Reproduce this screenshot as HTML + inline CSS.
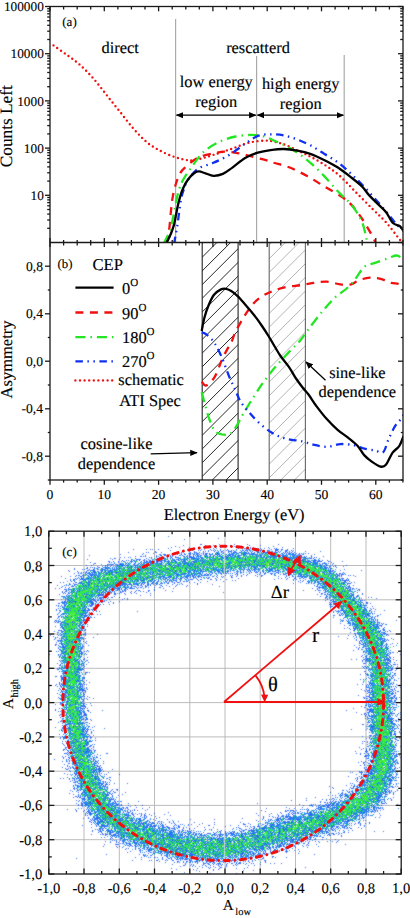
<!DOCTYPE html><html><head><meta charset="utf-8"><style>html,body{margin:0;padding:0;background:#fff;}svg{display:block;}text{font-family:"Liberation Serif",serif;fill:#000;stroke:#000;stroke-width:0.15px;text-rendering:geometricPrecision;}</style></head><body>
<svg width="410" height="918" viewBox="0 0 410 918">
<rect width="410" height="918" fill="#fff"/>
<defs><clipPath id="ca"><rect x="50" y="6.5" width="353" height="236"/></clipPath><clipPath id="cb"><rect x="50" y="242.5" width="353" height="237.5"/></clipPath><clipPath id="hb1"><rect x="202.2" y="242.5" width="35.9" height="237.5"/></clipPath><clipPath id="hb2"><rect x="269.2" y="242.5" width="36.2" height="237.5"/></clipPath><marker id="ah" viewBox="0 0 10 10" refX="9" refY="5" markerWidth="7.5" markerHeight="7.5" orient="auto-start-reverse" markerUnits="userSpaceOnUse"><path d="M0 0.8L10 5L0 9.2z" fill="#000"/></marker><marker id="ahr" viewBox="0 0 10 10" refX="9" refY="5" markerWidth="8" markerHeight="8" orient="auto-start-reverse" markerUnits="userSpaceOnUse"><path d="M0 1.5L10 5L0 8.5z" fill="#f00"/></marker></defs>
<g stroke="#aaa" stroke-width="1.2"><line x1="175.6" y1="19" x2="175.6" y2="242.5"/><line x1="256.6" y1="56" x2="256.6" y2="242.5"/><line x1="344.2" y1="55" x2="344.2" y2="242.5"/></g>
<g stroke="#000" stroke-width="1.3" fill="none"><line x1="176.5" y1="115.2" x2="255.8" y2="115.2" marker-start="url(#ah)" marker-end="url(#ah)"/><line x1="257.4" y1="115.2" x2="343.4" y2="115.2" marker-start="url(#ah)" marker-end="url(#ah)"/></g>
<text x="120.1" y="52.5" font-size="16.4" text-anchor="middle">direct</text>
<text x="258" y="52.5" font-size="16.4" text-anchor="middle">rescatterd</text>
<text x="216.3" y="87" font-size="16.4" text-anchor="middle">low energy</text>
<text x="216.3" y="106.5" font-size="16.4" text-anchor="middle">region</text>
<text x="300.7" y="88.5" font-size="16.4" text-anchor="middle">high energy</text>
<text x="300.7" y="109" font-size="16.4" text-anchor="middle">region</text>
<text x="69.5" y="26" font-size="13" text-anchor="middle" style="stroke-width:0.12px">(a)</text>
<g clip-path="url(#ca)">
<path d="M53.5 45.4C55.5 46.8 61.2 50.8 65.5 53.9C69.8 57 74.5 60.1 79.1 64.1C83.6 68.1 88.2 72.7 92.8 77.8C97.4 82.9 102 89.2 106.5 94.9C111 100.6 115.5 106.2 120.1 111.9C124.6 117.6 129.2 123.9 133.8 129C138.4 134.1 142.9 139 147.4 142.7C151.9 146.4 156.6 148.8 161.1 151.2C165.6 153.6 170.7 155.6 174.7 157C178.7 158.4 182.1 159.1 185 159.7C187.9 160.3 189.4 160.6 192 160.4C194.6 160.2 197.1 159.6 200.7 158.7C204.3 157.8 208.1 156.6 213.4 154.9C218.7 153.2 226.6 150.5 232.4 148.5C238.2 146.5 243 144.1 248.3 142.8C253.6 141.5 259.7 140.8 264.1 140.6C268.6 140.4 271.2 141 275 141.8C278.8 142.6 282.1 143.7 287 145.6C291.9 147.5 298.4 150.7 304.1 153.5C309.8 156.3 315.5 159.2 321.2 162.7C326.9 166.2 332.6 169.8 338.3 174.6C344 179.4 349.7 186 355.4 191.7C361.1 197.4 367.3 203.7 372.4 208.8C377.5 213.9 381.6 217.3 386.1 222.4C390.7 227.5 396.9 236.1 399.7 239.5C402.5 242.9 402.4 242.4 403 243" stroke="#f01010" stroke-width="2.4" stroke-dasharray="0 4.6" stroke-linecap="round" fill="none"/>
<path d="M166.5 244C166.9 241.9 168.3 236.6 169 231.2C169.7 225.8 170.3 217.4 170.9 211.7C171.5 206 171.8 201.8 172.7 197.1C173.5 192.4 174.8 187.4 176 183.5C177.2 179.6 178.5 176.2 180 173.5C181.5 170.8 182 170.2 184.9 167.6C187.8 165 192.8 160.4 197.6 158C202.3 155.6 208.7 154.4 213.4 153.3C218.1 152.2 221.8 151.7 226 151.7C230.2 151.7 234.6 152.5 238.8 153.3C243.1 154.1 247.3 155.4 251.5 156.5C255.7 157.6 260.5 158.6 264.1 159.6C267.8 160.6 269 161.3 273.4 162.7C277.8 164.1 284.8 165.5 290.5 167.8C296.2 170.1 301.9 173.2 307.6 176.3C313.3 179.4 318.9 183.2 324.6 186.6C330.3 190 337.1 193.7 341.7 196.8C346.2 199.9 348.5 201.7 351.9 205.4C355.3 209.1 358.8 213.9 362.2 219C365.6 224.1 370.1 231.9 372.4 236.1C374.7 240.3 375.4 242.7 376 244" stroke="#f01010" stroke-width="2.3" stroke-dasharray="8 6.5" fill="none"/>
<path d="M163.5 244C164.5 241.9 168 235.8 169.6 231.2C171.2 226.6 172.2 221.7 173.3 216.6C174.4 211.5 175.3 205.4 176.3 200.7C177.3 196 178.3 191.9 179.4 188.5C180.5 185.1 181 183.5 183 180C185 176.5 187.7 172.3 191.2 167.6C194.7 162.9 199.1 156 203.9 151.7C208.7 147.4 214.5 144.1 219.8 141.6C225.1 139.1 230.3 137.6 235.6 136.5C240.9 135.4 246.8 134.9 251.5 134.9C256.2 134.9 260.2 135.5 264.1 136.5C268 137.5 271.2 139.3 275 141C278.8 142.7 282.1 143.8 287 146.6C291.9 149.4 298.4 153.2 304.1 157.6C309.8 162 315.5 167.2 321.2 172.9C326.9 178.6 333.2 186.3 338.3 191.7C343.4 197.1 347.9 200.3 351.9 205.4C355.9 210.5 359.6 216 362.2 222.4C364.8 228.8 366.6 240.4 367.5 244" stroke="#22e622" stroke-width="2.3" stroke-dasharray="10 5 1.5 5" fill="none"/>
<path d="M174 244C174.2 242.7 174.9 239.3 175.5 236C176.1 232.7 176.9 228.2 177.6 223.9C178.2 219.7 178.8 214.8 179.4 210.5C180 206.2 180.5 201.8 181.2 198.3C181.9 194.9 182.7 192.7 183.7 189.8C184.7 187 185 184.7 187.3 181.2C189.6 177.7 193.2 172.1 197.6 169C201.9 165.9 208.1 165.2 213.4 162.8C218.7 160.5 224 158.1 229.3 154.9C234.6 151.7 240.3 147 245.1 143.8C249.8 140.6 253.6 137.5 257.8 135.9C262 134.3 266.2 134.4 270.5 134.3C274.8 134.2 279.2 134.5 283.7 135.4C288.2 136.3 292.8 137.8 297.3 139.5C301.9 141.2 306.4 143.2 311 145.6C315.6 148 320.1 151.2 324.6 154.1C329.2 156.9 333.8 159.3 338.3 162.7C342.9 166.1 347.3 170.3 351.9 174.6C356.4 178.9 361 183.5 365.6 188.3C370.2 193.1 375.3 199.1 379.3 203.6C383.3 208.1 386.7 212.2 389.5 215.6C392.3 219 393.9 221.5 396.3 224.1C398.7 226.7 402.7 229.8 404 231" stroke="#1030f0" stroke-width="2.3" stroke-dasharray="7.5 4.5 1.5 4.5 1.5 4.5" fill="none"/>
<path d="M166 244C166.8 242.3 169.6 236.8 170.9 233.7C172.2 230.5 173.1 227.9 173.9 225.1C174.7 222.2 175.1 219.6 175.7 216.6C176.3 213.6 176.9 210.1 177.6 206.8C178.3 203.6 179.1 200.2 180 197.1C180.9 194 181.7 191.4 183 188.5C184.3 185.6 186.1 182.1 188 179.5C189.9 176.9 192.6 174.3 194.4 173C196.2 171.7 197.2 171.3 199.1 171.4C200.9 171.5 203.1 172.6 205.5 173.3C207.9 174 210.5 175.7 213.4 175.8C216.3 175.9 219.7 175.3 222.9 173.9C226.1 172.5 228.7 170.2 232.4 167.6C236.1 164.9 240.9 160.5 245.1 158C249.3 155.5 253.6 154 257.8 152.7C262 151.4 266.2 150.7 270.5 150.1C274.8 149.5 279.2 148.9 283.7 149C288.2 149.1 292.8 149.8 297.3 150.7C301.9 151.5 306.4 152.5 311 154.1C315.6 155.7 320.1 158 324.6 160.3C329.2 162.6 333.8 164.9 338.3 167.8C342.9 170.8 347.9 174.9 351.9 178C355.9 181.1 359.3 183.8 362.2 186.6C365.1 189.4 366.1 192 369 195.1C371.9 198.2 376.4 202.6 379.3 205.4C382.2 208.2 383.8 209.3 386.1 212.2C388.4 215.1 390.6 220.7 392.9 223C395.2 225.3 397.9 224.7 399.7 226C401.5 227.3 402.9 230.2 403.5 231" stroke="#000" stroke-width="2.3" fill="none"/>
</g>
<g clip-path="url(#hb1)" stroke="#111" stroke-width="0.9"><line x1="-34.3" y1="480" x2="203.2" y2="242.5"/><line x1="-20.6" y1="480" x2="216.9" y2="242.5"/><line x1="-6.9" y1="480" x2="230.6" y2="242.5"/><line x1="6.8" y1="480" x2="244.3" y2="242.5"/><line x1="20.5" y1="480" x2="258" y2="242.5"/><line x1="34.2" y1="480" x2="271.7" y2="242.5"/><line x1="47.9" y1="480" x2="285.4" y2="242.5"/><line x1="61.6" y1="480" x2="299.1" y2="242.5"/><line x1="75.3" y1="480" x2="312.8" y2="242.5"/><line x1="89" y1="480" x2="326.5" y2="242.5"/><line x1="102.7" y1="480" x2="340.2" y2="242.5"/><line x1="116.4" y1="480" x2="353.9" y2="242.5"/><line x1="130.1" y1="480" x2="367.6" y2="242.5"/><line x1="143.8" y1="480" x2="381.3" y2="242.5"/><line x1="157.5" y1="480" x2="395" y2="242.5"/><line x1="171.2" y1="480" x2="408.7" y2="242.5"/><line x1="184.9" y1="480" x2="422.4" y2="242.5"/><line x1="198.6" y1="480" x2="436.1" y2="242.5"/><line x1="212.3" y1="480" x2="449.8" y2="242.5"/><line x1="226" y1="480" x2="463.5" y2="242.5"/><line x1="239.7" y1="480" x2="477.2" y2="242.5"/></g>
<g stroke="#222" stroke-width="1.1"><line x1="202.2" y1="242.5" x2="202.2" y2="480"/><line x1="238.1" y1="242.5" x2="238.1" y2="480"/></g>
<g clip-path="url(#hb2)" stroke="#aaa" stroke-width="0.9"><line x1="34.2" y1="480" x2="271.7" y2="242.5"/><line x1="47.9" y1="480" x2="285.4" y2="242.5"/><line x1="61.6" y1="480" x2="299.1" y2="242.5"/><line x1="75.3" y1="480" x2="312.8" y2="242.5"/><line x1="89" y1="480" x2="326.5" y2="242.5"/><line x1="102.7" y1="480" x2="340.2" y2="242.5"/><line x1="116.4" y1="480" x2="353.9" y2="242.5"/><line x1="130.1" y1="480" x2="367.6" y2="242.5"/><line x1="143.8" y1="480" x2="381.3" y2="242.5"/><line x1="157.5" y1="480" x2="395" y2="242.5"/><line x1="171.2" y1="480" x2="408.7" y2="242.5"/><line x1="184.9" y1="480" x2="422.4" y2="242.5"/><line x1="198.6" y1="480" x2="436.1" y2="242.5"/><line x1="212.3" y1="480" x2="449.8" y2="242.5"/><line x1="226" y1="480" x2="463.5" y2="242.5"/><line x1="239.7" y1="480" x2="477.2" y2="242.5"/><line x1="253.4" y1="480" x2="490.9" y2="242.5"/><line x1="267.1" y1="480" x2="504.6" y2="242.5"/><line x1="280.8" y1="480" x2="518.3" y2="242.5"/><line x1="294.5" y1="480" x2="532" y2="242.5"/></g>
<g stroke="#666" stroke-width="1.1"><line x1="269.2" y1="242.5" x2="269.2" y2="480"/><line x1="305.4" y1="242.5" x2="305.4" y2="480"/></g>
<g clip-path="url(#cb)">
<path d="M201.7 381.6C202.4 382.3 203.9 385.8 205.7 385.6C207.5 385.4 210.6 382.2 212.4 380.2C214.2 378.2 214.9 376.9 216.5 373.5C218.1 370.1 220 364.1 221.8 360.1C223.6 356.1 225.6 352.3 227.2 349.4C228.8 346.5 229.9 345.5 231.2 342.7C232.5 339.9 233.2 336.8 235.2 332.6C237.2 328.5 240.4 322.5 243.3 317.8C246.2 313.1 249.6 308 252.7 304.4C255.8 300.8 258.8 298.5 262.1 296.3C265.5 294.1 268.8 292.6 272.8 291C276.8 289.4 281.5 288 286.2 287C290.9 286 296.5 285.8 301 285.1C305.5 284.4 309.1 283.5 313.4 282.9C317.7 282.3 322.3 281.4 326.8 281.6C331.3 281.8 336.2 283.9 340.2 284.3C344.2 284.8 347.9 285 351 284.3C354.1 283.6 355.9 281.3 359 280.2C362.1 279.1 366.2 277.8 369.8 277.6C373.4 277.4 376.9 278 380.5 278.9C384.1 279.8 388.1 282 391.2 282.9C394.3 283.8 397.2 283.1 399.3 284.3C401.4 285.5 402.8 289.1 403.5 290" stroke="#f01010" stroke-width="2.3" stroke-dasharray="8 6.5" fill="none"/>
<path d="M201.7 392.3C202.4 394.8 204.3 402.3 205.7 407C207 411.7 208.2 416.5 209.8 420.5C211.4 424.5 213.1 428.9 215.1 431.2C217.1 433.5 219.3 433.9 221.8 434.4C224.3 434.8 227.4 435.3 229.9 433.9C232.4 432.5 234.4 429.2 236.6 425.8C238.8 422.4 240.4 418.6 243.3 413.7C246.2 408.8 250.4 401.9 254 396.3C257.6 390.7 261.2 385.1 264.8 380.2C268.4 375.3 271.5 371.5 275.5 366.8C279.5 362.1 284.9 356.4 288.9 352.1C292.9 347.9 296.4 345 299.6 341.3C302.8 337.6 304.4 334.7 308 329.9C311.6 325.1 317 317.8 321.5 312.4C326 307 330.4 301.9 334.9 297.7C339.4 293.5 344.7 290.4 348.3 287C351.9 283.6 353.6 281 356.3 277.6C359 274.2 361.3 269.3 364.4 266.8C367.5 264.3 371.1 264.2 375.1 262.8C379.1 261.4 384.9 259.4 388.5 258.2C392.1 257 394.2 255.4 396.6 255.5C399 255.6 401.9 258.4 403 259" stroke="#22e622" stroke-width="2.3" stroke-dasharray="10 5 1.5 5" fill="none"/>
<path d="M201.7 332.6C202.4 332.8 204.1 332.9 205.7 333.9C207.3 334.9 209.5 337 211.1 338.7C212.7 340.4 213.3 340.9 215.1 344C216.9 347.1 219.6 352.2 221.8 357.4C224 362.5 226.3 369.5 228.5 374.9C230.7 380.3 233.2 385.1 235.2 389.6C237.2 394.1 238.3 398 240.6 401.7C242.8 405.4 245.6 408.3 248.7 411.9C251.8 415.5 255.4 419.6 259.4 423.2C263.4 426.8 268.3 430.7 272.8 433.3C277.3 435.9 281.3 437.4 286.2 438.7C291.1 440 297.8 440.4 302.3 441.4C306.8 442.4 309.3 443.7 313.4 444.6C317.5 445.5 322.3 446.9 326.8 446.8C331.3 446.7 335.7 444.4 340.2 444.1C344.7 443.8 349.7 444.4 353.7 445.2C357.7 446 360.8 447.8 364.4 448.7C368 449.6 372 449.9 375.1 450.5C378.2 451.1 381 454.1 383.2 452.2C385.4 450.3 386.5 443.7 388.5 439.3C390.5 434.9 392.9 429.5 395.2 425.9C397.4 422.3 400.4 420.3 402 417.8C403.6 415.3 404.2 412.2 404.6 411.1" stroke="#1030f0" stroke-width="2.3" stroke-dasharray="7.5 4.5 1.5 4.5 1.5 4.5" fill="none"/>
<path d="M201.7 331C202.1 328.8 203.3 322 204.4 317.8C205.5 313.6 206.8 309.5 208.4 305.7C210 301.9 211.8 297.7 213.8 295C215.8 292.3 218.5 290.6 220.5 289.6C222.5 288.6 224.1 288.6 225.9 288.8C227.7 289 229.2 289.8 231.2 291C233.2 292.2 235.4 293.9 237.9 296.3C240.4 298.7 243.3 302.4 246 305.5C248.7 308.6 251.3 311.6 254 315C256.7 318.4 259.6 322.5 262 326C264.4 329.5 266.3 332.5 268.5 336C270.7 339.5 273 343.7 275 347C277 350.3 278.2 352.7 280.5 356C282.8 359.3 286.3 363.1 288.9 366.8C291.5 370.6 293.6 375 296 378.5C298.4 382 300.9 385.3 303 388C305.1 390.7 306.3 391.6 308.5 394.5C310.7 397.4 313.1 401.6 316.1 405.7C319.2 409.8 323.2 415.1 326.8 419.1C330.4 423.1 334 426.8 337.6 429.9C341.2 433 345 435.2 348.3 437.9C351.6 440.6 355 443.1 357.7 446C360.4 448.9 361.9 452.7 364.4 455.4C366.8 458.1 369.7 460.2 372.4 462.1C375.1 464 378.2 466.2 380.5 466.6C382.8 467.1 383.9 467.1 385.9 464.8C387.9 462.5 390.4 455.8 392.6 452.7C394.8 449.6 397.5 448.8 399.3 446C401.1 443.2 402.8 437.7 403.5 436" stroke="#000" stroke-width="2.3" fill="none"/>
</g>
<text x="57.5" y="268" font-size="12.8" text-anchor="start" style="stroke-width:0.12px">(b)</text>
<text x="92.5" y="269.5" font-size="16.6" text-anchor="start">CEP</text>
<line x1="75.4" y1="287.7" x2="113.6" y2="287.7" stroke="#000" stroke-width="2.3" fill="none"/>
<text x="122" y="293.7" font-size="16.4">0<tspan font-size="11" dy="-8">O</tspan></text>
<line x1="75.4" y1="312.5" x2="113.6" y2="312.5" stroke="#f01010" stroke-width="2.3" stroke-dasharray="8 6.5" fill="none"/>
<text x="122" y="318.5" font-size="16.4">90<tspan font-size="11" dy="-8">O</tspan></text>
<line x1="75.4" y1="337.1" x2="113.6" y2="337.1" stroke="#22e622" stroke-width="2.3" stroke-dasharray="10 5 1.5 5" fill="none"/>
<text x="122" y="343.1" font-size="16.4">180<tspan font-size="11" dy="-8">O</tspan></text>
<line x1="75.4" y1="361.3" x2="113.6" y2="361.3" stroke="#1030f0" stroke-width="2.3" stroke-dasharray="7.5 4.5 1.5 4.5 1.5 4.5" fill="none"/>
<text x="122" y="367.3" font-size="16.4">270<tspan font-size="11" dy="-8">O</tspan></text>
<line x1="75.4" y1="380.4" x2="113.6" y2="380.4" stroke="#f01010" stroke-width="2.4" stroke-dasharray="0 4.6" stroke-linecap="round" fill="none"/>
<text x="118.3" y="385" font-size="16.4" text-anchor="start">schematic</text>
<text x="119.3" y="406" font-size="16.4" text-anchor="start">ATI Spec</text>
<text x="116.5" y="449" font-size="16.4" text-anchor="middle">cosine-like</text>
<text x="116.5" y="469" font-size="16.4" text-anchor="middle">dependence</text>
<line x1="150.7" y1="453.9" x2="197" y2="452.7" stroke="#000" stroke-width="1.3" marker-end="url(#ah)"/>
<text x="357.4" y="377.5" font-size="16.4" text-anchor="middle">sine-like</text>
<text x="357.3" y="397" font-size="16.4" text-anchor="middle">dependence</text>
<line x1="325.5" y1="380.2" x2="306" y2="362" stroke="#000" stroke-width="1.3" marker-end="url(#ah)"/>
<g stroke="#1a1a1a" stroke-width="1.3" fill="none"><rect x="50" y="6.5" width="353" height="473.5"/><line x1="50" y1="242.5" x2="403" y2="242.5"/><line x1="50" y1="6.5" x2="50" y2="11.3"/><line x1="50" y1="238" x2="50" y2="247"/><line x1="50" y1="480" x2="50" y2="484.8"/><line x1="63.6" y1="6.5" x2="63.6" y2="9.5"/><line x1="63.6" y1="240" x2="63.6" y2="245.5"/><line x1="63.6" y1="480" x2="63.6" y2="482.6"/><line x1="77.2" y1="6.5" x2="77.2" y2="9.5"/><line x1="77.2" y1="240" x2="77.2" y2="245.5"/><line x1="77.2" y1="480" x2="77.2" y2="482.6"/><line x1="90.7" y1="6.5" x2="90.7" y2="9.5"/><line x1="90.7" y1="240" x2="90.7" y2="245.5"/><line x1="90.7" y1="480" x2="90.7" y2="482.6"/><line x1="104.3" y1="6.5" x2="104.3" y2="11.3"/><line x1="104.3" y1="238" x2="104.3" y2="247"/><line x1="104.3" y1="480" x2="104.3" y2="484.8"/><line x1="117.9" y1="6.5" x2="117.9" y2="9.5"/><line x1="117.9" y1="240" x2="117.9" y2="245.5"/><line x1="117.9" y1="480" x2="117.9" y2="482.6"/><line x1="131.4" y1="6.5" x2="131.4" y2="9.5"/><line x1="131.4" y1="240" x2="131.4" y2="245.5"/><line x1="131.4" y1="480" x2="131.4" y2="482.6"/><line x1="145" y1="6.5" x2="145" y2="9.5"/><line x1="145" y1="240" x2="145" y2="245.5"/><line x1="145" y1="480" x2="145" y2="482.6"/><line x1="158.6" y1="6.5" x2="158.6" y2="11.3"/><line x1="158.6" y1="238" x2="158.6" y2="247"/><line x1="158.6" y1="480" x2="158.6" y2="484.8"/><line x1="172.2" y1="6.5" x2="172.2" y2="9.5"/><line x1="172.2" y1="240" x2="172.2" y2="245.5"/><line x1="172.2" y1="480" x2="172.2" y2="482.6"/><line x1="185.8" y1="6.5" x2="185.8" y2="9.5"/><line x1="185.8" y1="240" x2="185.8" y2="245.5"/><line x1="185.8" y1="480" x2="185.8" y2="482.6"/><line x1="199.3" y1="6.5" x2="199.3" y2="9.5"/><line x1="199.3" y1="240" x2="199.3" y2="245.5"/><line x1="199.3" y1="480" x2="199.3" y2="482.6"/><line x1="212.9" y1="6.5" x2="212.9" y2="11.3"/><line x1="212.9" y1="238" x2="212.9" y2="247"/><line x1="212.9" y1="480" x2="212.9" y2="484.8"/><line x1="226.5" y1="6.5" x2="226.5" y2="9.5"/><line x1="226.5" y1="240" x2="226.5" y2="245.5"/><line x1="226.5" y1="480" x2="226.5" y2="482.6"/><line x1="240" y1="6.5" x2="240" y2="9.5"/><line x1="240" y1="240" x2="240" y2="245.5"/><line x1="240" y1="480" x2="240" y2="482.6"/><line x1="253.6" y1="6.5" x2="253.6" y2="9.5"/><line x1="253.6" y1="240" x2="253.6" y2="245.5"/><line x1="253.6" y1="480" x2="253.6" y2="482.6"/><line x1="267.2" y1="6.5" x2="267.2" y2="11.3"/><line x1="267.2" y1="238" x2="267.2" y2="247"/><line x1="267.2" y1="480" x2="267.2" y2="484.8"/><line x1="280.8" y1="6.5" x2="280.8" y2="9.5"/><line x1="280.8" y1="240" x2="280.8" y2="245.5"/><line x1="280.8" y1="480" x2="280.8" y2="482.6"/><line x1="294.4" y1="6.5" x2="294.4" y2="9.5"/><line x1="294.4" y1="240" x2="294.4" y2="245.5"/><line x1="294.4" y1="480" x2="294.4" y2="482.6"/><line x1="307.9" y1="6.5" x2="307.9" y2="9.5"/><line x1="307.9" y1="240" x2="307.9" y2="245.5"/><line x1="307.9" y1="480" x2="307.9" y2="482.6"/><line x1="321.5" y1="6.5" x2="321.5" y2="11.3"/><line x1="321.5" y1="238" x2="321.5" y2="247"/><line x1="321.5" y1="480" x2="321.5" y2="484.8"/><line x1="335.1" y1="6.5" x2="335.1" y2="9.5"/><line x1="335.1" y1="240" x2="335.1" y2="245.5"/><line x1="335.1" y1="480" x2="335.1" y2="482.6"/><line x1="348.6" y1="6.5" x2="348.6" y2="9.5"/><line x1="348.6" y1="240" x2="348.6" y2="245.5"/><line x1="348.6" y1="480" x2="348.6" y2="482.6"/><line x1="362.2" y1="6.5" x2="362.2" y2="9.5"/><line x1="362.2" y1="240" x2="362.2" y2="245.5"/><line x1="362.2" y1="480" x2="362.2" y2="482.6"/><line x1="375.8" y1="6.5" x2="375.8" y2="11.3"/><line x1="375.8" y1="238" x2="375.8" y2="247"/><line x1="375.8" y1="480" x2="375.8" y2="484.8"/><line x1="389.4" y1="6.5" x2="389.4" y2="9.5"/><line x1="389.4" y1="240" x2="389.4" y2="245.5"/><line x1="389.4" y1="480" x2="389.4" y2="482.6"/><line x1="402.9" y1="6.5" x2="402.9" y2="9.5"/><line x1="402.9" y1="240" x2="402.9" y2="245.5"/><line x1="402.9" y1="480" x2="402.9" y2="482.6"/><line x1="398" y1="242.5" x2="403" y2="242.5"/><line x1="47.2" y1="228.3" x2="50" y2="228.3"/><line x1="400.2" y1="228.3" x2="403" y2="228.3"/><line x1="47.2" y1="220" x2="50" y2="220"/><line x1="400.2" y1="220" x2="403" y2="220"/><line x1="47.2" y1="214.1" x2="50" y2="214.1"/><line x1="400.2" y1="214.1" x2="403" y2="214.1"/><line x1="47.2" y1="209.5" x2="50" y2="209.5"/><line x1="400.2" y1="209.5" x2="403" y2="209.5"/><line x1="47.2" y1="205.8" x2="50" y2="205.8"/><line x1="400.2" y1="205.8" x2="403" y2="205.8"/><line x1="47.2" y1="202.6" x2="50" y2="202.6"/><line x1="400.2" y1="202.6" x2="403" y2="202.6"/><line x1="47.2" y1="199.9" x2="50" y2="199.9"/><line x1="400.2" y1="199.9" x2="403" y2="199.9"/><line x1="47.2" y1="197.5" x2="50" y2="197.5"/><line x1="400.2" y1="197.5" x2="403" y2="197.5"/><line x1="45" y1="195.3" x2="50" y2="195.3"/><line x1="398" y1="195.3" x2="403" y2="195.3"/><line x1="47.2" y1="181.1" x2="50" y2="181.1"/><line x1="400.2" y1="181.1" x2="403" y2="181.1"/><line x1="47.2" y1="172.8" x2="50" y2="172.8"/><line x1="400.2" y1="172.8" x2="403" y2="172.8"/><line x1="47.2" y1="166.9" x2="50" y2="166.9"/><line x1="400.2" y1="166.9" x2="403" y2="166.9"/><line x1="47.2" y1="162.3" x2="50" y2="162.3"/><line x1="400.2" y1="162.3" x2="403" y2="162.3"/><line x1="47.2" y1="158.6" x2="50" y2="158.6"/><line x1="400.2" y1="158.6" x2="403" y2="158.6"/><line x1="47.2" y1="155.4" x2="50" y2="155.4"/><line x1="400.2" y1="155.4" x2="403" y2="155.4"/><line x1="47.2" y1="152.7" x2="50" y2="152.7"/><line x1="400.2" y1="152.7" x2="403" y2="152.7"/><line x1="47.2" y1="150.3" x2="50" y2="150.3"/><line x1="400.2" y1="150.3" x2="403" y2="150.3"/><line x1="45" y1="148.1" x2="50" y2="148.1"/><line x1="398" y1="148.1" x2="403" y2="148.1"/><line x1="47.2" y1="133.9" x2="50" y2="133.9"/><line x1="400.2" y1="133.9" x2="403" y2="133.9"/><line x1="47.2" y1="125.6" x2="50" y2="125.6"/><line x1="400.2" y1="125.6" x2="403" y2="125.6"/><line x1="47.2" y1="119.7" x2="50" y2="119.7"/><line x1="400.2" y1="119.7" x2="403" y2="119.7"/><line x1="47.2" y1="115.1" x2="50" y2="115.1"/><line x1="400.2" y1="115.1" x2="403" y2="115.1"/><line x1="47.2" y1="111.4" x2="50" y2="111.4"/><line x1="400.2" y1="111.4" x2="403" y2="111.4"/><line x1="47.2" y1="108.2" x2="50" y2="108.2"/><line x1="400.2" y1="108.2" x2="403" y2="108.2"/><line x1="47.2" y1="105.5" x2="50" y2="105.5"/><line x1="400.2" y1="105.5" x2="403" y2="105.5"/><line x1="47.2" y1="103.1" x2="50" y2="103.1"/><line x1="400.2" y1="103.1" x2="403" y2="103.1"/><line x1="45" y1="100.9" x2="50" y2="100.9"/><line x1="398" y1="100.9" x2="403" y2="100.9"/><line x1="47.2" y1="86.7" x2="50" y2="86.7"/><line x1="400.2" y1="86.7" x2="403" y2="86.7"/><line x1="47.2" y1="78.4" x2="50" y2="78.4"/><line x1="400.2" y1="78.4" x2="403" y2="78.4"/><line x1="47.2" y1="72.5" x2="50" y2="72.5"/><line x1="400.2" y1="72.5" x2="403" y2="72.5"/><line x1="47.2" y1="67.9" x2="50" y2="67.9"/><line x1="400.2" y1="67.9" x2="403" y2="67.9"/><line x1="47.2" y1="64.2" x2="50" y2="64.2"/><line x1="400.2" y1="64.2" x2="403" y2="64.2"/><line x1="47.2" y1="61" x2="50" y2="61"/><line x1="400.2" y1="61" x2="403" y2="61"/><line x1="47.2" y1="58.3" x2="50" y2="58.3"/><line x1="400.2" y1="58.3" x2="403" y2="58.3"/><line x1="47.2" y1="55.9" x2="50" y2="55.9"/><line x1="400.2" y1="55.9" x2="403" y2="55.9"/><line x1="45" y1="53.7" x2="50" y2="53.7"/><line x1="398" y1="53.7" x2="403" y2="53.7"/><line x1="47.2" y1="39.5" x2="50" y2="39.5"/><line x1="400.2" y1="39.5" x2="403" y2="39.5"/><line x1="47.2" y1="31.2" x2="50" y2="31.2"/><line x1="400.2" y1="31.2" x2="403" y2="31.2"/><line x1="47.2" y1="25.3" x2="50" y2="25.3"/><line x1="400.2" y1="25.3" x2="403" y2="25.3"/><line x1="47.2" y1="20.7" x2="50" y2="20.7"/><line x1="400.2" y1="20.7" x2="403" y2="20.7"/><line x1="47.2" y1="17" x2="50" y2="17"/><line x1="400.2" y1="17" x2="403" y2="17"/><line x1="47.2" y1="13.8" x2="50" y2="13.8"/><line x1="400.2" y1="13.8" x2="403" y2="13.8"/><line x1="47.2" y1="11.1" x2="50" y2="11.1"/><line x1="400.2" y1="11.1" x2="403" y2="11.1"/><line x1="47.2" y1="8.7" x2="50" y2="8.7"/><line x1="400.2" y1="8.7" x2="403" y2="8.7"/><line x1="45" y1="6.5" x2="50" y2="6.5"/><line x1="398" y1="6.5" x2="403" y2="6.5"/><line x1="47.8" y1="480" x2="50" y2="480"/><line x1="400.8" y1="480" x2="403" y2="480"/><line x1="45" y1="456.2" x2="50" y2="456.2"/><line x1="398" y1="456.2" x2="403" y2="456.2"/><line x1="47.8" y1="432.5" x2="50" y2="432.5"/><line x1="400.8" y1="432.5" x2="403" y2="432.5"/><line x1="45" y1="408.8" x2="50" y2="408.8"/><line x1="398" y1="408.8" x2="403" y2="408.8"/><line x1="47.8" y1="385" x2="50" y2="385"/><line x1="400.8" y1="385" x2="403" y2="385"/><line x1="45" y1="361.2" x2="50" y2="361.2"/><line x1="398" y1="361.2" x2="403" y2="361.2"/><line x1="47.8" y1="337.5" x2="50" y2="337.5"/><line x1="400.8" y1="337.5" x2="403" y2="337.5"/><line x1="45" y1="313.8" x2="50" y2="313.8"/><line x1="398" y1="313.8" x2="403" y2="313.8"/><line x1="47.8" y1="290" x2="50" y2="290"/><line x1="400.8" y1="290" x2="403" y2="290"/><line x1="45" y1="266.2" x2="50" y2="266.2"/><line x1="398" y1="266.2" x2="403" y2="266.2"/><line x1="400.8" y1="242.5" x2="403" y2="242.5"/></g>
<text x="43.8" y="11.1" font-size="13.3" text-anchor="end" style="stroke-width:0.12px">100000</text>
<text x="43.8" y="58.3" font-size="13.3" text-anchor="end" style="stroke-width:0.12px">10000</text>
<text x="43.8" y="105.5" font-size="13.3" text-anchor="end" style="stroke-width:0.12px">1000</text>
<text x="43.8" y="152.7" font-size="13.3" text-anchor="end" style="stroke-width:0.12px">100</text>
<text x="43.8" y="199.9" font-size="13.3" text-anchor="end" style="stroke-width:0.12px">10</text>
<text x="43" y="270.9" font-size="13.6" text-anchor="end" style="stroke-width:0.12px">0,8</text>
<text x="43" y="318.4" font-size="13.6" text-anchor="end" style="stroke-width:0.12px">0,4</text>
<text x="43" y="365.9" font-size="13.6" text-anchor="end" style="stroke-width:0.12px">0,0</text>
<text x="43" y="413.4" font-size="13.6" text-anchor="end" style="stroke-width:0.12px">-0,4</text>
<text x="43" y="460.9" font-size="13.6" text-anchor="end" style="stroke-width:0.12px">-0,8</text>
<text x="50" y="498.5" font-size="13.6" text-anchor="middle" style="stroke-width:0.12px">0</text>
<text x="104.3" y="498.5" font-size="13.6" text-anchor="middle" style="stroke-width:0.12px">10</text>
<text x="158.6" y="498.5" font-size="13.6" text-anchor="middle" style="stroke-width:0.12px">20</text>
<text x="212.9" y="498.5" font-size="13.6" text-anchor="middle" style="stroke-width:0.12px">30</text>
<text x="267.2" y="498.5" font-size="13.6" text-anchor="middle" style="stroke-width:0.12px">40</text>
<text x="321.5" y="498.5" font-size="13.6" text-anchor="middle" style="stroke-width:0.12px">50</text>
<text x="375.8" y="498.5" font-size="13.6" text-anchor="middle" style="stroke-width:0.12px">60</text>
<text x="234.2" y="520" font-size="16.4" text-anchor="middle">Electron Energy (eV)</text>
<text transform="translate(12.3 126.2) rotate(-90)" font-size="17.3" text-anchor="middle">Counts Left</text>
<text transform="translate(12.2 359.5) rotate(-90)" font-size="16.5" text-anchor="middle">Asymmetry</text>
<g stroke="#b4b4b4" stroke-width="0.9"><line x1="84" y1="531.2" x2="84" y2="874"/><line x1="48.8" y1="839.7" x2="401.2" y2="839.7"/><line x1="119.3" y1="531.2" x2="119.3" y2="874"/><line x1="48.8" y1="805.4" x2="401.2" y2="805.4"/><line x1="154.5" y1="531.2" x2="154.5" y2="874"/><line x1="48.8" y1="771.2" x2="401.2" y2="771.2"/><line x1="189.8" y1="531.2" x2="189.8" y2="874"/><line x1="48.8" y1="736.9" x2="401.2" y2="736.9"/><line x1="225" y1="531.2" x2="225" y2="874"/><line x1="48.8" y1="702.6" x2="401.2" y2="702.6"/><line x1="260.2" y1="531.2" x2="260.2" y2="874"/><line x1="48.8" y1="668.3" x2="401.2" y2="668.3"/><line x1="295.5" y1="531.2" x2="295.5" y2="874"/><line x1="48.8" y1="634" x2="401.2" y2="634"/><line x1="330.7" y1="531.2" x2="330.7" y2="874"/><line x1="48.8" y1="599.8" x2="401.2" y2="599.8"/><line x1="366" y1="531.2" x2="366" y2="874"/><line x1="48.8" y1="565.5" x2="401.2" y2="565.5"/></g>
<filter id="sb" x="-0.02" y="-0.02" width="1.04" height="1.04" color-interpolation-filters="sRGB"><feConvolveMatrix order="3" kernelMatrix="1 2 1 2 12 2 1 2 1" preserveAlpha="false"/></filter><g stroke-width="1" fill="none" filter="url(#sb)"><path stroke="#2a66f4" d="M0 .5m168 536h1m49 2h1m-35 1h1m15 5h2m17 0h1m14 0h1m12 0h1m30 0h1m-96 1h1m21 0h1m7 0h1m16 0h1m18 0h1m10 0h1m-86 1h1m29 0h2m3 0h1m14 0h1m8 0h1m2 0h1m35 0h1m-103 1h1m7 0h1m9 0h1m20 0h1m9 0h1m21 0h2m6 0h1m2 0h1m14 0h1m13 0h1m-115 1h1m25 0h1m18 0h1m2 0h1m21 0h1m5 0h2m4 0h1m5 0h1m1 0h1m1 0h1m3 0h1m9 0h1m1 0h1m16 0h1m-161 1h1m12 0h1m3 0h1m1 0h1m5 0h1m42 0h1m2 0h1m5 0h1m9 0h1m6 0h1m8 0h1m9 0h1m1 0h2m3 0h1m2 0h2m3 0h1m9 0h1m3 0h4m2 0h2m4 0h1m-118 1h1m21 0h1m5 0h1m1 0h1m7 0h1m2 0h1m1 0h1m1 0h1m4 0h1m2 0h1m2 0h1m1 0h1m2 0h1m1 0h1m8 0h2m1 0h3m1 0h1m4 0h2m4 0h2m5 0h3m5 0h3m7 0h3m3 0h1m-137 1h1m33 0h1m4 0h1m8 0h1m1 0h1m2 0h1m5 0h1m3 0h1m2 0h2m5 0h4m2 0h1m6 0h1m2 0h1m7 0h1m3 0h1m1 0h1m1 0h1m3 0h1m2 0h1m3 0h2m2 0h1m2 0h1m1 0h1m4 0h2m2 0h1m2 0h1m12 0h1m14 0h1m-193 1h1m17 0h1m1 0h1m6 0h2m4 0h1m19 0h1m8 0h1m3 0h1m1 0h1m2 0h1m3 0h1m12 0h2m3 0h1m1 0h1m4 0h1m4 0h4m2 0h2m4 0h2m1 0h1m2 0h1m2 0h1m2 0h2m2 0h1m2 0h7m3 0h4m5 0h1m1 0h1m1 0h1m3 0h1m2 0h1m-152 1h1m9 0h1m22 0h1m2 0h1m1 0h1m2 0h1m4 0h2m1 0h1m1 0h1m2 0h2m2 0h1m1 0h1m1 0h3m1 0h1m2 0h1m2 0h1m1 0h1m1 0h1m13 0h1m3 0h2m2 0h1m1 0h4m1 0h1m3 0h3m7 0h1m2 0h1m2 0h3m3 0h1m7 0h1m1 0h1m1 0h1m1 0h3m1 0h2m2 0h1m2 0h1m3 0h1m1 0h1m2 0h1m-189 1h1m21 0h1m17 0h1m2 0h3m3 0h1m7 0h1m3 0h1m2 0h2m3 0h2m2 0h1m2 0h2m1 0h1m3 0h1m1 0h2m2 0h2m4 0h4m2 0h1m4 0h1m2 0h2m1 0h1m10 0h3m4 0h3m2 0h1m1 0h1m2 0h1m1 0h1m1 0h1m2 0h1m4 0h3m2 0h2m1 0h1m1 0h1m3 0h1m5 0h1m2 0h1m2 0h2m14 0h1m-226 1h1m55 0h1m10 0h1m3 0h2m2 0h2m4 0h1m1 0h1m6 0h2m1 0h1m6 0h1m5 0h1m1 0h2m1 0h2m4 0h1m3 0h1m2 0h2m2 0h1m1 0h1m7 0h1m1 0h2m1 0h2m1 0h1m2 0h3m2 0h1m12 0h1m4 0h1m9 0h1m1 0h1m1 0h1m7 0h1m1 0h1m1 0h1m4 0h1m1 0h1m1 0h1m3 0h2m9 0h1m-177 1h1m4 0h2m1 0h1m1 0h1m10 0h1m1 0h1m2 0h1m5 0h1m2 0h1m1 0h1m2 0h1m7 0h2m1 0h2m1 0h2m2 0h1m4 0h1m1 0h1m4 0h1m1 0h1m1 0h2m2 0h1m5 0h1m1 0h1m3 0h2m1 0h1m1 0h1m3 0h2m2 0h1m11 0h1m3 0h1m1 0h1m1 0h1m1 0h1m3 0h1m4 0h1m2 0h5m5 0h2m1 0h2m3 0h1m3 0h1m1 0h2m3 0h1m2 0h1m1 0h1m4 0h1m11 0h1m-204 1h1m3 0h1m3 0h1m1 0h1m18 0h1m1 0h1m4 0h1m2 0h1m7 0h1m3 0h1m3 0h4m8 0h1m1 0h6m1 0h1m4 0h2m4 0h1m9 0h1m4 0h1m3 0h2m12 0h1m4 0h1m1 0h1m9 0h1m3 0h1m1 0h1m2 0h1m3 0h1m3 0h1m4 0h1m3 0h2m2 0h4m2 0h1m1 0h1m2 0h1m2 0h1m1 0h3m5 0h1m2 0h1m1 0h1m-207 1h1m3 0h2m19 0h1m10 0h1m4 0h1m5 0h1m4 0h2m1 0h1m4 0h1m1 0h1m6 0h1m4 0h1m2 0h1m3 0h1m1 0h2m2 0h1m1 0h1m1 0h2m10 0h1m9 0h1m2 0h2m9 0h1m1 0h1m2 0h1m2 0h1m10 0h1m8 0h2m3 0h1m3 0h1m3 0h1m8 0h1m1 0h1m2 0h1m1 0h1m1 0h2m1 0h2m4 0h3m2 0h2m1 0h1m5 0h1m-233 1h1m24 0h1m6 0h1m11 0h1m4 0h2m1 0h2m3 0h1m3 0h1m6 0h5m1 0h1m5 0h1m4 0h1m3 0h3m1 0h2m4 0h1m4 0h1m1 0h1m3 0h2m10 0h1m1 0h1m3 0h1m2 0h2m1 0h1m23 0h1m35 0h1m8 0h2m8 0h1m1 0h4m8 0h1m-193 1h1m3 0h1m1 0h1m2 0h1m1 0h2m1 0h1m2 0h1m3 0h2m1 0h1m2 0h2m5 0h2m1 0h4m1 0h1m3 0h1m2 0h1m1 0h2m3 0h2m3 0h2m2 0h1m8 0h1m3 0h1m1 0h1m3 0h1m6 0h2m22 0h1m15 0h3m2 0h1m13 0h1m1 0h1m3 0h1m1 0h1m1 0h1m3 0h1m1 0h1m2 0h1m2 0h3m2 0h1m1 0h3m9 0h4m1 0h2m2 0h1m4 0h1m-220 1h2m3 0h1m4 0h1m2 0h1m1 0h2m5 0h2m3 0h1m5 0h1m2 0h1m1 0h2m1 0h3m1 0h2m1 0h3m1 0h2m3 0h1m1 0h3m1 0h1m3 0h1m6 0h1m1 0h1m7 0h3m1 0h1m6 0h1m4 0h1m7 0h1m25 0h1m11 0h1m9 0h1m2 0h1m5 0h1m22 0h1m1 0h2m3 0h1m1 0h2m1 0h3m2 0h2m2 0h5m6 0h2m12 0h1m-253 1h1m18 0h1m1 0h1m6 0h1m6 0h1m5 0h1m3 0h1m4 0h1m3 0h3m1 0h3m1 0h1m3 0h2m3 0h1m6 0h1m4 0h1m2 0h1m5 0h1m2 0h2m4 0h1m1 0h2m7 0h1m4 0h1m4 0h1m27 0h1m1 0h1m2 0h1m1 0h1m1 0h1m4 0h1m3 0h1m3 0h1m14 0h1m12 0h1m3 0h1m1 0h1m10 0h1m2 0h2m3 0h1m1 0h1m6 0h1m6 0h1m-238 1h2m18 0h1m5 0h1m5 0h1m1 0h1m5 0h1m4 0h1m1 0h1m6 0h1m1 0h3m6 0h3m5 0h1m1 0h1m10 0h1m3 0h2m1 0h2m3 0h1m6 0h1m2 0h1m6 0h1m2 0h1m4 0h1m2 0h2m3 0h2m1 0h2m11 0h1m8 0h1m10 0h1m10 0h2m7 0h1m6 0h1m12 0h1m5 0h1m1 0h1m4 0h2m1 0h1m1 0h1m2 0h1m1 0h2m2 0h1m4 0h1m-241 1h1m7 0h1m5 0h1m1 0h2m1 0h2m1 0h1m1 0h1m1 0h2m1 0h2m1 0h1m7 0h2m5 0h1m2 0h2m1 0h2m1 0h2m9 0h2m4 0h1m1 0h2m7 0h2m5 0h1m3 0h1m4 0h1m1 0h1m11 0h1m14 0h1m4 0h1m5 0h1m12 0h1m1 0h2m8 0h1m6 0h1m3 0h1m2 0h1m5 0h1m2 0h1m2 0h1m3 0h1m20 0h2m1 0h2m3 0h1m2 0h1m1 0h1m3 0h1m5 0h1m-247 1h1m4 0h1m13 0h1m1 0h1m3 0h1m5 0h2m2 0h3m2 0h3m6 0h3m7 0h3m1 0h1m8 0h1m6 0h1m4 0h1m4 0h2m1 0h1m4 0h1m4 0h2m2 0h1m19 0h1m16 0h1m8 0h3m3 0h2m1 0h1m9 0h1m1 0h2m1 0h3m11 0h1m8 0h2m2 0h1m16 0h1m13 0h2m4 0h2m7 0h1m10 0h1m-250 1h1m4 0h1m2 0h1m1 0h1m2 0h1m4 0h2m2 0h1m11 0h1m3 0h1m3 0h2m1 0h2m1 0h2m18 0h1m5 0h2m4 0h2m10 0h1m4 0h2m1 0h1m2 0h1m2 0h2m17 0h1m2 0h1m4 0h1m2 0h2m5 0h1m1 0h1m8 0h4m1 0h1m6 0h2m6 0h1m9 0h2m9 0h1m1 0h1m7 0h2m3 0h1m8 0h2m3 0h1m2 0h2m4 0h1m2 0h1m1 0h1m7 0h1m-257 1h1m2 0h1m1 0h1m1 0h1m3 0h2m5 0h1m2 0h1m3 0h1m3 0h1m6 0h1m3 0h1m1 0h3m3 0h1m1 0h1m2 0h1m1 0h1m2 0h1m4 0h1m8 0h1m1 0h1m11 0h3m6 0h1m8 0h1m6 0h1m5 0h1m1 0h1m6 0h1m2 0h2m8 0h1m1 0h1m2 0h1m3 0h1m3 0h1m3 0h1m4 0h1m5 0h2m6 0h1m6 0h1m7 0h1m6 0h1m14 0h1m3 0h1m10 0h2m4 0h1m3 0h1m1 0h2m1 0h1m6 0h1m-263 1h1m11 0h2m6 0h1m2 0h1m3 0h2m2 0h3m4 0h1m1 0h1m1 0h1m2 0h1m1 0h1m2 0h1m3 0h1m2 0h1m5 0h1m5 0h2m1 0h2m3 0h1m11 0h1m3 0h2m16 0h2m3 0h1m4 0h1m4 0h1m10 0h1m9 0h3m1 0h1m1 0h2m2 0h1m12 0h1m3 0h1m5 0h2m2 0h1m7 0h1m1 0h2m3 0h3m9 0h1m3 0h1m8 0h2m15 0h1m4 0h1m4 0h2m3 0h2m-258 1h1m7 0h1m1 0h1m4 0h1m3 0h1m3 0h2m3 0h3m2 0h1m5 0h2m1 0h1m2 0h1m3 0h1m10 0h1m5 0h1m4 0h1m4 0h1m1 0h1m5 0h1m7 0h1m1 0h1m2 0h1m1 0h1m6 0h1m5 0h1m5 0h1m2 0h1m4 0h1m1 0h1m4 0h1m5 0h1m2 0h1m5 0h1m2 0h1m13 0h1m2 0h1m1 0h1m1 0h1m1 0h2m1 0h1m1 0h2m3 0h2m3 0h1m3 0h1m1 0h4m4 0h1m2 0h1m4 0h1m1 0h1m5 0h1m8 0h1m5 0h2m13 0h1m4 0h1m1 0h1m13 0h1m-277 1h1m18 0h2m1 0h5m5 0h1m1 0h1m1 0h1m5 0h3m1 0h1m10 0h1m5 0h2m1 0h1m2 0h1m2 0h1m18 0h2m8 0h2m4 0h2m3 0h1m13 0h1m5 0h2m3 0h1m2 0h1m3 0h1m4 0h1m3 0h2m4 0h2m4 0h1m6 0h1m2 0h1m3 0h1m1 0h1m2 0h1m1 0h1m7 0h1m2 0h1m1 0h1m1 0h1m1 0h1m3 0h1m1 0h3m6 0h1m1 0h1m6 0h2m5 0h1m22 0h1m4 0h1m1 0h2m6 0h1m20 0h1m-293 1h1m7 0h1m8 0h1m6 0h3m1 0h1m3 0h2m2 0h1m2 0h1m1 0h1m17 0h1m1 0h1m11 0h1m4 0h1m11 0h1m2 0h2m8 0h1m2 0h1m1 0h1m1 0h1m1 0h1m6 0h2m4 0h1m1 0h1m3 0h5m1 0h1m2 0h2m4 0h1m1 0h3m2 0h1m2 0h1m1 0h2m1 0h1m5 0h2m2 0h1m7 0h1m1 0h1m3 0h1m1 0h1m1 0h1m4 0h1m4 0h2m2 0h1m1 0h2m2 0h1m3 0h1m11 0h2m7 0h1m6 0h1m2 0h2m11 0h1m2 0h4m-255 1h1m2 0h1m1 0h1m1 0h2m2 0h1m1 0h2m1 0h2m2 0h1m2 0h1m2 0h1m4 0h1m1 0h2m1 0h5m1 0h1m4 0h1m9 0h2m12 0h1m3 0h1m8 0h1m5 0h1m5 0h1m1 0h1m17 0h1m16 0h1m2 0h1m3 0h1m1 0h1m2 0h1m1 0h1m1 0h1m6 0h1m5 0h2m1 0h1m7 0h1m3 0h3m2 0h1m2 0h1m3 0h1m8 0h3m8 0h1m1 0h1m2 0h2m1 0h1m13 0h1m9 0h1m2 0h2m5 0h1m3 0h1m9 0h1m-270 1h1m3 0h1m2 0h1m5 0h2m3 0h1m1 0h1m3 0h1m4 0h1m2 0h2m1 0h1m2 0h1m3 0h1m5 0h1m4 0h1m3 0h1m1 0h1m7 0h1m4 0h1m3 0h1m6 0h1m11 0h1m5 0h1m8 0h3m1 0h1m2 0h1m1 0h1m3 0h4m1 0h1m3 0h1m2 0h1m2 0h1m2 0h1m4 0h2m1 0h1m1 0h2m1 0h1m1 0h1m1 0h1m3 0h2m11 0h1m10 0h1m3 0h2m4 0h3m5 0h1m4 0h1m1 0h3m2 0h1m8 0h2m23 0h1m1 0h1m3 0h2m1 0h1m2 0h1m2 0h2m1 0h1m1 0h1m-262 1h1m2 0h1m2 0h4m1 0h1m1 0h1m9 0h1m2 0h1m1 0h1m8 0h1m8 0h1m8 0h2m6 0h1m3 0h3m5 0h3m15 0h2m3 0h3m7 0h2m1 0h2m5 0h1m2 0h2m1 0h2m1 0h1m5 0h1m4 0h1m13 0h1m1 0h1m5 0h1m3 0h1m9 0h1m1 0h1m4 0h1m6 0h1m2 0h1m5 0h1m2 0h2m4 0h2m3 0h1m4 0h1m1 0h1m1 0h1m1 0h1m18 0h1m11 0h2m1 0h1m1 0h3m1 0h1m-270 1h1m1 0h2m2 0h2m1 0h1m1 0h1m2 0h3m1 0h1m7 0h1m18 0h1m9 0h2m1 0h1m20 0h2m10 0h1m1 0h1m7 0h2m8 0h1m1 0h2m1 0h1m1 0h1m6 0h2m1 0h1m1 0h3m1 0h1m6 0h1m7 0h1m4 0h1m1 0h1m4 0h1m3 0h1m4 0h1m8 0h1m5 0h2m12 0h1m10 0h1m1 0h1m9 0h1m1 0h2m4 0h2m27 0h1m1 0h3m1 0h1m6 0h1m1 0h1m2 0h1m-293 1h1m8 0h1m4 0h1m4 0h2m1 0h1m4 0h1m2 0h1m3 0h1m1 0h2m2 0h1m13 0h1m3 0h1m1 0h1m1 0h1m13 0h1m2 0h1m9 0h1m1 0h2m5 0h1m1 0h3m5 0h3m4 0h1m4 0h1m3 0h2m1 0h1m3 0h2m1 0h1m1 0h4m11 0h2m2 0h1m4 0h1m1 0h1m7 0h1m4 0h1m4 0h1m15 0h1m3 0h1m16 0h1m7 0h1m5 0h2m3 0h4m1 0h2m1 0h1m1 0h1m1 0h1m2 0h1m15 0h1m7 0h2m1 0h1m1 0h1m13 0h1m-275 1h1m13 0h1m11 0h1m8 0h1m15 0h1m2 0h1m4 0h1m1 0h1m2 0h1m2 0h1m1 0h1m4 0h1m4 0h1m2 0h2m3 0h1m1 0h1m5 0h1m3 0h1m1 0h1m3 0h2m2 0h1m2 0h1m1 0h1m2 0h1m2 0h1m1 0h1m2 0h1m2 0h1m7 0h1m4 0h1m8 0h2m52 0h1m3 0h1m5 0h1m5 0h2m1 0h1m1 0h1m3 0h2m2 0h1m5 0h1m1 0h1m9 0h1m-268 1h1m9 0h1m1 0h1m1 0h1m1 0h1m1 0h1m2 0h1m1 0h1m1 0h1m16 0h1m22 0h1m13 0h1m1 0h2m4 0h2m6 0h1m1 0h1m2 0h2m6 0h1m1 0h2m1 0h1m1 0h2m2 0h1m2 0h1m8 0h1m7 0h1m2 0h2m6 0h1m22 0h1m39 0h1m2 0h1m5 0h1m6 0h2m3 0h1m3 0h1m5 0h3m21 0h1m2 0h1m2 0h1m1 0h3m3 0h1m-278 1h1m2 0h2m1 0h1m3 0h3m3 0h1m5 0h1m4 0h3m2 0h1m1 0h1m2 0h2m14 0h2m11 0h2m2 0h1m2 0h1m8 0h1m5 0h1m4 0h2m2 0h1m2 0h1m1 0h2m5 0h1m5 0h1m2 0h1m1 0h3m4 0h1m2 0h2m8 0h2m4 0h1m3 0h1m5 0h1m47 0h1m11 0h1m6 0h1m2 0h1m8 0h1m9 0h1m1 0h2m4 0h1m8 0h1m6 0h2m1 0h1m3 0h1m1 0h1m-279 1h1m12 0h1m1 0h1m4 0h1m7 0h1m14 0h1m1 0h1m5 0h2m1 0h2m6 0h1m4 0h1m2 0h3m1 0h1m3 0h1m1 0h1m1 0h1m1 0h1m3 0h1m8 0h1m1 0h1m1 0h1m1 0h4m3 0h1m7 0h1m9 0h1m17 0h1m15 0h1m2 0h1m57 0h1m6 0h1m2 0h1m7 0h1m1 0h1m2 0h1m4 0h1m13 0h1m4 0h1m1 0h7m-278 1h1m2 0h1m13 0h1m10 0h1m2 0h1m2 0h1m13 0h1m1 0h1m6 0h1m3 0h1m1 0h1m2 0h2m8 0h1m3 0h1m1 0h1m4 0h1m6 0h2m2 0h1m1 0h1m4 0h1m3 0h1m2 0h2m1 0h2m19 0h1m15 0h1m74 0h1m3 0h1m4 0h1m1 0h1m1 0h1m2 0h2m1 0h2m1 0h2m22 0h2m3 0h1m-290 1h1m2 0h1m11 0h2m2 0h3m4 0h3m1 0h1m22 0h1m1 0h1m1 0h1m1 0h1m2 0h2m5 0h1m6 0h1m6 0h2m2 0h1m4 0h2m2 0h2m3 0h1m4 0h1m1 0h1m3 0h1m1 0h1m2 0h2m10 0h1m4 0h1m5 0h1m99 0h1m7 0h2m1 0h1m3 0h1m1 0h1m4 0h2m7 0h2m8 0h1m1 0h1m2 0h1m4 0h1m2 0h1m-286 1h1m3 0h1m4 0h1m2 0h1m1 0h1m7 0h1m2 0h1m10 0h1m1 0h1m1 0h1m8 0h3m1 0h4m4 0h1m5 0h1m2 0h1m1 0h2m1 0h1m3 0h1m2 0h2m2 0h1m1 0h1m2 0h3m1 0h1m2 0h2m5 0h1m6 0h1m15 0h1m95 0h1m12 0h1m1 0h1m2 0h1m6 0h2m1 0h1m1 0h2m10 0h1m1 0h1m1 0h1m3 0h2m2 0h4m-282 1h2m3 0h3m5 0h1m5 0h2m17 0h1m1 0h1m7 0h2m3 0h2m2 0h1m1 0h4m1 0h2m1 0h2m3 0h1m1 0h1m4 0h1m1 0h1m2 0h1m2 0h1m2 0h1m12 0h1m4 0h1m4 0h1m14 0h1m14 0h1m105 0h1m4 0h2m1 0h1m5 0h1m2 0h1m7 0h1m3 0h1m-291 1h1m6 0h1m1 0h1m1 0h1m5 0h1m8 0h1m1 0h1m2 0h1m8 0h1m6 0h2m5 0h1m3 0h1m2 0h5m1 0h1m2 0h1m3 0h1m5 0h2m1 0h2m3 0h1m1 0h2m1 0h1m4 0h1m5 0h1m4 0h1m9 0h1m10 0h1m126 0h1m9 0h1m8 0h1m12 0h1m2 0h1m3 0h1m-292 1h1m8 0h3m5 0h1m4 0h1m1 0h1m9 0h1m1 0h1m8 0h1m5 0h2m1 0h1m6 0h1m7 0h1m2 0h2m6 0h1m2 0h2m15 0h1m6 0h1m5 0h1m10 0h1m32 0h1m96 0h2m4 0h2m1 0h1m6 0h1m4 0h1m4 0h1m5 0h2m-289 1h1m3 0h1m3 0h1m21 0h1m15 0h2m1 0h1m1 0h1m2 0h1m1 0h2m1 0h1m3 0h2m1 0h2m1 0h2m4 0h1m1 0h1m1 0h2m3 0h1m2 0h1m5 0h1m4 0h2m157 0h6m5 0h1m1 0h1m11 0h1m2 0h1m1 0h1m1 0h1m-296 1h1m3 0h1m8 0h1m5 0h1m6 0h1m4 0h1m11 0h1m2 0h1m4 0h1m2 0h1m4 0h1m1 0h2m1 0h1m1 0h1m3 0h1m4 0h3m1 0h1m2 0h1m5 0h1m19 0h1m9 0h1m138 0h1m4 0h1m1 0h1m7 0h1m2 0h1m2 0h2m10 0h1m1 0h2m1 0h1m1 0h2m2 0h1m-293 1h3m2 0h3m1 0h1m5 0h1m4 0h1m8 0h1m10 0h1m6 0h1m6 0h2m1 0h1m2 0h2m1 0h1m26 0h1m162 0h1m7 0h2m22 0h2m1 0h1m5 0h2m-294 1h1m1 0h1m4 0h1m4 0h1m18 0h1m1 0h1m1 0h1m3 0h2m2 0h1m2 0h1m3 0h2m1 0h1m2 0h1m1 0h2m10 0h1m1 0h2m8 0h2m4 0h1m10 0h1m122 0h1m14 0h1m11 0h1m2 0h2m3 0h1m1 0h1m1 0h2m9 0h1m9 0h3m6 0h1m1 0h1m-298 1h1m2 0h2m4 0h1m4 0h1m2 0h1m16 0h2m5 0h1m2 0h1m1 0h3m1 0h1m1 0h1m5 0h1m1 0h2m1 0h1m5 0h1m3 0h1m4 0h1m2 0h1m4 0h1m23 0h1m152 0h1m16 0h1m1 0h2m5 0h1m-290 1h1m1 0h1m3 0h1m1 0h1m2 0h1m18 0h1m5 0h1m2 0h2m2 0h1m1 0h1m2 0h2m2 0h1m5 0h2m8 0h1m3 0h1m11 0h1m76 0h1m95 0h1m4 0h2m4 0h1m1 0h1m3 0h1m4 0h1m6 0h1m8 0h1m-295 1h1m1 0h1m2 0h2m2 0h1m3 0h1m22 0h1m1 0h1m1 0h1m1 0h1m1 0h3m4 0h2m3 0h1m4 0h1m6 0h1m4 0h1m13 0h1m170 0h2m4 0h1m6 0h1m4 0h3m8 0h2m10 0h1m-304 1h1m24 0h1m1 0h2m6 0h1m3 0h6m1 0h1m3 0h1m4 0h2m9 0h1m191 0h1m3 0h1m2 0h2m1 0h1m1 0h1m5 0h1m2 0h1m2 0h1m1 0h1m5 0h1m2 0h2m8 0h1m-297 1h1m1 0h1m4 0h1m15 0h1m1 0h1m4 0h1m1 0h3m1 0h2m2 0h1m33 0h1m9 0h1m175 0h1m3 0h1m2 0h1m1 0h1m10 0h1m3 0h2m1 0h1m3 0h2m-298 1h1m2 0h1m2 0h1m1 0h1m5 0h1m9 0h2m11 0h1m4 0h1m3 0h1m6 0h1m205 0h1m5 0h2m3 0h1m2 0h1m1 0h1m1 0h1m4 0h1m1 0h1m1 0h1m3 0h1m1 0h1m2 0h2m-293 1h1m2 0h1m1 0h2m13 0h1m11 0h1m3 0h3m4 0h1m2 0h2m6 0h1m206 0h1m2 0h1m3 0h1m1 0h1m2 0h2m10 0h1m2 0h1m2 0h1m2 0h1m8 0h1m2 0h1m-306 1h1m4 0h1m3 0h1m11 0h1m2 0h1m2 0h1m5 0h2m2 0h1m3 0h1m16 0h1m2 0h1m197 0h1m1 0h1m1 0h1m16 0h1m3 0h1m3 0h2m3 0h1m1 0h1m14 0h1m-310 1h2m3 0h1m7 0h1m10 0h4m5 0h1m1 0h1m6 0h1m12 0h1m4 0h1m199 0h1m4 0h1m4 0h1m1 0h1m10 0h1m1 0h2m-289 1h1m2 0h1m18 0h1m2 0h2m1 0h3m1 0h2m3 0h1m1 0h1m1 0h1m218 0h1m4 0h2m1 0h1m6 0h1m2 0h1m8 0h3m5 0h3m1 0h1m-303 1h1m1 0h2m1 0h1m2 0h1m2 0h3m8 0h1m3 0h5m2 0h1m4 0h1m2 0h2m5 0h1m8 0h1m213 0h4m3 0h1m16 0h1m2 0h1m-300 1h1m1 0h4m2 0h1m2 0h1m2 0h1m6 0h1m3 0h3m2 0h2m3 0h1m2 0h1m2 0h1m5 0h1m4 0h1m215 0h1m1 0h1m6 0h1m9 0h1m1 0h1m4 0h1m3 0h1m1 0h2m3 0h2m-310 1h2m2 0h1m1 0h1m1 0h1m17 0h1m6 0h3m1 0h1m2 0h1m14 0h1m216 0h1m2 0h1m2 0h3m3 0h2m5 0h1m6 0h1m3 0h1m5 0h2m2 0h1m-307 1h1m16 0h1m9 0h3m1 0h1m1 0h1m2 0h1m2 0h1m5 0h1m219 0h3m1 0h5m1 0h1m5 0h1m14 0h1m-305 1h1m1 0h1m2 0h1m2 0h2m2 0h1m9 0h1m2 0h1m2 0h1m4 0h2m1 0h1m2 0h1m3 0h1m238 0h1m2 0h2m15 0h1m1 0h1m3 0h3m-309 1h1m3 0h1m1 0h1m2 0h1m3 0h1m2 0h1m9 0h1m1 0h1m3 0h2m3 0h1m234 0h1m1 0h1m1 0h1m2 0h1m2 0h1m2 0h3m11 0h1m1 0h2m11 0h1m-311 1h1m16 0h1m3 0h1m2 0h1m6 0h1m3 0h1m232 0h1m2 0h1m4 0h1m18 0h1m3 0h1m2 0h1m2 0h1m-310 1h1m1 0h1m4 0h2m1 0h1m11 0h1m1 0h1m2 0h1m2 0h1m4 0h2m246 0h2m7 0h1m13 0h2m4 0h1m2 0h1m-318 1h1m9 0h2m16 0h1m3 0h2m1 0h1m2 0h1m246 0h1m8 0h1m9 0h1m4 0h1m5 0h1m3 0h1m-320 1h1m2 0h1m8 0h1m1 0h1m7 0h1m2 0h9m2 0h1m3 0h1m234 0h1m3 0h1m2 0h1m1 0h4m2 0h1m7 0h1m1 0h1m2 0h1m3 0h2m1 0h1m2 0h1m14 0h1m-325 1h1m17 0h1m4 0h1m3 0h1m5 0h1m2 0h1m2 0h1m37 0h1m195 0h1m2 0h2m5 0h1m1 0h1m6 0h3m7 0h1m6 0h1m1 0h1m2 0h1m-316 1h1m27 0h1m1 0h1m243 0h1m6 0h1m3 0h2m2 0h1m1 0h1m12 0h2m6 0h1m-309 1h2m11 0h1m3 0h1m2 0h1m1 0h2m2 0h1m247 0h1m4 0h1m1 0h1m8 0h1m9 0h1m2 0h5m1 0h1m1 0h1m-318 1h1m3 0h1m1 0h1m18 0h1m2 0h1m3 0h1m2 0h2m3 0h1m2 0h1m238 0h1m1 0h1m1 0h1m1 0h1m5 0h1m7 0h2m1 0h1m2 0h1m1 0h1m12 0h1m-321 1h1m20 0h1m2 0h4m1 0h1m243 0h2m4 0h2m4 0h3m2 0h1m1 0h1m2 0h2m5 0h1m2 0h1m1 0h3m7 0h1m-320 1h2m5 0h2m4 0h1m8 0h1m3 0h3m1 0h1m263 0h1m11 0h1m1 0h1m3 0h1m1 0h1m2 0h1m1 0h1m-320 1h1m2 0h1m5 0h1m9 0h2m4 0h2m2 0h2m1 0h2m2 0h1m238 0h1m10 0h1m10 0h1m8 0h1m1 0h1m4 0h2m1 0h1m-295 1h1m2 0h1m3 0h3m253 0h1m3 0h1m1 0h1m1 0h1m2 0h1m1 0h1m12 0h1m4 0h1m-316 1h1m8 0h1m9 0h1m2 0h1m2 0h1m255 0h1m7 0h1m3 0h1m18 0h2m2 0h1m1 0h1m-323 1h2m7 0h1m12 0h1m1 0h1m3 0h2m3 0h2m251 0h1m1 0h1m2 0h1m3 0h2m1 0h1m3 0h1m2 0h2m6 0h1m4 0h1m3 0h1m18 0h1m-343 1h1m1 0h1m1 0h1m1 0h1m11 0h1m10 0h1m2 0h2m252 0h1m1 0h1m4 0h1m6 0h3m1 0h1m1 0h2m1 0h1m2 0h1m1 0h1m1 0h1m3 0h1m-320 1h1m1 0h2m2 0h3m8 0h1m1 0h1m5 0h3m265 0h1m3 0h1m6 0h1m6 0h1m4 0h1m3 0h1m1 0h1m1 0h1m-320 1h2m3 0h1m15 0h1m258 0h1m7 0h3m2 0h2m6 0h1m2 0h1m1 0h2m2 0h2m1 0h1m7 0h1m1 0h1m-324 1h1m6 0h2m3 0h1m3 0h1m2 0h2m1 0h2m1 0h1m1 0h1m264 0h2m1 0h3m13 0h1m3 0h3m4 0h1m3 0h1m-327 1h1m3 0h2m12 0h1m3 0h1m261 0h1m4 0h2m6 0h1m11 0h1m2 0h2m3 0h1m1 0h3m-327 1h1m5 0h2m15 0h2m1 0h4m2 0h1m268 0h1m4 0h1m1 0h1m6 0h2m1 0h1m1 0h1m1 0h2m2 0h1m-322 1h1m2 0h1m2 0h1m286 0h1m1 0h2m1 0h1m3 0h1m4 0h1m2 0h1m5 0h1m1 0h1m5 0h1m-323 1h2m7 0h1m8 0h2m2 0h1m259 0h1m4 0h1m3 0h3m1 0h1m3 0h1m13 0h1m1 0h1m1 0h1m3 0h1m-321 1h2m4 0h1m2 0h1m1 0h1m7 0h1m2 0h1m264 0h1m3 0h2m1 0h1m1 0h1m1 0h1m8 0h1m2 0h1m2 0h1m6 0h1m-326 1h2m1 0h1m2 0h2m15 0h2m1 0h2m267 0h2m12 0h1m3 0h1m3 0h1m4 0h1m2 0h2m4 0h1m-336 1h1m7 0h2m12 0h1m2 0h2m286 0h1m10 0h3m4 0h1m1 0h1m2 0h1m-334 1h2m21 0h1m4 0h1m264 0h1m6 0h1m1 0h1m3 0h1m11 0h1m3 0h1m1 0h1m2 0h1m-322 1h1m1 0h1m5 0h1m6 0h1m6 0h1m268 0h2m1 0h2m4 0h1m7 0h1m11 0h3m-329 1h1m21 0h3m1 0h3m11 0h1m257 0h1m3 0h1m3 0h2m1 0h1m6 0h1m3 0h1m3 0h2m1 0h1m1 0h2m-338 1h1m7 0h1m1 0h2m19 0h1m3 0h1m262 0h1m6 0h1m9 0h1m10 0h1m5 0h1m3 0h1m1 0h1m-336 1h1m8 0h3m1 0h1m12 0h1m258 0h1m14 0h1m9 0h1m12 0h1m6 0h1m-329 1h1m1 0h1m3 0h1m18 0h3m10 0h1m262 0h1m4 0h1m1 0h1m1 0h1m12 0h1m-324 1h1m3 0h1m1 0h1m17 0h1m2 0h2m1 0h1m261 0h1m12 0h1m1 0h1m1 0h1m1 0h1m2 0h1m7 0h1m2 0h1m1 0h1m1 0h1m6 0h1m-338 1h1m6 0h1m2 0h1m1 0h2m11 0h1m3 0h1m272 0h1m6 0h1m9 0h1m5 0h2m3 0h1m2 0h1m5 0h1m-337 1h2m1 0h2m3 0h1m3 0h1m9 0h2m275 0h1m3 0h1m3 0h1m4 0h1m8 0h1m1 0h1m2 0h2m1 0h1m1 0h1m-331 1h1m1 0h1m8 0h1m1 0h2m6 0h2m2 0h1m2 0h1m272 0h1m1 0h1m7 0h1m7 0h1m3 0h2m1 0h2m-330 1h1m4 0h1m4 0h1m6 0h1m11 0h1m273 0h1m2 0h1m2 0h1m6 0h1m8 0h1m1 0h1m-325 1h1m1 0h1m6 0h1m9 0h1m1 0h1m5 0h1m272 0h2m2 0h1m1 0h1m1 0h2m6 0h1m2 0h1m2 0h2m3 0h1m5 0h1m4 0h1m-343 1h2m4 0h2m1 0h1m17 0h1m278 0h3m1 0h1m16 0h1m3 0h1m3 0h1m-336 1h1m2 0h1m8 0h1m2 0h1m4 0h1m4 0h1m7 0h1m265 0h1m4 0h1m7 0h2m8 0h1m2 0h2m2 0h1m1 0h1m-328 1h2m1 0h2m14 0h2m2 0h2m281 0h2m9 0h1m2 0h1m1 0h1m1 0h1m2 0h1m1 0h1m4 0h1m-332 1h3m7 0h1m1 0h1m3 0h1m3 0h1m273 0h1m2 0h1m2 0h2m5 0h1m5 0h2m4 0h1m3 0h1m-328 1h1m5 0h1m1 0h1m1 0h1m9 0h1m2 0h2m275 0h1m7 0h2m1 0h1m2 0h1m8 0h1m5 0h2m-330 1h2m2 0h2m7 0h1m7 0h1m277 0h1m2 0h2m3 0h1m11 0h1m1 0h1m2 0h1m3 0h1m-327 1h1m18 0h1m6 0h1m265 0h1m12 0h1m2 0h1m8 0h2m6 0h1m3 0h1m-335 1h1m1 0h1m2 0h2m2 0h2m8 0h1m3 0h3m2 0h1m1 0h1m1 0h1m274 0h2m5 0h2m14 0h1m-323 1h2m9 0h2m4 0h2m280 0h1m1 0h1m3 0h1m11 0h1m1 0h1m6 0h1m1 0h1m4 0h1m-337 1h1m1 0h1m3 0h2m8 0h1m1 0h4m285 0h1m1 0h2m8 0h1m7 0h1m1 0h1m-342 1h1m8 0h1m1 0h1m4 0h1m2 0h1m10 0h1m1 0h1m2 0h1m1 0h1m277 0h1m3 0h1m1 0h1m9 0h1m6 0h1m12 0h1m-343 1h1m1 0h1m1 0h1m1 0h1m11 0h1m2 0h1m282 0h1m23 0h3m-330 1h1m4 0h1m13 0h2m1 0h1m279 0h1m3 0h2m2 0h1m15 0h2m2 0h1m-331 1h1m1 0h1m1 0h1m1 0h1m1 0h1m12 0h1m6 0h1m275 0h1m2 0h1m6 0h1m3 0h1m2 0h1m1 0h2m5 0h2m2 0h1m-329 1h1m18 0h1m280 0h1m1 0h4m1 0h1m1 0h1m9 0h1m1 0h1m1 0h1m1 0h1m-317 1h1m2 0h1m5 0h2m266 0h1m4 0h1m6 0h2m1 0h2m7 0h1m9 0h5m3 0h1m-335 1h1m1 0h3m1 0h1m3 0h1m3 0h1m1 0h3m3 0h1m4 0h2m274 0h1m2 0h2m1 0h1m1 0h1m9 0h2m2 0h2m1 0h2m1 0h1m5 0h1m-337 1h1m5 0h1m8 0h1m2 0h1m3 0h1m279 0h1m2 0h1m1 0h1m1 0h2m1 0h2m15 0h2m-328 1h1m8 0h1m5 0h1m9 0h1m282 0h1m1 0h1m5 0h1m3 0h2m1 0h1m1 0h1m5 0h1m-338 1h1m4 0h1m16 0h1m2 0h2m279 0h3m3 0h1m3 0h1m12 0h1m1 0h2m-330 1h1m11 0h2m5 0h1m1 0h1m1 0h1m2 0h1m288 0h1m11 0h1m2 0h1m2 0h3m1 0h1m-339 1h2m1 0h1m1 0h1m2 0h1m15 0h1m285 0h1m1 0h1m4 0h1m7 0h3m1 0h1m2 0h1m-328 1h1m1 0h2m6 0h1m3 0h1m5 0h1m277 0h1m1 0h2m1 0h1m8 0h1m6 0h1m4 0h2m7 0h1m-339 1h1m2 0h1m7 0h1m6 0h1m2 0h1m2 0h1m279 0h1m2 0h1m1 0h1m3 0h1m2 0h3m7 0h3m2 0h1m-334 1h1m1 0h1m1 0h1m1 0h2m3 0h1m5 0h2m2 0h2m2 0h1m283 0h1m14 0h1m3 0h1m2 0h1m2 0h2m4 0h1m-341 1h2m18 0h7m284 0h2m1 0h2m2 0h1m1 0h1m13 0h2m3 0h1m-330 1h1m309 0h1m3 0h1m4 0h1m1 0h4m3 0h1m-337 1h1m4 0h1m9 0h1m1 0h1m1 0h1m285 0h2m20 0h1m1 0h1m-326 1h1m7 0h1m5 0h1m1 0h1m1 0h1m3 0h3m1 0h1m280 0h1m2 0h1m2 0h1m15 0h1m-331 1h3m10 0h1m3 0h1m5 0h1m279 0h1m6 0h1m2 0h1m1 0h1m8 0h1m7 0h2m-320 1h1m1 0h1m3 0h1m2 0h1m274 0h1m5 0h2m2 0h1m2 0h1m9 0h1m4 0h2m4 0h1m-334 1h1m2 0h1m10 0h2m2 0h2m286 0h2m2 0h1m2 0h1m17 0h1m2 0h1m-341 1h2m3 0h2m3 0h1m1 0h1m11 0h1m291 0h2m5 0h1m10 0h2m1 0h1m-332 1h3m4 0h2m9 0h1m2 0h2m284 0h1m2 0h1m5 0h1m5 0h1m1 0h1m5 0h1m1 0h1m-333 1h4m3 0h1m3 0h1m6 0h1m4 0h1m284 0h1m3 0h1m2 0h1m14 0h1m-331 1h2m1 0h1m17 0h1m277 0h1m2 0h1m8 0h1m14 0h1m1 0h1m4 0h1m-334 1h1m3 0h1m3 0h1m7 0h2m1 0h3m3 0h1m284 0h3m10 0h1m2 0h4m3 0h1m1 0h1m-329 1h1m7 0h1m1 0h2m3 0h1m279 0h1m4 0h1m18 0h1m1 0h1m-331 1h1m7 0h1m16 0h1m4 0h1m280 0h1m10 0h1m4 0h1m1 0h1m4 0h1m-335 1h1m1 0h1m2 0h2m4 0h1m8 0h1m3 0h1m285 0h3m14 0h1m3 0h1m2 0h1m-338 1h1m2 0h1m1 0h1m1 0h3m12 0h3m1 0h1m1 0h1m1 0h1m270 0h1m4 0h1m4 0h1m1 0h1m1 0h1m12 0h2m6 0h1m3 0h1m-342 1h1m4 0h1m1 0h3m2 0h1m1 0h1m10 0h1m1 0h1m283 0h1m1 0h1m1 0h1m1 0h1m5 0h1m1 0h1m5 0h1m1 0h1m8 0h1m-341 1h1m2 0h2m7 0h2m3 0h1m2 0h1m1 0h2m1 0h1m283 0h1m13 0h1m2 0h1m1 0h1m3 0h1m1 0h1m1 0h1m1 0h1m-335 1h1m5 0h1m5 0h1m2 0h2m2 0h1m1 0h1m3 0h1m279 0h2m3 0h1m17 0h1m6 0h1m3 0h1m-342 1h1m3 0h1m5 0h1m1 0h1m7 0h1m1 0h1m2 0h1m1 0h1m282 0h1m1 0h1m7 0h1m1 0h1m5 0h1m1 0h1m4 0h1m-335 1h1m4 0h1m10 0h1m2 0h5m3 0h1m273 0h1m4 0h1m2 0h1m2 0h1m18 0h2m1 0h1m-337 1h1m2 0h1m3 0h2m12 0h1m2 0h4m278 0h1m3 0h2m1 0h2m7 0h1m5 0h1m5 0h1m2 0h1m-335 1h2m1 0h1m1 0h1m10 0h2m3 0h1m2 0h1m279 0h1m1 0h1m4 0h1m15 0h1m1 0h2m1 0h1m3 0h2m-339 1h1m1 0h1m2 0h1m1 0h1m1 0h1m2 0h1m10 0h1m1 0h1m282 0h4m1 0h1m1 0h1m13 0h1m2 0h1m2 0h1m-339 1h1m5 0h2m13 0h1m1 0h1m2 0h1m283 0h1m7 0h1m1 0h1m7 0h1m1 0h1m3 0h3m1 0h1m-334 1h3m3 0h2m7 0h1m5 0h2m284 0h1m1 0h3m13 0h1m3 0h2m-331 1h1m3 0h1m1 0h1m5 0h1m283 0h1m10 0h1m2 0h2m8 0h1m6 0h2m3 0h2m-333 1h2m10 0h1m1 0h1m4 0h1m1 0h1m2 0h1m278 0h1m1 0h2m3 0h1m19 0h2m-337 1h1m5 0h2m13 0h2m8 0h1m273 0h2m4 0h5m14 0h1m1 0h3m1 0h1m1 0h1m2 0h1m-341 1h1m1 0h1m5 0h2m12 0h1m2 0h1m1 0h1m6 0h1m270 0h1m1 0h2m2 0h2m5 0h1m6 0h1m1 0h2m1 0h1m1 0h3m1 0h2m-335 1h1m1 0h1m17 0h2m3 0h1m281 0h1m2 0h1m2 0h1m1 0h1m4 0h1m8 0h1m4 0h1m-328 1h1m5 0h1m1 0h1m5 0h1m282 0h2m2 0h2m1 0h1m14 0h4m2 0h2m-332 1h1m1 0h3m2 0h1m10 0h2m285 0h1m2 0h2m14 0h1m2 0h1m-332 1h1m2 0h1m2 0h1m6 0h1m2 0h2m2 0h2m281 0h1m5 0h1m1 0h1m1 0h3m10 0h1m3 0h1m3 0h1m-335 1h3m12 0h1m5 0h1m1 0h2m5 0h1m275 0h1m1 0h1m2 0h1m19 0h1m-337 1h1m4 0h1m5 0h2m2 0h1m4 0h1m2 0h1m4 0h1m286 0h1m2 0h1m2 0h2m11 0h1m4 0h1m1 0h1m-334 1h1m1 0h2m2 0h1m11 0h1m2 0h1m6 0h1m273 0h2m1 0h1m1 0h1m12 0h1m1 0h1m3 0h1m6 0h1m-331 1h1m8 0h1m6 0h4m275 0h1m6 0h3m6 0h1m11 0h1m2 0h1m-328 1h1m1 0h1m8 0h1m2 0h2m4 0h1m278 0h1m4 0h1m17 0h3m1 0h1m1 0h2m-336 1h1m2 0h1m3 0h1m11 0h1m1 0h3m1 0h1m2 0h1m265 0h1m13 0h1m3 0h1m5 0h1m4 0h1m4 0h1m2 0h1m-336 1h1m10 0h1m6 0h1m8 0h1m284 0h4m1 0h2m4 0h1m10 0h1m2 0h1m-338 1h1m11 0h1m2 0h1m5 0h1m2 0h1m1 0h1m5 0h2m13 0h1m243 0h1m20 0h1m1 0h2m1 0h2m15 0h1m4 0h1m-337 1h1m1 0h1m1 0h1m1 0h1m14 0h1m2 0h1m5 0h1m280 0h2m1 0h1m11 0h3m5 0h1m-331 1h1m1 0h1m5 0h1m9 0h2m1 0h2m5 0h1m265 0h1m10 0h2m2 0h1m1 0h1m1 0h1m1 0h1m7 0h3m2 0h1m9 0h1m-334 1h1m5 0h1m3 0h1m3 0h1m2 0h2m278 0h2m7 0h1m10 0h1m1 0h1m2 0h6m3 0h1m-339 1h2m4 0h1m12 0h1m1 0h1m2 0h3m274 0h1m2 0h1m1 0h1m1 0h1m5 0h1m3 0h1m8 0h1m1 0h1m7 0h1m2 0h1m-342 1h1m2 0h1m6 0h1m13 0h4m278 0h1m2 0h2m5 0h2m11 0h2m2 0h1m2 0h1m-326 1h1m10 0h2m282 0h1m3 0h1m1 0h3m1 0h1m8 0h1m3 0h1m1 0h1m5 0h1m-337 1h1m4 0h1m2 0h1m6 0h1m9 0h2m280 0h1m6 0h1m9 0h1m2 0h2m11 0h1m-339 1h2m3 0h1m4 0h1m10 0h1m3 0h1m277 0h1m2 0h1m1 0h1m13 0h1m2 0h2m1 0h1m2 0h1m4 0h1m-322 1h1m1 0h1m1 0h3m1 0h3m2 0h1m276 0h1m3 0h1m1 0h1m8 0h2m6 0h3m5 0h1m-338 1h1m1 0h1m1 0h1m1 0h1m9 0h1m1 0h1m5 0h1m5 0h1m277 0h1m2 0h1m3 0h1m10 0h1m3 0h1m1 0h1m1 0h2m-337 1h1m2 0h3m3 0h2m297 0h1m7 0h1m2 0h1m6 0h1m2 0h4m3 0h1m1 0h1m-341 1h1m4 0h2m5 0h1m6 0h1m1 0h1m2 0h1m3 0h2m279 0h3m2 0h1m1 0h2m9 0h1m5 0h2m-331 1h1m5 0h2m2 0h1m4 0h2m1 0h3m1 0h1m4 0h1m283 0h1m3 0h1m10 0h1m2 0h1m1 0h2m-330 1h3m10 0h2m6 0h1m275 0h2m3 0h1m2 0h2m2 0h1m12 0h1m5 0h1m1 0h1m2 0h1m-337 1h1m1 0h3m302 0h1m3 0h1m1 0h1m1 0h2m4 0h1m3 0h1m6 0h1m1 0h1m2 0h1m-335 1h1m1 0h1m5 0h1m1 0h3m1 0h2m2 0h1m4 0h2m4 0h1m271 0h1m2 0h1m1 0h4m10 0h1m1 0h1m2 0h3m4 0h1m-343 1h1m6 0h1m1 0h1m4 0h1m3 0h1m11 0h1m6 0h1m277 0h4m18 0h2m-332 1h1m2 0h6m6 0h1m4 0h1m2 0h1m1 0h1m16 0h1m265 0h1m3 0h2m2 0h2m6 0h1m4 0h2m1 0h1m3 0h1m-338 1h1m2 0h1m7 0h1m3 0h1m1 0h1m3 0h3m2 0h2m1 0h1m260 0h1m14 0h1m2 0h2m1 0h2m4 0h1m8 0h2m1 0h1m1 0h1m1 0h1m5 0h1m-340 1h2m1 0h1m3 0h1m13 0h2m1 0h1m1 0h1m5 0h1m277 0h2m1 0h1m16 0h1m1 0h1m-329 1h2m3 0h1m11 0h2m2 0h2m3 0h1m279 0h1m19 0h1m2 0h2m3 0h1m-330 1h1m13 0h1m1 0h1m4 0h1m277 0h1m15 0h1m3 0h3m7 0h1m-336 1h2m3 0h1m2 0h2m7 0h1m3 0h2m4 0h1m280 0h1m17 0h2m2 0h2m4 0h1m-342 1h1m6 0h1m2 0h1m1 0h1m8 0h4m1 0h1m1 0h2m287 0h1m14 0h1m1 0h3m-331 1h1m23 0h1m3 0h1m275 0h3m2 0h2m2 0h1m12 0h1m3 0h1m-334 1h1m3 0h2m17 0h4m1 0h1m279 0h1m2 0h1m1 0h1m7 0h1m1 0h2m12 0h1m-340 1h1m2 0h3m1 0h1m15 0h2m5 0h2m277 0h1m8 0h1m8 0h1m5 0h1m2 0h1m-337 1h1m2 0h1m5 0h1m4 0h1m4 0h1m1 0h1m1 0h1m6 0h1m4 0h1m270 0h1m2 0h1m1 0h1m1 0h1m16 0h1m1 0h1m2 0h1m3 0h1m-327 1h1m1 0h1m7 0h1m2 0h1m284 0h1m5 0h1m12 0h1m5 0h1m-330 1h2m3 0h1m3 0h1m5 0h1m3 0h1m2 0h1m5 0h1m279 0h1m15 0h1m5 0h2m-337 1h1m2 0h1m1 0h1m1 0h2m5 0h2m7 0h2m2 0h3m270 0h1m1 0h1m2 0h1m2 0h1m1 0h1m6 0h1m9 0h1m1 0h1m3 0h1m-329 1h1m1 0h1m2 0h1m1 0h1m12 0h2m278 0h1m2 0h2m3 0h1m10 0h1m4 0h1m2 0h1m-333 1h1m3 0h2m3 0h1m1 0h1m11 0h1m1 0h1m274 0h1m8 0h1m1 0h1m4 0h1m2 0h1m8 0h1m5 0h1m-317 1h1m5 0h1m7 0h1m272 0h1m5 0h1m16 0h1m4 0h1m-332 1h1m6 0h1m6 0h2m3 0h2m1 0h2m2 0h2m277 0h1m5 0h1m1 0h1m1 0h1m1 0h1m3 0h1m4 0h1m5 0h1m-327 1h1m2 0h1m1 0h1m4 0h1m2 0h2m4 0h2m2 0h1m273 0h2m3 0h1m10 0h1m6 0h2m1 0h1m6 0h1m-336 1h2m1 0h1m2 0h1m6 0h1m1 0h1m6 0h2m4 0h1m265 0h1m15 0h1m1 0h1m6 0h1m3 0h1m5 0h2m-331 1h1m3 0h1m6 0h2m3 0h1m5 0h2m2 0h1m271 0h1m5 0h1m3 0h1m2 0h1m1 0h1m5 0h1m5 0h1m2 0h1m-331 1h2m1 0h1m5 0h2m6 0h1m3 0h1m2 0h3m3 0h1m267 0h1m4 0h1m2 0h1m2 0h1m2 0h1m5 0h1m3 0h1m7 0h2m-332 1h1m3 0h1m2 0h1m1 0h1m5 0h2m7 0h1m1 0h3m2 0h2m270 0h1m2 0h1m6 0h1m8 0h1m-318 1h1m11 0h1m2 0h1m1 0h5m1 0h1m2 0h1m260 0h1m9 0h3m5 0h4m14 0h1m2 0h1m1 0h1m-330 1h1m1 0h1m4 0h3m8 0h1m2 0h1m1 0h2m274 0h1m4 0h1m1 0h3m2 0h1m-315 1h3m1 0h1m4 0h1m4 0h1m5 0h1m1 0h1m5 0h1m13 0h2m248 0h1m3 0h1m3 0h1m3 0h1m3 0h2m1 0h2m2 0h1m11 0h2m1 0h1m-328 1h1m13 0h1m9 0h1m5 0h1m262 0h1m7 0h1m3 0h1m2 0h2m3 0h1m3 0h1m2 0h1m1 0h1m3 0h1m2 0h2m-330 1h1m4 0h2m7 0h1m1 0h1m1 0h4m4 0h1m5 0h1m264 0h3m1 0h1m2 0h2m5 0h1m14 0h3m2 0h1m-338 1h1m2 0h1m5 0h2m2 0h1m2 0h1m4 0h1m3 0h1m4 0h1m3 0h1m267 0h3m4 0h1m2 0h1m1 0h1m10 0h1m4 0h1m3 0h2m-335 1h1m4 0h2m6 0h2m15 0h1m2 0h2m274 0h4m8 0h1m5 0h2m3 0h1m4 0h1m-338 1h1m5 0h1m1 0h1m2 0h1m6 0h1m8 0h2m1 0h1m6 0h1m265 0h1m1 0h1m4 0h2m3 0h1m1 0h1m5 0h2m3 0h3m-340 1h1m11 0h1m1 0h1m5 0h1m5 0h1m1 0h1m10 0h2m278 0h1m5 0h1m13 0h1m2 0h1m-328 1h1m1 0h1m2 0h1m1 0h1m2 0h1m3 0h1m4 0h1m4 0h1m1 0h1m2 0h1m269 0h1m1 0h2m2 0h2m17 0h1m2 0h1m-335 1h1m3 0h1m2 0h1m2 0h2m1 0h1m5 0h1m2 0h1m2 0h1m3 0h1m1 0h1m1 0h2m6 0h1m257 0h1m3 0h1m4 0h2m16 0h2m3 0h1m1 0h1m-322 1h2m2 0h1m9 0h1m2 0h1m2 0h1m2 0h1m260 0h1m4 0h2m6 0h2m17 0h1m2 0h2m2 0h1m-330 1h2m9 0h2m14 0h2m1 0h1m4 0h1m259 0h1m4 0h2m6 0h1m18 0h1m1 0h2m-335 1h1m11 0h1m15 0h1m1 0h1m269 0h1m5 0h1m16 0h2m1 0h1m4 0h1m-329 1h1m6 0h4m5 0h1m10 0h4m2 0h1m259 0h1m3 0h1m5 0h2m1 0h1m3 0h1m13 0h2m-326 1h1m1 0h1m2 0h1m15 0h1m2 0h3m3 0h3m271 0h1m1 0h1m1 0h1m13 0h2m1 0h1m1 0h1m-333 1h1m7 0h1m1 0h2m3 0h1m3 0h1m13 0h2m2 0h1m1 0h1m262 0h1m1 0h1m1 0h1m1 0h1m2 0h2m6 0h1m2 0h1m5 0h1m4 0h1m3 0h1m-335 1h1m2 0h1m1 0h1m2 0h1m1 0h2m2 0h1m4 0h1m3 0h1m5 0h1m1 0h1m1 0h3m263 0h1m5 0h1m17 0h1m5 0h2m1 0h1m-332 1h2m8 0h2m5 0h1m7 0h2m3 0h5m1 0h1m9 0h1m252 0h3m2 0h2m17 0h1m2 0h1m1 0h1m-326 1h1m5 0h2m14 0h1m1 0h3m3 0h1m1 0h1m263 0h1m1 0h1m3 0h3m6 0h1m6 0h2m3 0h2m-324 1h1m4 0h2m5 0h2m3 0h1m5 0h2m1 0h1m1 0h3m2 0h1m255 0h1m1 0h1m5 0h1m2 0h2m1 0h2m7 0h1m7 0h1m3 0h1m-319 1h1m6 0h1m6 0h1m2 0h1m3 0h1m1 0h1m8 0h1m241 0h1m1 0h1m7 0h3m1 0h1m1 0h1m1 0h2m1 0h1m3 0h1m11 0h1m1 0h2m1 0h1m4 0h1m-334 1h1m9 0h1m1 0h1m2 0h1m13 0h1m3 0h1m3 0h1m259 0h1m8 0h3m1 0h1m11 0h1m9 0h1m-330 1h1m4 0h1m2 0h2m2 0h2m2 0h1m11 0h1m1 0h1m1 0h1m4 0h1m1 0h1m12 0h1m236 0h1m4 0h1m2 0h1m1 0h1m1 0h1m1 0h2m4 0h1m13 0h2m4 0h1m-322 1h1m1 0h1m3 0h1m5 0h1m4 0h2m3 0h1m2 0h1m262 0h3m1 0h3m19 0h1m1 0h1m-318 1h1m2 0h1m5 0h1m1 0h1m1 0h1m3 0h2m2 0h3m3 0h2m1 0h1m243 0h1m10 0h1m1 0h1m1 0h3m1 0h2m3 0h1m1 0h1m10 0h2m1 0h1m1 0h1m1 0h1m2 0h1m-329 1h1m12 0h2m8 0h1m3 0h2m2 0h1m4 0h1m5 0h2m246 0h1m3 0h1m4 0h1m5 0h1m1 0h1m10 0h1m1 0h2m2 0h3m2 0h1m1 0h1m-339 1h1m2 0h1m5 0h1m2 0h3m1 0h1m1 0h1m10 0h1m1 0h1m3 0h2m2 0h1m3 0h1m3 0h1m247 0h1m1 0h1m2 0h2m7 0h1m1 0h2m5 0h1m3 0h2m3 0h1m1 0h1m3 0h1m1 0h1m-327 1h1m4 0h1m6 0h1m2 0h1m10 0h2m1 0h1m10 0h1m247 0h1m8 0h2m4 0h1m3 0h1m5 0h1m6 0h3m-320 1h1m1 0h1m3 0h2m2 0h2m9 0h1m5 0h2m9 0h1m245 0h1m6 0h2m1 0h2m13 0h4m3 0h4m3 0h2m-327 1h1m4 0h1m1 0h1m3 0h1m6 0h1m2 0h1m11 0h1m1 0h1m251 0h1m2 0h1m3 0h1m2 0h1m1 0h2m19 0h1m-317 1h2m1 0h1m3 0h1m5 0h1m5 0h2m2 0h1m1 0h1m3 0h1m1 0h1m3 0h1m249 0h4m1 0h1m1 0h2m11 0h1m2 0h1m1 0h1m5 0h1m-313 1h2m1 0h3m1 0h1m3 0h1m9 0h3m1 0h1m2 0h1m7 0h1m12 0h1m222 0h1m1 0h1m17 0h1m13 0h2m4 0h1m5 0h1m-322 1h1m17 0h1m1 0h2m1 0h1m2 0h2m2 0h3m1 0h1m248 0h1m3 0h1m2 0h1m11 0h1m2 0h2m5 0h3m3 0h1m2 0h1m-324 1h1m3 0h1m2 0h2m1 0h1m2 0h1m16 0h1m1 0h1m240 0h1m4 0h1m2 0h1m4 0h2m1 0h1m1 0h1m24 0h1m-317 1h1m3 0h3m1 0h1m17 0h2m1 0h4m223 0h1m23 0h2m1 0h2m1 0h1m10 0h1m1 0h1m12 0h3m3 0h2m2 0h1m1 0h1m-318 1h2m4 0h1m3 0h1m4 0h1m2 0h2m6 0h2m224 0h1m17 0h1m2 0h1m3 0h2m7 0h1m2 0h1m1 0h2m6 0h1m8 0h2m2 0h2m-321 1h2m1 0h1m11 0h2m1 0h1m8 0h3m1 0h1m2 0h1m225 0h1m17 0h2m3 0h1m4 0h1m11 0h1m2 0h1m10 0h1m-314 1h1m4 0h1m1 0h1m8 0h1m2 0h2m8 0h1m1 0h1m6 0h1m3 0h2m231 0h1m5 0h1m1 0h1m2 0h1m4 0h1m5 0h1m12 0h3m1 0h1m-319 1h1m6 0h2m1 0h1m4 0h1m1 0h1m1 0h2m9 0h1m5 0h1m4 0h1m5 0h1m224 0h2m11 0h2m1 0h1m3 0h1m3 0h1m18 0h1m1 0h1m1 0h1m1 0h1m5 0h1m-326 1h1m3 0h1m6 0h2m4 0h1m13 0h1m6 0h1m2 0h1m233 0h1m1 0h1m1 0h2m2 0h3m16 0h1m2 0h1m7 0h2m1 0h2m5 0h1m-318 1h1m3 0h1m1 0h2m14 0h2m1 0h1m3 0h3m4 0h2m9 0h1m204 0h1m11 0h1m5 0h2m2 0h1m6 0h1m5 0h1m12 0h1m1 0h1m1 0h2m1 0h1m3 0h2m2 0h1m-325 1h1m11 0h2m3 0h1m8 0h1m3 0h1m9 0h1m2 0h1m225 0h1m2 0h2m2 0h1m4 0h1m1 0h1m4 0h1m14 0h1m2 0h2m4 0h1m1 0h1m5 0h1m3 0h1m-321 1h1m4 0h1m2 0h1m5 0h1m4 0h1m9 0h1m3 0h3m2 0h1m10 0h1m217 0h1m1 0h1m1 0h2m4 0h4m1 0h1m2 0h1m9 0h1m5 0h1m3 0h1m3 0h1m2 0h3m5 0h1m-316 1h1m1 0h1m5 0h1m3 0h3m13 0h3m3 0h1m5 0h1m209 0h1m3 0h1m2 0h1m5 0h2m2 0h3m6 0h1m8 0h1m8 0h1m6 0h1m1 0h1m-307 1h2m1 0h1m1 0h1m1 0h1m2 0h1m1 0h1m2 0h1m15 0h1m5 0h1m227 0h1m3 0h1m2 0h2m23 0h1m3 0h1m1 0h1m1 0h1m3 0h1m1 0h1m-314 1h1m3 0h1m1 0h2m3 0h1m3 0h1m1 0h1m2 0h1m11 0h1m1 0h1m2 0h1m204 0h1m19 0h1m1 0h1m2 0h1m1 0h1m4 0h2m1 0h1m3 0h1m21 0h1m1 0h2m2 0h1m1 0h1m8 0h1m-312 1h3m3 0h2m13 0h1m1 0h1m5 0h1m1 0h1m192 0h1m25 0h2m7 0h1m3 0h1m3 0h1m2 0h1m2 0h1m2 0h1m2 0h1m11 0h2m2 0h3m10 0h1m-309 1h1m1 0h2m2 0h2m3 0h1m1 0h1m1 0h1m7 0h1m1 0h1m1 0h5m1 0h1m206 0h1m3 0h1m2 0h1m1 0h1m2 0h1m4 0h1m4 0h1m5 0h2m1 0h1m15 0h2m1 0h1m2 0h1m2 0h1m3 0h3m2 0h1m3 0h1m-316 1h1m2 0h1m4 0h1m8 0h1m10 0h1m5 0h1m180 0h1m14 0h1m19 0h1m6 0h1m6 0h2m31 0h1m4 0h3m3 0h1m6 0h1m-314 1h1m3 0h1m5 0h1m1 0h1m2 0h1m5 0h1m9 0h2m3 0h2m1 0h1m2 0h2m16 0h1m181 0h1m9 0h1m1 0h1m2 0h2m3 0h1m1 0h2m5 0h1m17 0h1m5 0h1m1 0h1m1 0h1m6 0h1m-304 1h1m2 0h2m1 0h1m1 0h2m7 0h1m1 0h1m2 0h1m5 0h1m2 0h2m1 0h1m204 0h1m3 0h2m1 0h1m1 0h1m1 0h1m2 0h2m2 0h2m5 0h2m1 0h1m10 0h1m6 0h1m1 0h1m9 0h1m2 0h1m3 0h1m-310 1h1m4 0h2m1 0h2m2 0h5m4 0h1m1 0h1m2 0h1m5 0h1m5 0h3m11 0h1m128 0h1m69 0h1m2 0h2m1 0h1m2 0h2m10 0h1m20 0h1m7 0h1m3 0h4m1 0h1m-309 1h1m2 0h2m2 0h3m2 0h1m16 0h1m2 0h1m1 0h1m3 0h3m2 0h1m177 0h1m11 0h1m1 0h1m1 0h1m4 0h1m5 0h1m1 0h1m1 0h1m1 0h2m2 0h2m2 0h3m17 0h1m1 0h1m4 0h1m4 0h1m1 0h1m2 0h1m19 0h1m-320 1h1m2 0h2m2 0h1m2 0h1m1 0h1m1 0h1m6 0h2m5 0h3m1 0h1m4 0h3m1 0h1m1 0h1m6 0h1m6 0h1m6 0h1m160 0h1m5 0h3m6 0h2m2 0h3m1 0h4m1 0h3m4 0h1m2 0h3m9 0h1m17 0h1m1 0h1m7 0h1m-300 1h1m5 0h2m1 0h1m6 0h1m3 0h1m5 0h2m1 0h1m1 0h2m15 0h1m181 0h1m3 0h1m3 0h2m1 0h3m1 0h2m1 0h1m3 0h1m1 0h1m7 0h1m10 0h1m11 0h1m6 0h1m-288 1h1m4 0h1m7 0h1m14 0h1m1 0h1m4 0h2m2 0h2m8 0h1m12 0h1m136 0h1m15 0h1m15 0h3m6 0h3m3 0h3m1 0h1m17 0h1m3 0h2m8 0h1m1 0h1m1 0h2m2 0h2m1 0h1m1 0h1m-305 1h1m2 0h1m7 0h1m8 0h1m2 0h1m2 0h1m6 0h2m2 0h1m2 0h1m2 0h1m1 0h1m1 0h1m1 0h1m14 0h1m123 0h1m22 0h1m4 0h1m22 0h2m1 0h1m5 0h1m4 0h2m3 0h1m1 0h1m1 0h2m1 0h1m8 0h1m8 0h2m3 0h3m4 0h2m1 0h1m1 0h3m1 0h1m15 0h1m-332 1h1m7 0h1m10 0h1m1 0h1m1 0h1m6 0h1m13 0h1m4 0h1m3 0h3m5 0h1m5 0h1m12 0h1m152 0h1m1 0h1m1 0h1m1 0h1m1 0h1m6 0h1m3 0h3m7 0h1m2 0h1m3 0h1m20 0h2m3 0h5m1 0h1m2 0h1m1 0h2m1 0h1m6 0h1m-308 1h1m7 0h1m3 0h1m2 0h1m2 0h1m2 0h1m1 0h1m1 0h3m1 0h1m4 0h5m7 0h1m2 0h1m1 0h1m2 0h1m1 0h1m1 0h1m2 0h1m7 0h1m115 0h1m23 0h1m1 0h2m1 0h4m2 0h1m10 0h2m3 0h1m3 0h1m11 0h1m3 0h1m23 0h1m4 0h1m2 0h1m1 0h1m1 0h1m5 0h2m1 0h1m2 0h1m-305 1h1m6 0h1m3 0h2m2 0h1m2 0h1m2 0h1m18 0h1m2 0h1m5 0h1m1 0h1m2 0h1m134 0h1m19 0h2m3 0h1m2 0h2m5 0h1m6 0h1m2 0h1m2 0h1m6 0h1m4 0h1m4 0h1m3 0h1m22 0h1m3 0h1m4 0h2m3 0h3m1 0h1m1 0h1m-292 1h1m2 0h2m3 0h2m4 0h1m10 0h1m2 0h1m1 0h2m1 0h2m2 0h1m4 0h2m2 0h1m35 0h1m111 0h1m8 0h1m2 0h1m2 0h1m1 0h1m4 0h1m4 0h1m1 0h2m3 0h3m1 0h1m2 0h2m7 0h1m5 0h1m6 0h1m7 0h1m6 0h2m1 0h1m1 0h2m1 0h1m1 0h1m2 0h1m-287 1h1m1 0h1m1 0h3m3 0h1m3 0h1m5 0h2m5 0h1m13 0h1m4 0h2m6 0h1m1 0h1m3 0h1m8 0h1m101 0h1m14 0h1m9 0h1m6 0h1m2 0h1m1 0h2m3 0h1m1 0h2m4 0h3m1 0h2m2 0h1m2 0h1m11 0h1m8 0h1m8 0h1m3 0h1m1 0h4m3 0h1m2 0h1m2 0h1m12 0h1m-295 1h1m3 0h3m5 0h1m5 0h1m1 0h1m14 0h1m3 0h1m1 0h1m1 0h1m3 0h2m3 0h1m3 0h1m2 0h1m4 0h1m14 0h1m104 0h1m7 0h1m8 0h1m1 0h1m3 0h1m11 0h1m5 0h3m1 0h2m9 0h1m8 0h1m7 0h1m12 0h1m1 0h1m4 0h1m5 0h1m4 0h1m-289 1h1m1 0h1m7 0h3m1 0h1m11 0h1m2 0h1m2 0h2m6 0h2m1 0h1m1 0h1m2 0h1m7 0h1m2 0h2m5 0h1m18 0h1m87 0h1m19 0h1m3 0h1m3 0h1m1 0h1m4 0h1m9 0h1m4 0h5m5 0h1m2 0h1m1 0h1m7 0h1m2 0h1m3 0h1m7 0h1m3 0h1m1 0h2m4 0h2m1 0h2m1 0h1m1 0h1m1 0h1m1 0h2m8 0h1m-284 1h1m2 0h1m4 0h1m18 0h1m3 0h1m5 0h1m5 0h1m3 0h1m1 0h1m8 0h1m107 0h1m5 0h1m2 0h1m5 0h1m2 0h3m1 0h6m2 0h1m1 0h2m4 0h1m1 0h1m1 0h1m11 0h4m1 0h2m12 0h1m2 0h1m2 0h1m8 0h2m1 0h3m5 0h1m-275 1h1m4 0h2m1 0h3m3 0h1m2 0h1m1 0h1m1 0h2m12 0h1m1 0h3m3 0h1m1 0h1m8 0h1m1 0h1m1 0h1m12 0h1m103 0h1m9 0h1m1 0h1m1 0h1m2 0h1m5 0h2m2 0h4m1 0h1m2 0h1m3 0h2m3 0h1m1 0h2m2 0h1m2 0h1m1 0h1m2 0h1m2 0h1m1 0h1m7 0h1m12 0h3m1 0h1m1 0h1m9 0h2m10 0h1m3 0h1m-297 1h1m4 0h1m3 0h1m2 0h5m3 0h1m1 0h1m6 0h1m2 0h1m4 0h3m4 0h1m1 0h1m2 0h1m3 0h1m2 0h2m4 0h1m10 0h1m85 0h1m20 0h1m13 0h4m2 0h2m3 0h3m2 0h1m2 0h1m1 0h1m1 0h1m4 0h1m1 0h1m5 0h1m2 0h1m1 0h1m4 0h2m10 0h1m5 0h2m4 0h1m7 0h1m3 0h1m1 0h1m1 0h1m-274 1h1m1 0h1m1 0h3m3 0h1m2 0h1m12 0h1m1 0h2m2 0h1m7 0h1m1 0h1m1 0h1m1 0h1m1 0h3m2 0h1m6 0h1m2 0h1m13 0h1m22 0h1m23 0h1m47 0h1m5 0h1m1 0h2m4 0h3m1 0h2m1 0h1m1 0h1m1 0h5m1 0h1m2 0h4m1 0h1m2 0h2m1 0h1m3 0h1m5 0h1m1 0h1m2 0h1m11 0h1m5 0h1m3 0h2m2 0h1m2 0h2m5 0h2m-269 1h1m1 0h2m2 0h2m1 0h3m1 0h2m7 0h1m5 0h3m3 0h1m1 0h1m2 0h2m4 0h1m3 0h2m5 0h1m108 0h1m8 0h1m4 0h1m3 0h1m1 0h3m2 0h1m10 0h1m4 0h1m4 0h1m1 0h1m6 0h1m3 0h1m4 0h1m3 0h2m6 0h1m6 0h1m2 0h1m4 0h4m1 0h1m10 0h1m1 0h1m-277 1h2m7 0h1m1 0h4m2 0h1m1 0h1m4 0h1m3 0h2m1 0h1m7 0h1m3 0h1m5 0h2m6 0h2m10 0h2m1 0h1m11 0h1m4 0h1m79 0h1m9 0h2m5 0h1m1 0h1m1 0h1m3 0h3m1 0h2m2 0h2m3 0h1m2 0h1m7 0h1m3 0h1m9 0h1m5 0h1m4 0h2m1 0h1m6 0h1m1 0h5m5 0h1m4 0h1m-269 1h1m1 0h1m1 0h1m1 0h1m1 0h1m3 0h2m2 0h1m9 0h1m15 0h2m3 0h1m2 0h1m1 0h2m4 0h2m1 0h2m15 0h1m3 0h1m20 0h1m19 0h1m25 0h1m24 0h1m1 0h1m3 0h1m2 0h1m3 0h1m5 0h2m1 0h2m2 0h2m2 0h1m2 0h2m1 0h2m6 0h1m12 0h1m1 0h1m2 0h1m1 0h1m1 0h3m1 0h2m1 0h1m2 0h1m4 0h2m10 0h2m9 0h1m-274 1h2m1 0h1m5 0h1m6 0h1m3 0h1m1 0h1m2 0h2m4 0h1m6 0h1m1 0h1m3 0h4m1 0h2m1 0h1m2 0h4m2 0h1m1 0h1m1 0h1m9 0h1m2 0h1m27 0h1m40 0h1m4 0h1m11 0h1m4 0h1m3 0h1m3 0h1m3 0h1m4 0h1m1 0h2m3 0h1m1 0h1m8 0h3m4 0h1m16 0h1m5 0h1m5 0h1m1 0h1m1 0h1m4 0h1m1 0h1m1 0h1m1 0h1m3 0h1m2 0h1m1 0h1m4 0h1m3 0h1m-279 1h1m5 0h2m2 0h1m5 0h2m3 0h2m3 0h1m6 0h1m8 0h1m6 0h1m1 0h2m5 0h1m10 0h1m1 0h1m2 0h1m9 0h1m4 0h1m1 0h1m5 0h1m2 0h1m7 0h1m14 0h1m28 0h3m4 0h1m7 0h1m3 0h1m4 0h1m2 0h1m1 0h2m3 0h3m14 0h2m3 0h1m18 0h2m1 0h1m5 0h1m10 0h2m14 0h1m5 0h1m-279 1h1m13 0h1m1 0h1m2 0h4m2 0h1m4 0h1m3 0h1m3 0h1m4 0h1m8 0h1m3 0h1m1 0h1m2 0h2m2 0h2m1 0h2m1 0h4m1 0h1m2 0h1m1 0h1m10 0h1m1 0h1m1 0h1m9 0h1m19 0h2m20 0h1m7 0h1m19 0h1m6 0h2m2 0h1m1 0h2m3 0h3m4 0h1m3 0h1m1 0h1m1 0h2m6 0h1m6 0h1m13 0h2m2 0h2m1 0h1m3 0h1m8 0h4m1 0h2m4 0h1m8 0h1m3 0h1m-269 1h1m2 0h1m1 0h2m1 0h3m7 0h1m2 0h2m4 0h2m1 0h1m11 0h2m3 0h1m2 0h2m2 0h3m1 0h2m2 0h1m1 0h1m1 0h2m2 0h2m5 0h1m4 0h2m17 0h1m27 0h1m19 0h1m1 0h1m2 0h1m2 0h1m3 0h3m4 0h1m1 0h1m4 0h1m2 0h1m1 0h1m4 0h1m4 0h1m16 0h1m2 0h1m5 0h1m5 0h1m5 0h1m2 0h2m2 0h4m1 0h1m1 0h1m3 0h1m1 0h2m18 0h1m-274 1h1m9 0h1m2 0h1m9 0h1m6 0h1m12 0h4m7 0h3m1 0h1m2 0h1m10 0h3m1 0h3m4 0h1m3 0h2m3 0h1m2 0h1m17 0h1m8 0h1m22 0h1m1 0h1m15 0h1m8 0h3m2 0h1m1 0h1m1 0h2m4 0h1m1 0h1m2 0h1m3 0h1m4 0h1m5 0h1m2 0h1m3 0h1m5 0h1m10 0h1m3 0h1m4 0h2m3 0h2m4 0h3m2 0h1m1 0h1m8 0h1m-260 1h2m1 0h2m1 0h1m8 0h1m4 0h1m5 0h1m2 0h1m8 0h1m1 0h1m6 0h1m4 0h1m3 0h1m2 0h2m1 0h2m5 0h2m1 0h4m2 0h1m5 0h1m5 0h1m4 0h1m38 0h1m5 0h2m8 0h1m3 0h2m1 0h1m2 0h1m1 0h4m1 0h1m6 0h2m4 0h1m3 0h1m1 0h2m10 0h1m6 0h1m4 0h2m11 0h2m1 0h1m7 0h1m1 0h1m2 0h1m1 0h1m3 0h1m1 0h2m2 0h2m9 0h1m-267 1h1m1 0h1m1 0h2m1 0h1m4 0h2m2 0h1m2 0h1m5 0h1m11 0h1m2 0h1m1 0h1m5 0h2m4 0h1m4 0h1m2 0h1m3 0h1m2 0h1m1 0h1m7 0h2m6 0h1m6 0h1m15 0h1m3 0h1m1 0h1m5 0h1m23 0h1m3 0h2m4 0h1m1 0h1m9 0h1m15 0h1m3 0h3m1 0h1m3 0h1m16 0h2m1 0h1m3 0h1m1 0h1m2 0h1m1 0h1m2 0h2m1 0h1m2 0h2m1 0h1m-243 1h1m5 0h1m1 0h1m2 0h1m2 0h1m1 0h2m1 0h1m3 0h1m4 0h1m2 0h2m2 0h1m14 0h1m3 0h1m5 0h2m3 0h1m1 0h1m1 0h3m1 0h1m2 0h1m3 0h1m5 0h2m2 0h2m1 0h1m5 0h1m1 0h1m27 0h1m17 0h1m3 0h2m3 0h7m1 0h2m6 0h3m9 0h1m2 0h1m4 0h1m9 0h1m1 0h1m5 0h1m1 0h1m1 0h1m1 0h3m1 0h1m2 0h1m2 0h4m3 0h1m2 0h2m2 0h2m1 0h1m3 0h1m3 0h1m4 0h1m3 0h1m-261 1h1m7 0h2m5 0h1m1 0h2m1 0h1m4 0h3m8 0h1m5 0h1m12 0h1m4 0h1m1 0h1m1 0h1m3 0h1m1 0h2m1 0h1m3 0h1m1 0h1m1 0h1m5 0h1m1 0h1m5 0h4m5 0h1m1 0h1m18 0h1m1 0h2m4 0h1m6 0h1m1 0h1m5 0h2m1 0h1m7 0h3m3 0h1m1 0h1m5 0h1m4 0h1m8 0h1m3 0h1m2 0h1m11 0h1m3 0h1m7 0h2m1 0h1m1 0h1m2 0h1m1 0h1m1 0h2m2 0h2m16 0h1m29 0h1m8 0h1m-286 1h1m2 0h1m8 0h3m3 0h1m1 0h1m4 0h1m1 0h1m3 0h1m8 0h2m6 0h2m7 0h1m4 0h1m3 0h2m1 0h1m2 0h3m1 0h1m3 0h2m1 0h1m1 0h3m4 0h2m1 0h2m8 0h1m9 0h1m2 0h1m3 0h1m4 0h1m4 0h2m1 0h2m2 0h1m3 0h1m3 0h1m1 0h1m6 0h3m2 0h1m1 0h2m7 0h1m1 0h1m5 0h2m12 0h2m1 0h1m5 0h1m3 0h2m1 0h1m10 0h1m2 0h1m3 0h3m9 0h1m4 0h2m3 0h1m-247 1h1m2 0h1m3 0h2m6 0h2m1 0h1m4 0h3m1 0h1m3 0h1m10 0h2m2 0h1m1 0h1m4 0h1m1 0h1m11 0h2m5 0h1m1 0h1m3 0h1m6 0h1m3 0h1m2 0h1m2 0h1m1 0h1m5 0h4m3 0h2m4 0h1m4 0h1m2 0h6m2 0h1m4 0h1m1 0h3m2 0h1m1 0h5m4 0h1m8 0h1m2 0h1m2 0h1m3 0h2m6 0h1m8 0h1m4 0h1m2 0h3m1 0h1m1 0h2m4 0h1m2 0h1m1 0h1m1 0h1m1 0h1m1 0h1m2 0h1m2 0h2m2 0h1m2 0h1m1 0h1m-251 1h1m8 0h1m1 0h2m1 0h3m1 0h2m2 0h3m2 0h1m10 0h1m5 0h2m16 0h2m6 0h3m2 0h1m2 0h3m1 0h3m1 0h1m1 0h1m1 0h2m1 0h1m3 0h1m3 0h2m1 0h2m1 0h1m1 0h2m2 0h1m1 0h1m6 0h2m1 0h1m1 0h1m1 0h4m2 0h1m1 0h1m2 0h1m1 0h2m6 0h2m2 0h1m1 0h1m5 0h1m9 0h1m7 0h1m2 0h1m15 0h1m6 0h2m4 0h1m5 0h1m2 0h1m5 0h1m9 0h2m3 0h2m3 0h1m-234 1h1m5 0h5m1 0h2m1 0h2m1 0h1m13 0h2m8 0h2m3 0h1m3 0h1m3 0h1m2 0h1m1 0h1m1 0h2m1 0h1m1 0h1m8 0h2m2 0h1m2 0h1m11 0h2m2 0h2m5 0h1m2 0h2m1 0h1m1 0h2m1 0h1m3 0h1m5 0h1m2 0h2m1 0h2m1 0h1m3 0h1m4 0h1m1 0h1m1 0h4m1 0h1m17 0h2m7 0h1m1 0h2m3 0h1m3 0h2m3 0h5m4 0h5m11 0h1m2 0h1m10 0h1m-232 1h1m1 0h1m3 0h1m6 0h2m1 0h2m1 0h1m18 0h1m2 0h1m9 0h2m3 0h1m2 0h1m2 0h1m4 0h1m2 0h1m3 0h1m1 0h2m2 0h1m3 0h1m2 0h1m5 0h1m2 0h1m10 0h1m1 0h1m6 0h1m6 0h2m6 0h2m8 0h2m3 0h3m4 0h1m5 0h1m1 0h1m8 0h1m12 0h1m3 0h1m3 0h1m4 0h2m1 0h2m5 0h2m2 0h1m20 0h1m-241 1h1m2 0h1m6 0h1m3 0h1m4 0h2m1 0h1m2 0h1m3 0h1m1 0h1m4 0h1m4 0h2m4 0h1m7 0h1m6 0h2m4 0h1m2 0h1m1 0h1m4 0h1m2 0h1m1 0h1m12 0h2m1 0h1m3 0h1m2 0h1m3 0h1m1 0h1m2 0h1m2 0h1m6 0h1m8 0h1m6 0h1m1 0h1m9 0h2m1 0h2m3 0h2m1 0h1m2 0h1m4 0h2m4 0h1m5 0h2m3 0h3m6 0h2m2 0h1m3 0h1m1 0h3m1 0h1m8 0h2m-214 1h1m1 0h1m7 0h2m2 0h1m4 0h1m8 0h1m8 0h1m1 0h1m8 0h1m1 0h1m2 0h1m12 0h1m1 0h2m1 0h1m5 0h1m5 0h1m3 0h1m4 0h1m4 0h1m3 0h3m1 0h1m1 0h6m5 0h2m3 0h1m4 0h1m4 0h2m6 0h1m4 0h1m3 0h1m6 0h1m17 0h4m2 0h1m4 0h1m4 0h1m3 0h4m1 0h1m4 0h1m-206 1h1m13 0h2m1 0h1m3 0h1m1 0h1m4 0h1m17 0h1m1 0h1m7 0h1m1 0h1m3 0h2m13 0h1m8 0h1m4 0h1m3 0h1m4 0h1m4 0h1m1 0h2m7 0h1m2 0h1m2 0h1m9 0h3m1 0h1m8 0h1m1 0h1m13 0h1m2 0h2m2 0h1m3 0h1m8 0h4m3 0h2m1 0h1m2 0h2m3 0h2m4 0h1m6 0h1m12 0h1m-224 1h1m1 0h1m1 0h1m3 0h1m1 0h2m9 0h2m1 0h1m5 0h1m3 0h1m3 0h1m3 0h1m5 0h1m2 0h2m7 0h1m2 0h1m1 0h1m1 0h1m1 0h1m4 0h2m1 0h1m1 0h2m1 0h3m1 0h2m1 0h1m5 0h1m2 0h2m7 0h1m1 0h2m2 0h1m3 0h1m5 0h4m6 0h1m12 0h1m9 0h1m3 0h2m8 0h1m1 0h1m2 0h3m2 0h2m3 0h1m1 0h1m7 0h1m4 0h1m25 0h1m-234 1h1m10 0h1m5 0h2m4 0h1m1 0h1m2 0h2m2 0h1m33 0h1m4 0h1m1 0h1m4 0h2m3 0h1m2 0h1m1 0h1m1 0h1m7 0h1m2 0h1m6 0h1m5 0h2m7 0h3m3 0h1m4 0h1m2 0h1m3 0h1m7 0h1m2 0h2m6 0h1m6 0h1m1 0h1m1 0h1m7 0h1m2 0h1m2 0h1m1 0h1m2 0h3m2 0h1m2 0h1m1 0h1m3 0h1m5 0h1m2 0h1m8 0h1m4 0h1m4 0h1m-228 1h1m5 0h1m1 0h1m6 0h2m6 0h4m3 0h1m2 0h1m2 0h2m1 0h2m13 0h1m7 0h1m4 0h1m2 0h1m5 0h1m1 0h1m9 0h1m6 0h1m1 0h2m2 0h1m7 0h1m1 0h3m1 0h2m3 0h1m3 0h1m3 0h1m2 0h1m10 0h1m14 0h1m4 0h1m6 0h1m1 0h2m3 0h1m3 0h1m1 0h1m1 0h1m3 0h2m1 0h1m6 0h1m10 0h1m16 0h1m-217 1h1m1 0h2m2 0h1m1 0h3m4 0h2m1 0h1m3 0h1m1 0h1m3 0h1m6 0h1m1 0h3m4 0h1m2 0h1m11 0h3m3 0h1m7 0h1m10 0h1m1 0h1m5 0h1m2 0h1m5 0h1m5 0h1m24 0h1m10 0h1m1 0h1m7 0h2m1 0h1m4 0h2m2 0h1m1 0h1m1 0h1m5 0h1m7 0h2m3 0h1m-205 1h1m10 0h4m10 0h2m7 0h2m7 0h1m2 0h1m4 0h1m1 0h3m1 0h1m1 0h1m6 0h1m6 0h1m7 0h1m13 0h1m1 0h1m3 0h1m10 0h1m2 0h1m1 0h1m1 0h1m1 0h1m1 0h2m1 0h1m5 0h1m2 0h1m2 0h1m2 0h1m9 0h1m8 0h3m1 0h1m4 0h1m3 0h1m1 0h2m1 0h3m2 0h1m1 0h3m1 0h1m4 0h1m8 0h1m8 0h1m28 0h1m-221 1h1m1 0h2m1 0h2m2 0h2m1 0h1m1 0h1m3 0h2m6 0h2m5 0h1m3 0h1m4 0h1m1 0h1m3 0h1m2 0h2m4 0h1m8 0h1m4 0h1m4 0h1m2 0h1m4 0h1m1 0h1m21 0h1m4 0h1m10 0h1m12 0h1m4 0h1m1 0h1m5 0h1m1 0h1m1 0h3m1 0h1m2 0h1m4 0h1m2 0h1m11 0h1m1 0h1m-206 1h1m12 0h1m2 0h1m9 0h1m2 0h1m2 0h2m6 0h1m4 0h1m2 0h1m2 0h1m2 0h1m4 0h1m4 0h1m1 0h1m2 0h1m7 0h1m1 0h1m10 0h2m11 0h1m11 0h1m2 0h1m3 0h4m2 0h1m2 0h1m3 0h1m4 0h1m3 0h1m4 0h1m1 0h1m1 0h3m1 0h1m1 0h2m2 0h2m1 0h1m3 0h1m2 0h2m1 0h3m1 0h2m9 0h1m8 0h1m14 0h1m-202 1h1m4 0h1m12 0h1m4 0h1m3 0h1m1 0h3m1 0h1m4 0h1m2 0h1m6 0h1m1 0h1m2 0h1m4 0h2m8 0h1m17 0h1m1 0h1m7 0h1m1 0h1m9 0h1m1 0h1m5 0h1m7 0h1m10 0h1m2 0h1m2 0h1m4 0h1m4 0h3m1 0h2m1 0h2m1 0h2m5 0h2m8 0h1m11 0h1m-182 1h1m1 0h1m6 0h1m2 0h2m2 0h1m4 0h1m3 0h1m5 0h1m2 0h2m1 0h1m5 0h1m7 0h2m2 0h2m3 0h1m3 0h1m9 0h1m8 0h1m13 0h1m7 0h1m14 0h1m3 0h1m3 0h1m6 0h3m2 0h2m1 0h2m14 0h1m1 0h2m3 0h1m-168 1h1m9 0h1m4 0h1m3 0h1m1 0h1m1 0h2m1 0h1m1 0h1m18 0h1m3 0h3m1 0h1m13 0h1m2 0h1m8 0h1m2 0h2m2 0h1m4 0h2m8 0h1m13 0h1m1 0h2m3 0h1m4 0h3m1 0h2m1 0h1m1 0h1m6 0h1m3 0h2m1 0h1m4 0h1m1 0h1m1 0h1m11 0h1m-160 1h2m1 0h1m5 0h4m2 0h1m3 0h1m2 0h1m3 0h1m9 0h2m5 0h1m2 0h2m1 0h1m5 0h1m1 0h1m5 0h1m10 0h1m4 0h1m1 0h1m2 0h1m1 0h1m3 0h1m4 0h1m7 0h1m5 0h1m5 0h1m2 0h1m1 0h1m4 0h2m4 0h1m2 0h3m3 0h1m2 0h1m3 0h1m7 0h1m-165 1h1m15 0h1m1 0h1m4 0h1m1 0h1m2 0h1m1 0h2m1 0h1m3 0h4m1 0h1m2 0h2m5 0h1m3 0h2m3 0h2m9 0h1m6 0h1m3 0h1m3 0h1m13 0h2m5 0h1m2 0h1m4 0h1m2 0h3m6 0h1m2 0h1m3 0h1m4 0h1m3 0h1m4 0h1m5 0h3m11 0h1m-173 1h1m12 0h1m3 0h1m5 0h1m7 0h1m2 0h1m3 0h2m2 0h2m2 0h1m11 0h1m2 0h2m1 0h1m5 0h1m14 0h1m17 0h1m4 0h1m2 0h1m3 0h2m1 0h1m1 0h1m1 0h2m2 0h1m2 0h1m6 0h1m1 0h1m4 0h1m15 0h1m-139 1h1m4 0h2m5 0h1m1 0h1m1 0h1m2 0h2m3 0h1m7 0h1m1 0h4m4 0h1m4 0h1m5 0h1m2 0h1m1 0h1m22 0h1m3 0h1m1 0h1m5 0h3m3 0h1m2 0h1m1 0h2m1 0h1m2 0h3m2 0h2m33 0h1m-193 1h1m32 0h1m3 0h1m8 0h1m8 0h1m5 0h1m1 0h1m3 0h1m3 0h1m2 0h1m1 0h2m2 0h1m2 0h4m1 0h1m6 0h1m1 0h1m2 0h1m2 0h1m3 0h1m1 0h1m1 0h2m1 0h1m2 0h1m14 0h1m1 0h3m1 0h1m1 0h1m1 0h1m1 0h2m1 0h1m3 0h1m4 0h1m1 0h1m49 0h1m-172 1h2m2 0h1m2 0h2m9 0h1m2 0h1m2 0h1m1 0h1m5 0h1m1 0h3m2 0h3m4 0h4m1 0h1m3 0h1m4 0h1m3 0h1m7 0h2m4 0h2m8 0h2m1 0h1m3 0h1m2 0h1m1 0h1m3 0h1m5 0h1m1 0h2m3 0h1m-117 1h1m21 0h2m5 0h1m2 0h1m1 0h1m4 0h1m5 0h1m2 0h1m5 0h1m3 0h1m6 0h1m2 0h1m2 0h2m4 0h1m1 0h1m4 0h1m1 0h1m3 0h1m1 0h1m4 0h3m3 0h1m2 0h1m5 0h1m2 0h1m12 0h2m-139 1h1m5 0h1m6 0h1m1 0h1m3 0h1m2 0h1m4 0h1m4 0h1m6 0h1m2 0h1m2 0h1m1 0h1m3 0h1m13 0h1m4 0h1m1 0h1m1 0h3m6 0h1m6 0h1m3 0h2m2 0h1m1 0h1m6 0h1m2 0h2m1 0h1m3 0h1m3 0h1m6 0h1m8 0h1m2 0h1m10 0h1m-211 1h1m85 0h1m5 0h2m1 0h1m3 0h1m1 0h1m1 0h1m2 0h2m1 0h1m4 0h1m4 0h1m1 0h1m1 0h1m7 0h1m2 0h1m3 0h4m2 0h1m1 0h1m11 0h1m3 0h1m2 0h1m2 0h1m2 0h2m2 0h1m10 0h2m-123 1h1m20 0h1m3 0h1m4 0h1m4 0h2m2 0h1m1 0h1m1 0h4m1 0h1m1 0h1m5 0h2m1 0h1m4 0h1m1 0h1m1 0h2m3 0h1m1 0h2m1 0h1m6 0h1m1 0h1m3 0h1m4 0h3m1 0h1m16 0h1m2 0h1m-130 1h1m16 0h1m1 0h1m4 0h2m7 0h1m6 0h2m6 0h1m8 0h3m4 0h2m1 0h2m1 0h1m2 0h2m1 0h1m3 0h1m1 0h1m2 0h1m5 0h1m1 0h1m2 0h2m1 0h2m3 0h1m3 0h1m1 0h1m5 0h1m3 0h1m2 0h1m8 0h2m-107 1h1m17 0h2m4 0h1m2 0h2m2 0h1m1 0h1m2 0h3m1 0h1m6 0h1m4 0h3m2 0h1m3 0h3m2 0h1m2 0h1m2 0h1m2 0h1m8 0h1m1 0h1m2 0h1m3 0h1m12 0h1m-101 1h1m8 0h1m2 0h1m1 0h1m3 0h1m2 0h1m2 0h2m4 0h1m1 0h1m8 0h1m2 0h2m2 0h2m8 0h1m1 0h1m3 0h1m4 0h1m1 0h1m2 0h2m8 0h1m15 0h1m-81 1h1m11 0h1m6 0h2m1 0h2m3 0h1m1 0h1m2 0h3m7 0h1m3 0h2m3 0h1m1 0h3m2 0h1m2 0h1m4 0h1m1 0h1m16 0h1m3 0h1m6 0h1m-110 1h1m12 0h1m5 0h1m11 0h1m5 0h1m3 0h1m2 0h1m1 0h1m1 0h1m1 0h1m3 0h1m8 0h1m24 0h1m-78 1h2m5 0h1m2 0h1m8 0h1m2 0h1m4 0h1m7 0h1m2 0h1m4 0h1m6 0h1m2 0h1m11 0h1m5 0h1m-75 1h1m11 0h1m2 0h1m10 0h1m6 0h1m5 0h1m6 0h1m-25 1h1m5 0h1m1 0h1m4 0h1m4 0h2m3 0h1m21 0h1m57 0h1m-135 1h1m25 0h1m11 0h1m9 0h1m16 0h1m7 0h1m-69 1h1m16 0h1m19 0h1m4 0h1m-23 1h1m16 0h1m29 0h1m9 0h1m-55 1h1m-16 1h1m25 1h1m25 0h1"/><path stroke="#2298f0" d="M0 .5m269 548h1m-56 1h1m27 0h1m-26 1h1m18 0h1m3 0h1m9 0h1m7 0h1m22 0h1m11 0h1m-59 1h1m11 0h1m2 0h1m6 0h1m5 0h1m-69 1h1m22 0h1m12 0h1m9 0h1m1 0h2m18 0h1m8 0h1m6 0h1m9 0h1m-116 1h1m13 0h1m7 0h1m21 0h1m3 0h2m5 0h1m1 0h2m1 0h1m1 0h1m10 0h1m1 0h1m1 0h1m5 0h1m5 0h1m2 0h1m8 0h1m5 0h1m19 0h1m-143 1h1m34 0h1m16 0h2m6 0h1m5 0h1m2 0h1m2 0h1m1 0h1m1 0h2m4 0h1m7 0h1m3 0h2m1 0h1m2 0h1m11 0h1m11 0h1m4 0h4m1 0h2m7 0h2m-117 1h1m5 0h1m10 0h2m14 0h1m7 0h1m8 0h1m6 0h1m1 0h1m5 0h1m5 0h1m1 0h1m4 0h1m2 0h1m1 0h1m3 0h1m2 0h1m3 0h2m1 0h1m1 0h1m3 0h1m2 0h1m3 0h2m-108 1h1m4 0h2m8 0h1m8 0h1m2 0h1m1 0h1m1 0h1m8 0h2m4 0h1m1 0h1m3 0h1m2 0h1m1 0h1m12 0h1m5 0h2m1 0h2m5 0h2m1 0h1m3 0h1m8 0h1m6 0h1m-137 1h1m5 0h1m9 0h1m3 0h1m13 0h1m1 0h1m4 0h1m3 0h1m1 0h1m1 0h1m7 0h1m1 0h1m1 0h1m3 0h1m1 0h4m2 0h3m11 0h3m2 0h1m3 0h1m1 0h1m1 0h1m3 0h1m2 0h1m1 0h1m2 0h1m3 0h3m2 0h1m5 0h2m1 0h1m1 0h2m1 0h2m1 0h1m6 0h1m-146 1h1m2 0h1m10 0h1m9 0h1m3 0h1m2 0h2m1 0h1m4 0h1m2 0h1m2 0h2m1 0h1m1 0h2m1 0h1m1 0h1m1 0h2m8 0h1m1 0h1m6 0h1m3 0h1m12 0h1m15 0h1m2 0h1m8 0h1m4 0h1m2 0h1m14 0h2m-178 1h1m5 0h1m13 0h2m10 0h2m7 0h2m7 0h4m3 0h1m4 0h1m1 0h1m3 0h1m2 0h1m1 0h1m4 0h1m9 0h1m4 0h4m1 0h2m2 0h1m3 0h1m3 0h1m3 0h1m2 0h1m5 0h2m3 0h1m1 0h2m1 0h1m2 0h1m2 0h1m1 0h1m9 0h1m2 0h1m2 0h1m2 0h1m4 0h1m17 0h1m2 0h1m-167 1h1m10 0h1m1 0h1m9 0h1m5 0h1m3 0h1m9 0h1m2 0h1m2 0h1m2 0h1m6 0h2m8 0h2m4 0h1m7 0h2m9 0h1m2 0h3m8 0h1m2 0h1m2 0h2m24 0h1m5 0h1m1 0h1m4 0h1m1 0h3m1 0h2m-181 1h1m1 0h1m24 0h1m4 0h1m1 0h1m5 0h1m1 0h1m1 0h1m6 0h1m1 0h1m3 0h1m5 0h1m2 0h3m1 0h1m1 0h3m4 0h1m10 0h1m6 0h2m6 0h3m1 0h1m2 0h1m1 0h1m1 0h1m2 0h1m3 0h3m7 0h1m8 0h2m2 0h1m7 0h1m1 0h1m4 0h1m3 0h1m2 0h1m3 0h1m2 0h1m7 0h1m-202 1h1m12 0h1m15 0h1m3 0h1m5 0h1m8 0h1m1 0h1m6 0h2m2 0h1m3 0h2m3 0h1m2 0h1m2 0h1m4 0h2m6 0h2m4 0h1m3 0h2m3 0h2m8 0h4m7 0h1m1 0h1m2 0h1m8 0h1m5 0h2m3 0h1m6 0h2m1 0h1m4 0h1m15 0h1m3 0h5m4 0h1m3 0h3m1 0h1m-196 1h2m7 0h1m4 0h1m2 0h1m4 0h2m9 0h5m9 0h1m6 0h2m6 0h1m6 0h2m8 0h2m2 0h1m5 0h1m19 0h2m3 0h1m3 0h1m12 0h1m1 0h1m1 0h1m6 0h1m5 0h2m4 0h2m5 0h1m3 0h1m9 0h1m7 0h1m8 0h1m2 0h1m6 0h1m2 0h1m-219 1h1m2 0h1m4 0h1m4 0h1m6 0h2m7 0h2m3 0h1m10 0h1m1 0h1m1 0h1m4 0h1m7 0h2m2 0h1m4 0h3m1 0h1m2 0h2m1 0h4m8 0h1m3 0h1m3 0h5m6 0h1m8 0h1m7 0h1m3 0h3m1 0h1m5 0h1m4 0h2m13 0h1m1 0h1m6 0h1m1 0h1m3 0h1m5 0h1m3 0h1m18 0h2m-198 1h2m3 0h1m5 0h1m3 0h1m6 0h1m1 0h1m6 0h1m2 0h1m2 0h2m1 0h1m3 0h1m9 0h1m5 0h2m6 0h1m2 0h1m4 0h1m1 0h2m1 0h1m2 0h1m5 0h1m9 0h1m7 0h2m2 0h1m3 0h1m5 0h1m7 0h3m2 0h1m3 0h1m2 0h1m16 0h1m9 0h1m3 0h1m3 0h1m1 0h2m4 0h1m6 0h6m2 0h1m4 0h1m5 0h1m-218 1h1m3 0h1m3 0h2m2 0h1m1 0h1m4 0h2m3 0h2m8 0h1m8 0h1m4 0h1m12 0h1m5 0h1m1 0h1m3 0h1m3 0h1m1 0h1m13 0h2m1 0h1m1 0h1m1 0h1m1 0h1m12 0h2m5 0h2m11 0h2m7 0h1m1 0h2m9 0h1m7 0h1m4 0h3m1 0h1m1 0h1m8 0h1m5 0h1m13 0h1m1 0h1m2 0h1m5 0h1m-227 1h2m1 0h1m2 0h1m4 0h1m3 0h2m4 0h1m9 0h1m1 0h1m4 0h1m5 0h1m4 0h1m1 0h2m4 0h1m4 0h1m5 0h1m13 0h1m1 0h2m5 0h4m10 0h2m11 0h1m7 0h1m11 0h1m2 0h1m1 0h1m4 0h1m1 0h1m3 0h1m7 0h1m5 0h1m1 0h1m1 0h2m4 0h1m3 0h1m2 0h1m8 0h1m2 0h1m4 0h1m15 0h2m2 0h1m-230 1h1m11 0h3m6 0h1m2 0h1m14 0h1m2 0h1m1 0h3m5 0h1m5 0h1m1 0h2m15 0h1m3 0h1m1 0h1m9 0h1m7 0h1m1 0h1m3 0h1m1 0h1m1 0h1m2 0h1m1 0h5m1 0h1m1 0h1m9 0h1m3 0h1m3 0h4m9 0h1m4 0h1m4 0h1m3 0h1m5 0h2m9 0h1m1 0h1m1 0h1m17 0h1m3 0h1m13 0h3m3 0h1m-235 1h1m6 0h1m3 0h1m4 0h1m1 0h1m5 0h1m9 0h4m4 0h1m1 0h1m2 0h1m6 0h1m16 0h1m1 0h1m21 0h1m3 0h1m3 0h2m4 0h2m9 0h2m1 0h3m10 0h2m1 0h1m2 0h1m4 0h1m14 0h2m8 0h1m16 0h1m2 0h1m7 0h1m1 0h1m2 0h1m1 0h1m1 0h1m2 0h1m11 0h1m2 0h1m3 0h2m8 0h1m-235 1h1m3 0h2m1 0h2m5 0h2m2 0h2m6 0h1m1 0h1m3 0h1m8 0h1m1 0h1m2 0h1m2 0h1m4 0h2m1 0h1m2 0h1m1 0h1m8 0h1m6 0h1m5 0h2m1 0h6m1 0h3m1 0h1m7 0h1m3 0h1m1 0h1m2 0h1m1 0h3m4 0h1m4 0h1m1 0h1m1 0h1m2 0h1m12 0h1m4 0h1m2 0h1m4 0h1m4 0h1m1 0h1m1 0h1m3 0h1m6 0h1m3 0h1m4 0h1m1 0h1m2 0h3m11 0h1m2 0h1m13 0h2m-232 1h1m10 0h1m1 0h2m2 0h1m3 0h2m1 0h3m1 0h1m2 0h1m3 0h1m2 0h1m2 0h2m4 0h1m4 0h1m1 0h2m1 0h1m2 0h1m7 0h2m3 0h1m8 0h1m9 0h1m2 0h1m3 0h2m12 0h1m2 0h1m8 0h1m14 0h1m4 0h1m18 0h1m7 0h1m2 0h1m6 0h1m2 0h2m2 0h2m1 0h2m1 0h1m3 0h1m4 0h1m17 0h1m1 0h1m1 0h1m3 0h1m5 0h2m-248 1h1m4 0h1m5 0h2m4 0h2m1 0h1m14 0h1m3 0h1m1 0h1m2 0h1m9 0h1m3 0h1m1 0h1m1 0h3m7 0h2m2 0h2m4 0h1m2 0h1m7 0h1m5 0h5m4 0h1m1 0h3m1 0h1m7 0h1m1 0h1m24 0h1m8 0h1m2 0h1m15 0h1m2 0h1m11 0h1m9 0h1m3 0h1m2 0h1m2 0h1m1 0h1m3 0h1m5 0h1m3 0h1m1 0h1m5 0h1m5 0h1m-251 1h1m4 0h1m3 0h2m5 0h1m2 0h1m11 0h1m7 0h1m3 0h1m5 0h1m5 0h1m4 0h1m11 0h2m2 0h1m1 0h1m6 0h3m6 0h1m1 0h3m3 0h2m5 0h1m4 0h2m20 0h1m1 0h1m21 0h1m33 0h2m22 0h1m7 0h2m4 0h2m14 0h2m2 0h1m-248 1h1m7 0h1m4 0h3m3 0h2m6 0h3m3 0h1m3 0h1m2 0h2m9 0h1m6 0h2m9 0h1m6 0h1m2 0h1m6 0h2m1 0h1m3 0h3m3 0h2m1 0h2m7 0h1m3 0h1m10 0h1m76 0h1m2 0h1m3 0h1m2 0h1m1 0h1m3 0h1m1 0h1m2 0h1m8 0h1m6 0h2m2 0h1m1 0h1m2 0h1m-247 1h1m6 0h5m12 0h1m2 0h1m3 0h1m2 0h2m2 0h2m2 0h1m2 0h1m6 0h1m7 0h2m12 0h1m1 0h2m4 0h1m2 0h1m1 0h1m3 0h2m3 0h1m1 0h1m1 0h1m4 0h1m2 0h1m1 0h2m3 0h1m1 0h1m68 0h1m14 0h1m2 0h1m10 0h1m4 0h1m3 0h1m2 0h1m12 0h1m1 0h2m1 0h1m-245 1h1m3 0h1m9 0h2m6 0h1m2 0h1m12 0h1m4 0h1m1 0h1m1 0h1m1 0h1m5 0h1m2 0h1m3 0h1m4 0h1m3 0h1m3 0h1m3 0h1m5 0h1m2 0h1m6 0h1m2 0h1m2 0h1m104 0h1m5 0h1m2 0h1m5 0h1m3 0h1m3 0h1m1 0h2m8 0h1m2 0h1m-256 1h1m4 0h1m3 0h2m1 0h4m3 0h2m1 0h1m2 0h1m7 0h1m14 0h1m11 0h1m4 0h1m3 0h1m1 0h1m1 0h1m5 0h3m5 0h3m1 0h1m3 0h1m3 0h1m5 0h1m1 0h1m8 0h1m13 0h1m96 0h1m11 0h3m4 0h2m4 0h1m4 0h2m-255 1h1m4 0h1m1 0h1m1 0h1m1 0h3m3 0h1m5 0h1m6 0h1m2 0h2m5 0h1m6 0h1m3 0h1m4 0h1m1 0h1m2 0h1m25 0h1m4 0h1m18 0h1m106 0h1m12 0h1m2 0h1m4 0h1m2 0h1m1 0h2m1 0h1m1 0h2m1 0h1m-252 1h3m1 0h2m4 0h1m11 0h1m5 0h1m3 0h1m2 0h1m3 0h1m2 0h1m5 0h1m3 0h1m8 0h1m1 0h1m9 0h1m3 0h1m4 0h1m2 0h1m7 0h1m4 0h1m4 0h1m126 0h1m5 0h1m6 0h1m1 0h1m8 0h1m-265 1h2m4 0h1m4 0h1m3 0h1m2 0h1m1 0h1m1 0h1m15 0h1m5 0h1m8 0h1m1 0h1m1 0h1m3 0h2m2 0h1m4 0h1m7 0h1m3 0h1m5 0h1m8 0h1m15 0h1m121 0h1m1 0h1m3 0h1m11 0h1m2 0h1m2 0h1m5 0h1m-272 1h1m13 0h1m7 0h1m3 0h1m7 0h1m14 0h1m1 0h1m1 0h1m2 0h1m2 0h1m3 0h1m10 0h1m1 0h1m4 0h1m1 0h1m3 0h1m2 0h1m5 0h1m8 0h1m135 0h1m13 0h2m12 0h1m-252 1h1m3 0h1m8 0h3m4 0h2m3 0h1m5 0h1m3 0h2m12 0h1m5 0h1m1 0h1m2 0h1m18 0h1m14 0h1m134 0h1m3 0h1m9 0h2m3 0h1m4 0h2m4 0h1m-266 1h2m1 0h1m1 0h1m3 0h2m5 0h1m1 0h3m3 0h1m9 0h1m1 0h2m9 0h1m2 0h1m3 0h3m1 0h2m8 0h1m8 0h1m156 0h2m5 0h1m7 0h1m3 0h2m7 0h2m-277 1h1m19 0h1m16 0h2m7 0h2m1 0h1m4 0h2m2 0h2m9 0h1m11 0h1m31 0h1m137 0h1m2 0h1m4 0h1m4 0h2m4 0h2m1 0h1m5 0h1m-274 1h1m9 0h1m6 0h1m4 0h1m5 0h1m5 0h1m1 0h1m1 0h1m1 0h1m12 0h1m34 0h1m156 0h1m2 0h3m17 0h2m-266 1h1m8 0h1m2 0h1m5 0h1m2 0h1m2 0h1m1 0h1m1 0h1m4 0h2m9 0h1m3 0h1m2 0h2m4 0h1m185 0h1m4 0h1m1 0h1m2 0h2m2 0h1m5 0h2m2 0h2m-266 1h2m1 0h2m3 0h2m1 0h1m3 0h1m3 0h1m1 0h1m1 0h1m6 0h1m1 0h1m1 0h2m4 0h1m6 0h1m198 0h2m6 0h2m1 0h1m12 0h1m-277 1h1m1 0h1m1 0h3m3 0h1m5 0h1m13 0h1m1 0h1m9 0h1m2 0h1m7 0h1m2 0h1m3 0h1m188 0h3m7 0h1m8 0h1m1 0h1m2 0h1m-279 1h1m5 0h1m1 0h1m6 0h1m2 0h1m7 0h1m1 0h4m1 0h1m3 0h1m1 0h1m1 0h2m3 0h1m2 0h1m206 0h1m5 0h1m2 0h3m2 0h2m3 0h1m3 0h1m6 0h1m-284 1h1m3 0h1m1 0h1m1 0h2m1 0h1m5 0h1m3 0h1m2 0h1m2 0h1m1 0h1m2 0h1m9 0h1m206 0h1m21 0h1m1 0h1m-273 1h3m2 0h1m13 0h2m1 0h2m3 0h1m2 0h1m223 0h2m3 0h1m1 0h1m16 0h1m1 0h1m1 0h2m-285 1h1m4 0h1m9 0h1m1 0h1m2 0h1m4 0h1m2 0h1m4 0h1m223 0h2m3 0h1m3 0h1m2 0h1m6 0h1m5 0h1m-270 1h1m1 0h1m8 0h1m21 0h1m212 0h1m16 0h1m5 0h1m-287 1h1m8 0h1m5 0h1m5 0h1m1 0h4m234 0h1m1 0h1m1 0h1m4 0h1m8 0h1m-278 1h3m3 0h2m2 0h1m3 0h1m8 0h1m1 0h1m2 0h1m3 0h1m236 0h1m13 0h1m-291 1h2m2 0h1m5 0h1m3 0h1m6 0h1m6 0h3m2 0h1m233 0h1m2 0h2m10 0h1m4 0h1m-287 1h2m11 0h1m2 0h3m4 0h2m1 0h1m2 0h1m2 0h1m3 0h2m3 0h1m1 0h1m218 0h1m4 0h1m9 0h1m7 0h2m1 0h1m2 0h1m-292 1h1m1 0h1m1 0h1m1 0h1m2 0h1m4 0h1m10 0h2m5 0h1m1 0h1m3 0h1m232 0h1m8 0h1m3 0h2m-288 1h1m3 0h1m4 0h1m17 0h2m8 0h1m234 0h1m1 0h2m1 0h1m5 0h1m2 0h1m1 0h1m4 0h1m4 0h1m-291 1h1m1 0h3m11 0h2m250 0h1m20 0h1m-290 1h1m1 0h1m4 0h1m3 0h2m14 0h1m235 0h1m12 0h1m1 0h1m1 0h1m1 0h1m3 0h2m1 0h1m-297 1h1m8 0h1m7 0h1m4 0h1m4 0h2m2 0h1m239 0h3m5 0h1m1 0h1m5 0h1m1 0h1m4 0h1m-294 1h1m6 0h1m4 0h1m11 0h1m252 0h1m7 0h1m2 0h1m3 0h1m7 0h1m-299 1h2m2 0h1m12 0h2m1 0h1m3 0h1m253 0h1m2 0h2m4 0h1m1 0h1m2 0h2m2 0h1m1 0h1m-292 1h3m2 0h1m13 0h1m238 0h1m5 0h2m5 0h1m1 0h1m5 0h1m5 0h1m3 0h1m1 0h1m-304 1h1m12 0h1m7 0h1m6 0h1m242 0h1m9 0h1m10 0h2m1 0h1m5 0h1m2 0h1m-302 1h2m4 0h1m3 0h1m8 0h1m1 0h1m256 0h2m3 0h2m2 0h1m7 0h1m3 0h2m-301 1h2m5 0h2m5 0h1m9 0h1m8 0h1m242 0h1m7 0h3m5 0h1m-293 1h3m2 0h1m10 0h1m2 0h1m2 0h1m6 0h1m249 0h2m2 0h1m11 0h2m3 0h2m1 0h1m-307 1h1m5 0h2m6 0h1m4 0h1m264 0h1m4 0h1m15 0h1m4 0h1m-307 1h3m1 0h1m6 0h1m8 0h2m252 0h2m4 0h1m4 0h1m11 0h1m1 0h1m2 0h2m-285 1h1m1 0h2m251 0h1m8 0h1m6 0h1m4 0h1m2 0h1m-305 1h1m3 0h1m2 0h2m1 0h1m9 0h1m2 0h2m1 0h1m256 0h1m4 0h1m5 0h1m1 0h1m10 0h1m-304 1h1m3 0h1m1 0h1m10 0h3m6 0h1m259 0h1m14 0h2m3 0h1m3 0h1m-308 1h1m1 0h1m7 0h1m6 0h2m258 0h1m5 0h1m4 0h1m12 0h1m11 0h1m-318 1h3m15 0h1m10 0h1m254 0h3m2 0h1m3 0h1m3 0h2m1 0h2m2 0h1m2 0h1m-306 1h1m6 0h1m8 0h1m1 0h2m262 0h1m-289 1h1m6 0h2m9 0h1m1 0h1m1 0h1m270 0h1m10 0h1m5 0h1m2 0h2m-303 1h1m9 0h1m3 0h1m1 0h1m1 0h1m263 0h1m2 0h1m9 0h1m3 0h2m3 0h1m-316 1h1m7 0h1m9 0h1m4 0h2m259 0h1m5 0h1m3 0h1m6 0h1m4 0h1m10 0h1m-317 1h1m4 0h1m8 0h1m5 0h2m267 0h2m14 0h1m4 0h1m1 0h2m4 0h1m-314 1h1m5 0h1m13 0h1m265 0h1m2 0h1m18 0h1m1 0h1m3 0h1m-315 1h1m1 0h3m4 0h1m2 0h2m2 0h1m3 0h1m267 0h1m4 0h1m1 0h2m16 0h1m1 0h1m-318 1h1m287 0h1m3 0h1m9 0h1m5 0h1m2 0h2m3 0h1m6 0h1m-324 1h1m3 0h1m5 0h1m2 0h1m3 0h1m1 0h1m270 0h1m1 0h2m2 0h3m13 0h1m1 0h1m-312 1h1m2 0h2m283 0h1m1 0h1m1 0h1m4 0h1m11 0h1m1 0h1m-315 1h1m13 0h1m2 0h1m2 0h1m264 0h1m16 0h2m3 0h1m4 0h2m-302 1h2m1 0h1m281 0h1m2 0h2m2 0h1m2 0h1m1 0h1m6 0h1m-308 1h1m6 0h2m1 0h1m278 0h1m11 0h1m1 0h1m7 0h1m1 0h1m-325 1h1m7 0h2m9 0h2m276 0h1m1 0h1m3 0h1m8 0h2m4 0h1m-318 1h1m5 0h1m1 0h1m4 0h1m2 0h1m285 0h1m8 0h2m3 0h1m-317 1h2m2 0h1m4 0h1m3 0h1m1 0h1m283 0h3m4 0h6m3 0h1m1 0h1m3 0h2m-324 1h1m3 0h1m1 0h1m1 0h1m3 0h1m2 0h1m283 0h1m1 0h2m17 0h1m-320 1h2m1 0h1m1 0h1m8 0h1m282 0h1m1 0h1m10 0h2m1 0h1m5 0h1m-317 1h1m11 0h2m1 0h1m279 0h1m1 0h3m3 0h1m2 0h1m6 0h1m-309 1h2m1 0h1m1 0h1m281 0h1m2 0h1m2 0h1m1 0h2m3 0h1m2 0h1m8 0h1m-316 1h1m9 0h1m283 0h1m1 0h1m4 0h1m6 0h1m2 0h1m2 0h2m-320 1h2m1 0h2m9 0h1m1 0h1m1 0h1m273 0h1m8 0h1m14 0h1m2 0h1m1 0h1m-311 1h6m2 0h1m283 0h3m6 0h1m3 0h1m2 0h2m2 0h1m-327 1h1m2 0h1m1 0h1m7 0h1m5 0h1m282 0h2m2 0h1m1 0h1m6 0h2m6 0h1m-322 1h1m5 0h2m295 0h1m1 0h1m1 0h1m1 0h1m5 0h1m-308 1h2m1 0h1m6 0h1m286 0h1m3 0h2m2 0h1m1 0h2m2 0h1m-321 1h1m1 0h1m3 0h2m3 0h1m1 0h1m1 0h2m4 0h1m282 0h1m4 0h1m1 0h1m4 0h1m-309 1h1m5 0h1m4 0h1m286 0h1m2 0h1m1 0h1m1 0h1m1 0h3m3 0h1m5 0h1m-326 1h2m1 0h2m9 0h1m5 0h1m281 0h2m12 0h1m3 0h1m13 0h1m-333 1h3m7 0h1m1 0h1m3 0h1m282 0h2m5 0h1m4 0h1m2 0h1m-321 1h1m1 0h2m3 0h1m3 0h1m5 0h1m4 0h2m286 0h1m8 0h1m2 0h1m1 0h1m3 0h2m-309 1h1m285 0h1m2 0h1m1 0h1m5 0h1m8 0h2m-311 1h3m2 0h1m286 0h2m3 0h2m4 0h1m4 0h1m-325 1h1m2 0h1m1 0h2m12 0h1m287 0h1m2 0h1m5 0h2m4 0h2m4 0h1m-325 1h1m11 0h1m289 0h4m4 0h1m3 0h1m5 0h1m3 0h1m-327 1h2m302 0h1m1 0h1m9 0h3m1 0h1m1 0h1m1 0h1m2 0h1m3 0h1m-332 1h1m8 0h2m12 0h1m299 0h1m1 0h1m-324 1h1m12 0h1m291 0h1m2 0h2m1 0h1m8 0h3m2 0h1m-325 1h1m2 0h1m297 0h1m6 0h2m4 0h1m2 0h1m1 0h1m-323 1h2m1 0h1m8 0h1m5 0h1m289 0h1m1 0h1m1 0h1m3 0h1m1 0h1m-307 1h1m1 0h1m294 0h2m3 0h1m1 0h1m5 0h1m2 0h1m-327 1h2m1 0h1m3 0h1m2 0h1m2 0h2m3 0h1m286 0h1m12 0h3m5 0h1m-324 1h2m4 0h1m7 0h1m1 0h1m288 0h1m14 0h1m-319 1h1m12 0h1m287 0h1m1 0h1m1 0h2m2 0h1m2 0h1m4 0h1m5 0h1m-328 1h1m1 0h1m6 0h1m2 0h1m4 0h1m1 0h1m3 0h1m288 0h2m2 0h1m1 0h1m4 0h1m-322 1h3m2 0h1m9 0h1m4 0h1m281 0h1m2 0h1m2 0h1m5 0h1m8 0h1m2 0h1m-330 1h1m2 0h1m1 0h1m2 0h1m8 0h1m2 0h1m288 0h2m6 0h1m2 0h1m3 0h1m1 0h1m-312 1h1m293 0h1m11 0h1m3 0h1m-309 1h2m1 0h2m297 0h4m3 0h1m-323 1h1m2 0h1m1 0h1m8 0h1m1 0h1m290 0h1m1 0h1m6 0h1m9 0h1m1 0h1m-333 1h1m2 0h3m1 0h1m2 0h1m2 0h1m3 0h2m293 0h2m9 0h1m7 0h1m-333 1h1m5 0h1m10 0h1m286 0h1m4 0h1m1 0h1m3 0h1m7 0h1m2 0h2m1 0h2m-330 1h2m3 0h2m2 0h2m4 0h1m293 0h1m2 0h1m2 0h1m4 0h2m4 0h1m-326 1h5m4 0h1m3 0h1m1 0h1m1 0h3m286 0h1m1 0h1m1 0h1m3 0h1m2 0h1m5 0h1m1 0h1m-327 1h3m1 0h1m1 0h1m1 0h1m7 0h1m291 0h1m4 0h1m1 0h1m1 0h1m1 0h1m1 0h1m-319 1h2m1 0h1m1 0h1m4 0h1m1 0h1m1 0h1m306 0h1m4 0h1m-323 1h2m2 0h1m1 0h1m292 0h1m3 0h1m10 0h1m1 0h1m5 0h1m-328 1h1m7 0h2m4 0h1m294 0h1m2 0h1m8 0h1m2 0h1m2 0h1m-328 1h1m306 0h1m2 0h1m1 0h2m2 0h4m1 0h1m8 0h1m-331 1h2m8 0h1m4 0h1m1 0h1m289 0h1m2 0h2m10 0h1m1 0h1m-322 1h1m8 0h1m2 0h1m5 0h1m289 0h2m3 0h1m-314 1h1m2 0h1m4 0h1m3 0h1m3 0h2m282 0h1m3 0h1m1 0h1m4 0h1m4 0h1m2 0h3m4 0h1m5 0h1m-336 1h1m3 0h1m4 0h1m4 0h1m1 0h1m285 0h1m8 0h2m1 0h1m3 0h1m4 0h1m3 0h1m-325 1h2m2 0h1m4 0h2m293 0h1m9 0h1m5 0h1m-326 1h1m3 0h2m2 0h1m7 0h1m292 0h1m9 0h1m5 0h1m-323 1h3m13 0h1m282 0h1m5 0h1m2 0h2m3 0h1m4 0h1m6 0h1m-323 1h1m8 0h1m3 0h2m290 0h3m1 0h1m6 0h1m4 0h1m2 0h1m-330 1h1m10 0h1m2 0h1m4 0h1m290 0h4m1 0h1m2 0h1m1 0h1m3 0h1m1 0h3m-326 1h2m9 0h1m296 0h3m1 0h1m4 0h1m1 0h1m2 0h1m-325 1h1m2 0h1m1 0h1m2 0h2m8 0h1m286 0h1m1 0h1m1 0h2m10 0h1m3 0h1m-326 1h1m2 0h1m3 0h1m1 0h1m6 0h1m288 0h2m3 0h3m1 0h1m4 0h1m5 0h1m2 0h1m-324 1h1m1 0h1m1 0h1m4 0h2m3 0h1m287 0h1m1 0h1m4 0h1m4 0h1m1 0h1m-323 1h1m3 0h1m7 0h1m2 0h1m296 0h2m1 0h1m1 0h1m1 0h1m3 0h2m3 0h1m-324 1h1m1 0h1m2 0h1m5 0h1m1 0h2m285 0h1m9 0h1m9 0h1m-316 1h3m294 0h1m1 0h1m2 0h1m14 0h1m-324 1h1m7 0h1m2 0h1m2 0h2m290 0h1m5 0h1m5 0h3m1 0h1m-324 1h2m10 0h1m292 0h1m2 0h1m6 0h1m5 0h1m2 0h1m-331 1h1m5 0h1m4 0h1m1 0h1m1 0h2m5 0h1m292 0h1m1 0h2m6 0h1m3 0h1m-329 1h2m1 0h3m12 0h2m3 0h1m292 0h1m4 0h1m4 0h3m-328 1h1m4 0h2m3 0h1m6 0h1m1 0h2m1 0h1m283 0h1m6 0h2m10 0h1m1 0h2m-312 1h1m2 0h1m293 0h1m6 0h2m1 0h1m-326 1h1m3 0h1m4 0h1m9 0h1m308 0h1m-329 1h1m2 0h1m1 0h1m1 0h1m10 0h2m291 0h1m1 0h1m2 0h1m8 0h1m2 0h1m-327 1h1m4 0h1m2 0h1m2 0h1m294 0h2m2 0h1m1 0h1m3 0h1m1 0h1m1 0h1m-321 1h1m12 0h1m292 0h1m7 0h1m8 0h3m1 0h2m1 0h1m1 0h2m-334 1h1m4 0h1m2 0h1m4 0h1m296 0h1m16 0h1m-323 1h1m14 0h1m294 0h1m2 0h1m2 0h1m3 0h1m4 0h2m-332 1h1m2 0h1m6 0h3m1 0h1m3 0h1m5 0h1m279 0h1m1 0h2m2 0h1m1 0h1m3 0h2m1 0h1m2 0h1m5 0h1m1 0h2m-332 1h1m7 0h3m5 0h1m3 0h2m288 0h1m3 0h1m3 0h1m3 0h1m-322 1h1m6 0h1m9 0h2m289 0h4m1 0h1m1 0h1m5 0h3m11 0h1m-333 1h1m1 0h1m9 0h1m286 0h1m9 0h1m5 0h1m13 0h2m-336 1h1m2 0h1m10 0h3m5 0h1m286 0h1m22 0h1m-330 1h2m3 0h1m2 0h1m3 0h1m1 0h1m1 0h1m290 0h1m3 0h1m4 0h1m6 0h2m1 0h1m3 0h2m-327 1h1m7 0h2m1 0h1m2 0h1m287 0h1m4 0h1m6 0h1m3 0h1m-323 1h1m1 0h2m5 0h1m2 0h1m2 0h1m2 0h2m286 0h1m1 0h1m3 0h1m4 0h1m6 0h1m-311 1h1m289 0h1m2 0h1m5 0h2m2 0h3m6 0h1m-326 1h1m5 0h1m7 0h1m287 0h1m9 0h1m6 0h1m1 0h1m-318 1h1m2 0h1m3 0h2m1 0h1m295 0h1m7 0h1m6 0h1m-327 1h2m3 0h1m2 0h1m4 0h2m291 0h4m4 0h1m2 0h1m3 0h1m-326 1h1m5 0h2m4 0h1m1 0h2m2 0h2m286 0h1m2 0h1m10 0h1m7 0h1m-320 1h1m1 0h1m6 0h4m288 0h2m3 0h1m5 0h2m5 0h1m1 0h1m-326 1h1m3 0h2m7 0h2m5 0h1m282 0h1m1 0h1m2 0h1m1 0h1m12 0h1m1 0h2m-331 1h1m4 0h1m3 0h1m2 0h1m297 0h1m13 0h4m-309 1h1m289 0h1m17 0h1m-329 1h1m5 0h2m3 0h1m7 0h1m289 0h1m1 0h1m1 0h1m3 0h1m9 0h1m-323 1h1m5 0h1m7 0h1m2 0h1m1 0h1m285 0h1m15 0h1m2 0h1m-321 1h2m2 0h2m303 0h1m1 0h1m1 0h1m1 0h1m3 0h1m2 0h1m-325 1h2m1 0h1m1 0h2m7 0h1m290 0h1m7 0h1m7 0h1m2 0h1m1 0h1m-326 1h1m3 0h1m5 0h1m2 0h1m1 0h1m2 0h1m282 0h3m11 0h1m-316 1h1m12 0h1m3 0h1m281 0h1m17 0h1m2 0h1m3 0h1m-326 1h1m11 0h2m1 0h2m3 0h1m287 0h2m1 0h1m8 0h1m8 0h1m-335 1h1m14 0h1m4 0h2m282 0h1m4 0h2m2 0h2m4 0h1m6 0h2m4 0h2m-328 1h2m8 0h3m4 0h1m-22 1h1m4 0h3m297 0h1m6 0h1m5 0h2m4 0h1m2 0h1m-331 1h1m12 0h2m4 0h1m3 0h1m286 0h2m1 0h1m3 0h1m9 0h1m-326 1h1m3 0h1m6 0h1m296 0h1m2 0h1m18 0h1m-325 1h2m8 0h1m1 0h2m291 0h2m2 0h1m3 0h1m3 0h1m-325 1h1m10 0h2m3 0h1m4 0h1m305 0h1m-322 1h2m1 0h2m1 0h1m3 0h1m2 0h3m291 0h2m3 0h1m5 0h1m2 0h1m-327 1h2m3 0h1m1 0h2m2 0h2m3 0h1m1 0h3m277 0h1m21 0h1m3 0h1m1 0h1m-325 1h1m1 0h1m1 0h1m4 0h1m10 0h2m286 0h4m3 0h1m2 0h1m1 0h1m2 0h1m-326 1h2m4 0h2m8 0h1m6 0h1m286 0h2m1 0h1m1 0h1m1 0h1m4 0h1m4 0h1m2 0h1m-332 1h1m4 0h1m2 0h1m2 0h1m1 0h2m3 0h1m5 0h1m282 0h1m7 0h2m1 0h1m13 0h1m-318 1h1m2 0h1m2 0h2m4 0h1m1 0h1m279 0h1m1 0h1m6 0h1m10 0h1m-325 1h1m2 0h1m1 0h1m4 0h2m1 0h1m5 0h1m285 0h1m2 0h1m1 0h1m1 0h1m5 0h1m5 0h1m-320 1h1m1 0h1m1 0h1m2 0h1m5 0h1m287 0h1m1 0h1m4 0h1m3 0h1m4 0h1m-321 1h1m1 0h1m2 0h1m5 0h1m1 0h1m2 0h1m1 0h1m280 0h1m5 0h3m1 0h1m8 0h1m-326 1h1m6 0h1m3 0h1m1 0h1m2 0h1m7 0h2m3 0h1m285 0h1m4 0h1m1 0h1m3 0h1m1 0h1m-320 1h2m297 0h2m5 0h1m8 0h1m7 0h1m-327 1h1m4 0h1m3 0h1m6 0h1m285 0h1m1 0h2m3 0h1m7 0h1m5 0h1m1 0h1m-325 1h1m1 0h2m296 0h1m3 0h1m6 0h1m5 0h1m4 0h1m-319 1h2m10 0h1m279 0h1m5 0h1m1 0h1m10 0h1m2 0h1m2 0h1m-322 1h2m7 0h1m5 0h2m283 0h1m19 0h1m1 0h1m2 0h1m-328 1h1m5 0h1m1 0h1m3 0h1m1 0h2m2 0h1m286 0h2m3 0h1m3 0h1m9 0h1m-320 1h2m2 0h2m2 0h1m2 0h1m292 0h2m5 0h1m1 0h1m1 0h3m4 0h1m2 0h1m-328 1h3m3 0h1m1 0h1m1 0h1m2 0h1m1 0h2m6 0h1m281 0h2m1 0h1m2 0h1m4 0h3m3 0h1m-324 1h2m2 0h1m5 0h1m1 0h1m2 0h1m1 0h2m1 0h1m2 0h1m273 0h1m3 0h1m2 0h1m6 0h1m7 0h2m2 0h1m2 0h1m-325 1h1m4 0h1m2 0h1m1 0h1m5 0h3m282 0h1m3 0h1m7 0h1m2 0h1m2 0h1m-321 1h2m5 0h1m4 0h1m284 0h1m6 0h4m2 0h1m3 0h1m3 0h1m2 0h1m-323 1h1m18 0h2m277 0h1m6 0h1m1 0h1m2 0h1m2 0h2m3 0h2m4 0h1m-320 1h1m10 0h4m4 0h1m273 0h1m2 0h1m22 0h1m-320 1h2m1 0h1m5 0h1m282 0h1m13 0h1m1 0h2m5 0h1m-310 1h1m6 0h2m1 0h1m278 0h1m5 0h1m4 0h1m5 0h1m1 0h2m1 0h1m-327 1h1m6 0h1m3 0h2m1 0h1m1 0h1m6 0h2m285 0h2m10 0h1m3 0h1m2 0h1m-329 1h1m6 0h1m10 0h1m11 0h1m277 0h1m18 0h1m2 0h1m-326 1h1m3 0h2m11 0h1m277 0h1m5 0h1m2 0h2m3 0h1m4 0h1m1 0h1m3 0h1m3 0h1m-325 1h1m1 0h3m4 0h2m8 0h1m1 0h2m277 0h1m5 0h1m3 0h1m4 0h1m4 0h1m-321 1h2m1 0h1m1 0h1m1 0h1m1 0h2m10 0h1m281 0h1m2 0h2m2 0h1m8 0h1m1 0h1m-316 1h4m4 0h3m278 0h1m1 0h1m2 0h1m10 0h1m4 0h1m1 0h1m3 0h1m-315 1h2m2 0h1m1 0h2m286 0h1m10 0h1m2 0h1m-313 1h1m1 0h2m4 0h1m1 0h1m1 0h1m1 0h1m278 0h1m1 0h2m15 0h1m-315 1h1m8 0h1m5 0h1m3 0h1m277 0h1m1 0h1m1 0h3m2 0h1m4 0h1m3 0h3m-318 1h1m3 0h1m9 0h1m4 0h1m1 0h1m276 0h1m1 0h2m5 0h1m8 0h1m-314 1h2m4 0h1m4 0h1m1 0h1m5 0h1m3 0h1m269 0h1m5 0h1m1 0h1m11 0h1m4 0h1m-315 1h1m2 0h1m7 0h1m282 0h3m1 0h1m3 0h1m1 0h2m4 0h3m1 0h1m-322 1h1m3 0h3m4 0h1m3 0h1m1 0h2m2 0h2m262 0h1m10 0h1m1 0h1m3 0h1m9 0h1m8 0h1m-321 1h1m1 0h1m2 0h1m1 0h1m1 0h1m1 0h1m1 0h1m2 0h1m3 0h1m3 0h1m268 0h2m3 0h1m3 0h2m9 0h2m-320 1h1m18 0h1m1 0h2m270 0h1m1 0h1m1 0h1m4 0h1m10 0h4m2 0h1m3 0h1m3 0h1m-327 1h1m6 0h3m1 0h1m2 0h1m9 0h1m277 0h1m5 0h4m2 0h2m1 0h1m7 0h1m-313 1h1m4 0h1m4 0h1m275 0h1m6 0h1m6 0h1m4 0h1m-315 1h1m1 0h3m3 0h1m278 0h1m4 0h1m7 0h1m1 0h1m1 0h1m1 0h1m2 0h1m9 0h1m-318 1h1m8 0h1m7 0h1m2 0h2m7 0h1m256 0h1m3 0h1m2 0h1m5 0h1m7 0h2m4 0h1m1 0h1m-317 1h1m2 0h2m1 0h2m5 0h1m2 0h1m6 0h1m1 0h1m272 0h1m6 0h1m2 0h1m1 0h2m-308 1h1m3 0h1m3 0h1m2 0h2m4 0h2m269 0h1m2 0h1m3 0h1m10 0h1m5 0h1m1 0h1m-319 1h1m5 0h1m4 0h1m7 0h1m2 0h1m1 0h1m1 0h1m265 0h1m3 0h1m11 0h1m2 0h2m2 0h1m-319 1h1m9 0h2m5 0h1m1 0h1m2 0h1m2 0h1m1 0h1m6 0h1m255 0h1m1 0h1m3 0h1m8 0h1m6 0h2m2 0h1m-310 1h1m10 0h3m1 0h1m2 0h1m3 0h1m260 0h2m11 0h4m1 0h1m1 0h1m3 0h1m1 0h1m1 0h1m6 0h1m-319 1h3m7 0h1m6 0h1m1 0h1m254 0h1m6 0h1m1 0h2m3 0h1m4 0h2m9 0h1m-310 1h2m1 0h1m8 0h2m4 0h2m3 0h1m1 0h2m255 0h1m3 0h1m1 0h1m1 0h3m1 0h3m5 0h1m6 0h3m-305 1h1m1 0h1m10 0h1m11 0h1m253 0h2m1 0h1m2 0h1m7 0h1m8 0h1m5 0h1m-317 1h1m2 0h2m3 0h1m2 0h1m3 0h1m10 0h1m3 0h1m255 0h1m3 0h1m8 0h2m7 0h2m-303 1h1m3 0h1m6 0h1m1 0h2m1 0h1m1 0h1m253 0h1m1 0h1m1 0h1m2 0h1m2 0h3m1 0h1m13 0h1m1 0h1m2 0h1m-310 1h1m2 0h1m1 0h1m1 0h2m1 0h1m1 0h1m14 0h1m2 0h1m250 0h1m2 0h4m1 0h1m3 0h1m5 0h1m2 0h1m2 0h1m14 0h1m-315 1h2m13 0h1m247 0h1m5 0h1m14 0h1m4 0h1m8 0h2m1 0h1m-297 1h1m3 0h1m3 0h1m10 0h1m250 0h1m4 0h1m3 0h1m4 0h2m2 0h1m1 0h1m2 0h1m2 0h1m6 0h1m-309 1h1m2 0h2m1 0h1m3 0h1m3 0h1m6 0h1m250 0h2m4 0h2m1 0h1m9 0h2m10 0h2m-304 1h2m2 0h2m2 0h3m3 0h1m3 0h1m1 0h2m1 0h1m2 0h1m244 0h2m3 0h3m5 0h1m2 0h1m5 0h2m1 0h1m3 0h2m-303 1h2m1 0h1m4 0h1m7 0h1m3 0h1m1 0h1m240 0h2m6 0h1m2 0h1m8 0h1m2 0h1m5 0h3m1 0h3m-298 1h2m1 0h3m5 0h1m7 0h1m235 0h2m8 0h1m1 0h1m8 0h1m4 0h1m3 0h1m8 0h1m1 0h1m-297 1h1m8 0h1m4 0h1m4 0h1m1 0h1m239 0h1m6 0h2m1 0h1m2 0h1m8 0h1m1 0h2m6 0h1m1 0h1m1 0h1m3 0h1m-299 1h1m1 0h1m1 0h2m2 0h1m2 0h1m1 0h1m3 0h1m7 0h1m3 0h1m234 0h2m4 0h1m2 0h2m6 0h2m10 0h1m-300 1h1m8 0h1m5 0h2m1 0h1m1 0h2m1 0h1m2 0h3m236 0h1m6 0h1m5 0h1m3 0h1m8 0h1m3 0h1m11 0h1m-306 1h1m7 0h1m2 0h1m8 0h2m231 0h1m11 0h1m3 0h1m9 0h1m5 0h1m2 0h1m4 0h2m2 0h2m-300 1h1m4 0h1m3 0h2m4 0h1m1 0h1m2 0h2m5 0h1m4 0h1m230 0h4m15 0h1m5 0h2m5 0h1m-293 1h2m2 0h1m4 0h1m2 0h1m2 0h1m3 0h1m3 0h1m9 0h1m219 0h1m5 0h5m3 0h1m3 0h1m3 0h1m2 0h1m1 0h1m5 0h2m3 0h1m1 0h2m1 0h2m-300 1h1m2 0h1m5 0h1m8 0h1m6 0h1m224 0h1m9 0h1m5 0h1m1 0h1m3 0h2m3 0h1m4 0h1m5 0h1m1 0h2m1 0h1m-291 1h2m5 0h4m7 0h1m5 0h4m4 0h1m215 0h1m3 0h1m3 0h5m5 0h1m1 0h1m12 0h2m2 0h1m3 0h1m-278 1h1m3 0h2m2 0h1m1 0h2m3 0h1m211 0h1m3 0h1m4 0h1m3 0h1m8 0h2m2 0h1m14 0h1m9 0h1m1 0h1m-295 1h1m1 0h2m1 0h1m5 0h1m5 0h1m3 0h1m5 0h2m1 0h1m5 0h1m191 0h1m22 0h3m1 0h2m7 0h1m3 0h1m3 0h1m4 0h1m5 0h1m2 0h1m6 0h1m1 0h1m-295 1h1m9 0h3m3 0h1m216 0h1m13 0h1m6 0h1m1 0h1m1 0h1m1 0h2m7 0h1m4 0h2m4 0h2m1 0h1m3 0h2m1 0h1m-288 1h1m7 0h3m2 0h2m5 0h3m3 0h1m3 0h2m201 0h1m4 0h1m5 0h1m3 0h1m3 0h1m8 0h1m3 0h2m7 0h2m1 0h2m9 0h1m-290 1h1m3 0h1m1 0h1m8 0h1m2 0h1m7 0h1m5 0h2m186 0h1m8 0h1m4 0h4m5 0h1m3 0h1m2 0h1m6 0h3m2 0h1m1 0h1m2 0h1m8 0h1m5 0h1m-277 1h1m2 0h1m1 0h2m1 0h1m3 0h1m1 0h1m6 0h1m3 0h1m199 0h1m3 0h3m1 0h2m3 0h1m3 0h1m3 0h1m8 0h1m6 0h1m4 0h1m9 0h1m-282 1h1m2 0h1m5 0h1m7 0h1m2 0h1m6 0h5m3 0h1m188 0h2m11 0h1m2 0h1m3 0h1m2 0h1m2 0h1m7 0h1m3 0h1m7 0h1m2 0h1m2 0h1m3 0h1m2 0h1m-284 1h1m2 0h1m3 0h1m1 0h1m4 0h2m2 0h1m2 0h1m2 0h1m4 0h1m4 0h1m192 0h1m1 0h1m2 0h1m1 0h1m9 0h1m1 0h1m1 0h2m2 0h2m2 0h1m5 0h2m3 0h1m2 0h2m2 0h3m2 0h1m1 0h1m-283 1h1m7 0h1m1 0h2m1 0h1m2 0h1m3 0h1m1 0h1m1 0h1m5 0h1m8 0h1m170 0h1m5 0h1m6 0h1m11 0h1m1 0h1m6 0h1m6 0h2m8 0h1m4 0h1m1 0h1m3 0h1m1 0h1m11 0h1m-283 1h2m8 0h1m5 0h1m2 0h1m3 0h1m2 0h2m2 0h1m1 0h1m3 0h1m6 0h1m159 0h1m1 0h1m6 0h2m3 0h1m11 0h1m5 0h2m5 0h4m3 0h2m5 0h1m12 0h2m1 0h1m-269 1h1m1 0h2m2 0h1m13 0h1m8 0h1m1 0h1m161 0h1m11 0h1m1 0h1m1 0h1m2 0h2m3 0h1m4 0h1m3 0h1m10 0h1m2 0h2m6 0h1m8 0h2m4 0h1m5 0h2m-277 1h1m9 0h6m6 0h1m2 0h2m2 0h1m2 0h1m4 0h1m1 0h1m153 0h1m10 0h2m4 0h1m1 0h1m10 0h1m2 0h2m1 0h1m2 0h1m1 0h1m2 0h3m9 0h2m4 0h1m5 0h1m4 0h2m14 0h1m-280 1h2m1 0h1m10 0h3m4 0h3m2 0h2m6 0h1m170 0h3m3 0h1m6 0h1m2 0h1m10 0h1m7 0h1m4 0h1m2 0h1m4 0h1m2 0h1m7 0h1m1 0h1m5 0h1m-267 1h1m3 0h1m8 0h1m2 0h2m2 0h1m1 0h1m163 0h1m3 0h1m4 0h1m1 0h2m1 0h3m4 0h1m1 0h1m2 0h2m2 0h1m1 0h1m4 0h1m4 0h1m3 0h3m2 0h1m8 0h1m9 0h2m2 0h1m2 0h1m-269 1h1m5 0h1m1 0h1m1 0h1m1 0h1m1 0h1m1 0h1m3 0h1m4 0h1m6 0h1m4 0h1m5 0h2m5 0h1m5 0h1m140 0h2m1 0h2m1 0h1m6 0h1m3 0h1m1 0h3m15 0h1m4 0h1m3 0h1m2 0h1m2 0h1m2 0h1m6 0h2m1 0h1m-260 1h1m1 0h1m2 0h1m2 0h1m1 0h4m2 0h2m5 0h1m2 0h1m1 0h2m17 0h1m141 0h1m5 0h1m1 0h2m4 0h1m2 0h1m2 0h1m3 0h1m5 0h1m3 0h1m4 0h2m5 0h1m3 0h1m1 0h1m4 0h1m2 0h1m3 0h1m4 0h1m-247 1h1m7 0h1m4 0h1m3 0h1m5 0h2m1 0h1m3 0h1m3 0h1m4 0h1m6 0h1m16 0h1m95 0h1m3 0h1m6 0h1m18 0h2m9 0h2m7 0h1m7 0h1m1 0h1m2 0h1m3 0h2m6 0h1m9 0h1m2 0h1m-263 1h2m3 0h1m7 0h1m2 0h2m11 0h1m3 0h1m7 0h1m4 0h1m8 0h1m19 0h1m111 0h1m7 0h1m10 0h2m1 0h1m2 0h1m1 0h1m6 0h2m6 0h3m4 0h1m3 0h1m3 0h1m4 0h1m-246 1h1m1 0h2m6 0h1m7 0h1m3 0h1m2 0h2m3 0h2m1 0h1m3 0h1m1 0h1m1 0h1m5 0h2m10 0h1m3 0h1m1 0h1m102 0h1m6 0h1m2 0h1m2 0h2m1 0h2m2 0h1m2 0h1m3 0h1m21 0h1m4 0h2m6 0h1m1 0h1m9 0h1m3 0h1m-251 1h1m3 0h1m8 0h2m5 0h1m2 0h1m7 0h1m2 0h1m1 0h1m1 0h2m1 0h1m2 0h2m127 0h2m2 0h1m4 0h1m3 0h2m8 0h1m2 0h1m20 0h1m4 0h1m5 0h2m1 0h2m3 0h2m6 0h1m1 0h2m1 0h1m-252 1h1m6 0h2m6 0h1m5 0h1m3 0h1m2 0h1m5 0h1m6 0h2m8 0h3m1 0h2m111 0h1m7 0h1m2 0h1m5 0h1m4 0h1m1 0h1m13 0h1m2 0h1m3 0h1m4 0h2m1 0h1m3 0h1m5 0h1m3 0h1m2 0h1m1 0h2m6 0h1m3 0h2m-244 1h2m6 0h1m3 0h1m11 0h1m2 0h1m2 0h1m10 0h1m15 0h1m21 0h1m76 0h1m8 0h1m2 0h2m4 0h2m5 0h1m1 0h1m1 0h1m4 0h1m6 0h2m1 0h1m4 0h2m3 0h1m3 0h1m3 0h1m4 0h2m3 0h2m14 0h1m-250 1h1m2 0h1m3 0h2m2 0h1m7 0h1m7 0h1m1 0h1m2 0h1m2 0h1m5 0h1m2 0h2m3 0h1m3 0h1m100 0h1m10 0h1m4 0h1m4 0h1m1 0h2m1 0h1m1 0h2m6 0h2m9 0h1m3 0h1m8 0h1m4 0h1m2 0h2m5 0h1m7 0h1m8 0h1m-238 1h1m2 0h1m2 0h3m2 0h1m2 0h2m3 0h2m13 0h2m9 0h1m3 0h2m2 0h1m13 0h1m74 0h1m7 0h1m1 0h1m7 0h1m1 0h1m5 0h1m4 0h1m1 0h1m1 0h1m1 0h1m1 0h1m16 0h3m3 0h5m9 0h1m-222 1h1m8 0h1m1 0h2m2 0h1m1 0h2m2 0h1m1 0h4m2 0h2m1 0h1m3 0h3m4 0h1m2 0h2m9 0h1m96 0h1m4 0h1m4 0h1m1 0h1m3 0h1m1 0h1m1 0h3m8 0h1m7 0h1m1 0h2m2 0h3m6 0h1m1 0h1m1 0h1m1 0h1m5 0h1m3 0h2m-217 1h1m5 0h1m2 0h1m1 0h1m11 0h1m1 0h1m1 0h1m2 0h1m4 0h2m1 0h1m2 0h1m2 0h1m3 0h1m1 0h1m3 0h1m62 0h1m3 0h1m19 0h1m2 0h1m2 0h1m1 0h1m1 0h1m1 0h1m3 0h1m1 0h1m3 0h1m7 0h1m2 0h1m6 0h1m1 0h2m4 0h2m7 0h1m5 0h1m-218 1h1m4 0h1m2 0h1m1 0h1m4 0h1m1 0h1m1 0h1m7 0h1m8 0h1m1 0h1m2 0h2m2 0h1m2 0h1m3 0h2m4 0h1m5 0h2m2 0h2m1 0h1m13 0h1m16 0h1m6 0h1m30 0h1m15 0h1m1 0h1m8 0h1m4 0h1m5 0h1m2 0h1m2 0h2m1 0h1m2 0h1m5 0h1m4 0h1m3 0h1m6 0h1m1 0h1m5 0h1m-224 1h1m8 0h1m4 0h2m9 0h1m7 0h1m7 0h1m1 0h1m3 0h1m6 0h1m3 0h2m11 0h1m3 0h1m2 0h1m22 0h1m28 0h1m19 0h1m6 0h1m5 0h1m1 0h1m2 0h2m4 0h2m5 0h1m9 0h1m4 0h1m1 0h1m5 0h2m7 0h1m3 0h1m2 0h1m1 0h1m2 0h2m9 0h1m-229 1h1m1 0h1m3 0h1m5 0h4m3 0h2m9 0h1m6 0h1m8 0h1m2 0h1m1 0h1m3 0h1m3 0h1m2 0h1m16 0h1m1 0h1m38 0h1m22 0h1m1 0h2m3 0h1m10 0h1m4 0h1m1 0h1m1 0h1m7 0h1m2 0h1m10 0h1m4 0h1m2 0h1m3 0h3m2 0h1m-202 1h2m4 0h1m2 0h1m15 0h1m6 0h1m6 0h1m3 0h1m1 0h1m1 0h1m4 0h2m2 0h2m7 0h1m4 0h1m1 0h1m2 0h1m4 0h1m2 0h1m27 0h1m10 0h3m2 0h1m6 0h1m7 0h1m2 0h1m11 0h1m7 0h3m2 0h1m2 0h1m2 0h1m1 0h2m2 0h3m2 0h1m14 0h1m5 0h1m7 0h1m-211 1h4m1 0h1m1 0h1m5 0h1m4 0h1m4 0h1m2 0h1m2 0h1m5 0h1m1 0h2m8 0h1m3 0h1m7 0h1m6 0h1m1 0h1m22 0h1m6 0h1m5 0h1m6 0h1m3 0h1m1 0h1m5 0h1m1 0h1m4 0h1m5 0h1m2 0h3m5 0h1m3 0h1m2 0h1m1 0h3m1 0h3m2 0h2m6 0h3m4 0h1m5 0h1m6 0h1m1 0h1m-201 1h1m7 0h1m5 0h1m1 0h4m9 0h1m4 0h2m6 0h1m3 0h1m8 0h1m1 0h1m1 0h1m1 0h1m2 0h1m10 0h1m2 0h3m5 0h2m3 0h2m3 0h1m12 0h1m1 0h1m2 0h2m2 0h1m2 0h1m4 0h2m7 0h1m6 0h1m1 0h1m5 0h2m1 0h4m18 0h1m2 0h1m1 0h1m4 0h1m5 0h1m8 0h2m2 0h1m3 0h1m4 0h1m-223 1h1m6 0h1m3 0h2m1 0h1m6 0h1m4 0h1m2 0h1m3 0h3m2 0h1m1 0h1m1 0h2m4 0h2m1 0h1m4 0h1m3 0h1m2 0h2m1 0h1m1 0h2m1 0h1m9 0h1m2 0h1m9 0h1m19 0h1m17 0h1m3 0h1m2 0h2m1 0h2m2 0h1m8 0h1m1 0h1m3 0h1m6 0h1m1 0h2m3 0h2m1 0h1m1 0h1m1 0h1m24 0h1m4 0h1m-204 1h1m1 0h1m9 0h1m2 0h1m6 0h1m10 0h2m4 0h1m4 0h1m1 0h1m2 0h1m1 0h1m2 0h2m1 0h1m3 0h2m1 0h2m1 0h1m2 0h1m1 0h1m1 0h5m4 0h1m1 0h1m1 0h1m4 0h3m3 0h1m7 0h2m5 0h1m2 0h1m4 0h1m1 0h3m6 0h1m15 0h1m2 0h1m3 0h1m6 0h1m2 0h2m13 0h1m1 0h1m7 0h1m-185 1h1m5 0h1m6 0h2m4 0h2m2 0h1m5 0h1m7 0h1m2 0h1m4 0h1m1 0h1m4 0h1m2 0h1m4 0h1m7 0h1m3 0h1m10 0h1m8 0h1m8 0h1m6 0h1m21 0h1m1 0h2m3 0h1m5 0h1m2 0h1m6 0h4m5 0h1m4 0h1m3 0h1m1 0h1m2 0h2m26 0h1m-207 1h1m2 0h1m2 0h1m9 0h2m1 0h2m6 0h1m2 0h1m8 0h1m3 0h1m6 0h2m4 0h2m5 0h1m4 0h1m4 0h1m8 0h2m4 0h2m1 0h2m7 0h3m4 0h2m1 0h1m2 0h1m4 0h1m6 0h1m4 0h1m3 0h1m1 0h1m4 0h2m1 0h1m4 0h1m2 0h1m6 0h1m3 0h1m2 0h2m2 0h1m4 0h2m17 0h1m-191 1h1m2 0h1m1 0h2m4 0h1m3 0h1m4 0h2m2 0h2m1 0h1m1 0h1m1 0h1m5 0h1m4 0h1m2 0h2m2 0h2m7 0h1m1 0h1m15 0h1m1 0h1m12 0h1m1 0h2m4 0h1m7 0h2m6 0h1m6 0h1m5 0h1m1 0h1m5 0h1m1 0h2m11 0h2m1 0h3m4 0h1m4 0h2m6 0h1m31 0h1m-221 1h1m13 0h1m6 0h1m6 0h1m1 0h2m1 0h1m4 0h1m1 0h1m3 0h5m2 0h1m2 0h1m3 0h1m5 0h1m6 0h2m2 0h1m8 0h1m2 0h2m2 0h2m2 0h1m4 0h1m6 0h1m4 0h1m4 0h1m3 0h1m1 0h1m6 0h1m3 0h1m4 0h1m6 0h1m2 0h1m7 0h1m9 0h2m2 0h1m1 0h1m9 0h1m-171 1h1m13 0h1m1 0h1m1 0h2m1 0h1m9 0h2m3 0h1m1 0h1m7 0h1m3 0h1m2 0h1m2 0h1m7 0h1m1 0h2m4 0h1m7 0h2m12 0h2m8 0h1m9 0h1m6 0h1m4 0h2m2 0h1m1 0h1m1 0h4m3 0h1m3 0h1m8 0h1m6 0h1m6 0h1m1 0h1m-167 1h1m4 0h1m1 0h1m5 0h2m1 0h1m1 0h3m2 0h3m1 0h1m6 0h1m4 0h1m3 0h1m3 0h1m7 0h1m3 0h1m2 0h1m5 0h2m1 0h1m3 0h1m4 0h1m2 0h2m2 0h1m2 0h1m2 0h1m2 0h1m9 0h1m5 0h1m1 0h2m4 0h2m1 0h1m4 0h2m5 0h1m1 0h1m1 0h7m4 0h1m2 0h1m3 0h1m14 0h1m-176 1h1m1 0h1m8 0h2m4 0h1m2 0h1m6 0h1m1 0h1m2 0h1m3 0h1m3 0h2m1 0h3m4 0h1m6 0h2m4 0h1m1 0h1m2 0h1m3 0h1m14 0h2m13 0h1m5 0h1m5 0h1m2 0h1m9 0h1m5 0h2m10 0h2m17 0h1m-148 1h1m3 0h2m1 0h1m8 0h1m2 0h1m4 0h1m2 0h1m14 0h1m4 0h1m5 0h1m3 0h1m4 0h1m2 0h3m3 0h1m4 0h1m3 0h1m12 0h1m7 0h2m3 0h1m2 0h2m2 0h1m6 0h1m1 0h2m13 0h1m23 0h1m-180 1h1m14 0h1m5 0h1m10 0h2m1 0h1m1 0h1m4 0h1m2 0h1m2 0h1m6 0h1m4 0h1m4 0h1m1 0h1m4 0h1m3 0h1m2 0h1m2 0h1m4 0h1m2 0h5m24 0h1m1 0h1m6 0h1m9 0h1m10 0h1m-113 1h1m2 0h2m1 0h1m2 0h1m1 0h1m2 0h1m3 0h2m4 0h1m7 0h2m1 0h1m3 0h1m4 0h1m2 0h1m1 0h1m6 0h1m4 0h1m1 0h1m6 0h1m4 0h1m4 0h1m1 0h1m1 0h2m1 0h2m4 0h1m5 0h4m27 0h1m-148 1h2m4 0h2m1 0h2m2 0h1m2 0h1m11 0h2m1 0h1m4 0h2m2 0h1m3 0h1m4 0h2m8 0h1m2 0h2m4 0h1m4 0h1m1 0h2m2 0h1m5 0h1m3 0h1m2 0h2m2 0h2m3 0h1m4 0h1m3 0h1m1 0h1m4 0h1m15 0h1m-145 1h1m17 0h1m6 0h1m1 0h1m4 0h4m2 0h1m2 0h1m7 0h1m3 0h2m4 0h1m1 0h1m5 0h1m4 0h1m7 0h1m3 0h2m3 0h1m5 0h1m3 0h4m3 0h1m2 0h1m8 0h4m8 0h1m5 0h1m-105 1h1m3 0h1m1 0h1m1 0h2m5 0h1m3 0h2m2 0h1m2 0h1m6 0h1m2 0h1m6 0h1m6 0h1m11 0h1m8 0h3m5 0h2m1 0h2m8 0h1m3 0h1m1 0h1m14 0h1m11 0h1m-150 1h1m8 0h1m9 0h1m2 0h1m1 0h1m1 0h1m4 0h1m1 0h1m3 0h2m1 0h1m2 0h1m10 0h1m2 0h1m2 0h2m5 0h2m1 0h1m3 0h3m2 0h1m1 0h1m4 0h1m3 0h1m4 0h3m2 0h1m2 0h1m1 0h1m6 0h1m3 0h1m6 0h1m8 0h1m-131 1h1m8 0h1m1 0h1m1 0h3m2 0h1m3 0h1m2 0h2m6 0h1m1 0h1m1 0h2m5 0h1m3 0h1m2 0h1m7 0h2m5 0h1m1 0h1m2 0h1m2 0h1m2 0h2m1 0h2m3 0h1m5 0h1m3 0h1m1 0h1m12 0h1m5 0h1m-100 1h1m10 0h1m2 0h1m5 0h1m1 0h1m9 0h2m4 0h2m1 0h1m9 0h1m2 0h1m1 0h3m1 0h2m6 0h1m6 0h1m5 0h1m3 0h1m3 0h1m5 0h1m11 0h1m1 0h1m-124 1h1m20 0h1m4 0h2m1 0h1m3 0h2m5 0h1m7 0h1m1 0h1m15 0h2m1 0h1m4 0h1m2 0h1m5 0h1m3 0h1m2 0h1m18 0h1m3 0h2m-115 1h1m19 0h2m18 0h2m9 0h1m5 0h1m2 0h2m11 0h1m6 0h1m2 0h2m5 0h1m4 0h1m5 0h1m1 0h1m3 0h1m5 0h2m2 0h1m-117 1h1m25 0h1m2 0h1m1 0h1m1 0h1m2 0h1m1 0h1m5 0h2m4 0h2m2 0h1m3 0h5m8 0h1m1 0h2m1 0h1m4 0h1m1 0h1m2 0h1m4 0h1m2 0h1m4 0h2m1 0h1m2 0h1m1 0h1m1 0h1m-101 1h1m14 0h2m6 0h1m2 0h1m2 0h1m7 0h1m4 0h1m1 0h1m1 0h3m8 0h2m1 0h1m1 0h1m8 0h1m4 0h1m4 0h1m1 0h1m1 0h2m2 0h1m4 0h1m-70 1h2m4 0h3m12 0h1m2 0h2m3 0h1m3 0h1m4 0h1m2 0h1m1 0h1m1 0h1m1 0h2m3 0h1m-75 1h1m19 0h1m24 0h1m8 0h1m8 0h1m1 0h1m6 0h1m14 0h1m8 0h1m-88 1h1m42 0h2m3 0h2m1 0h1m24 0h1m-50 1h1m7 0h1m4 0h1m2 0h1m15 0h1m10 0h1m-46 1h1m10 0h1m15 0h1m40 0h1m-58 1h1m16 0h1m-28 1h1m14 0h1m28 0h1m7 0h1m-47 2h1"/><path stroke="#30e464" d="M0 .5m251 550h1m-10 2h1m16 0h1m-18 1h1m16 0h1m16 0h1m-39 1h1m3 0h1m4 0h1m13 0h1m3 0h2m3 0h1m5 0h1m-55 1h2m1 0h1m8 0h1m6 0h1m7 0h2m2 0h1m1 0h1m1 0h1m1 0h1m4 0h1m2 0h1m4 0h1m3 0h1m-65 1h1m3 0h1m19 0h1m7 0h1m2 0h1m4 0h1m10 0h1m-79 1h1m18 0h1m1 0h1m3 0h1m1 0h1m2 0h1m4 0h1m7 0h1m7 0h1m11 0h2m4 0h1m4 0h1m7 0h1m7 0h1m10 0h1m-133 1h1m25 0h1m2 0h1m1 0h2m20 0h1m8 0h1m3 0h1m7 0h1m1 0h1m3 0h1m11 0h2m4 0h1m1 0h1m5 0h1m2 0h1m3 0h1m14 0h3m6 0h1m6 0h1m4 0h2m-139 1h1m3 0h1m16 0h1m4 0h1m2 0h1m5 0h2m1 0h1m8 0h1m2 0h1m5 0h1m6 0h1m9 0h2m12 0h2m3 0h2m1 0h1m7 0h2m6 0h1m4 0h1m1 0h1m2 0h2m10 0h1m7 0h1m-136 1h1m16 0h1m4 0h1m4 0h1m3 0h1m6 0h1m7 0h2m6 0h1m3 0h2m1 0h1m4 0h1m2 0h1m17 0h1m4 0h1m3 0h1m1 0h2m12 0h1m2 0h1m9 0h1m6 0h1m-168 1h1m14 0h1m27 0h2m25 0h1m4 0h1m10 0h1m2 0h1m5 0h2m1 0h1m9 0h1m4 0h1m7 0h1m10 0h2m1 0h1m3 0h1m5 0h1m4 0h1m2 0h3m1 0h2m-167 1h1m11 0h1m9 0h1m15 0h1m2 0h1m12 0h1m4 0h1m8 0h1m7 0h1m2 0h1m1 0h2m4 0h1m5 0h2m9 0h1m4 0h1m4 0h1m13 0h1m3 0h1m1 0h1m14 0h1m2 0h1m5 0h1m1 0h1m1 0h2m5 0h1m6 0h2m-184 1h1m1 0h1m3 0h1m16 0h1m6 0h1m9 0h1m2 0h1m10 0h1m1 0h1m1 0h2m3 0h1m2 0h1m6 0h1m1 0h1m6 0h4m6 0h1m2 0h1m15 0h1m11 0h1m1 0h2m5 0h1m1 0h1m1 0h2m3 0h2m17 0h1m1 0h1m4 0h1m8 0h1m3 0h1m8 0h1m-186 1h1m13 0h1m9 0h2m3 0h1m1 0h1m26 0h1m8 0h1m2 0h1m1 0h2m1 0h1m1 0h1m1 0h1m1 0h1m9 0h1m6 0h1m8 0h1m5 0h1m6 0h1m6 0h1m5 0h3m12 0h1m1 0h1m5 0h1m1 0h1m7 0h1m5 0h1m4 0h1m9 0h1m10 0h1m-195 1h1m7 0h1m2 0h1m5 0h1m5 0h1m6 0h1m2 0h1m2 0h3m1 0h2m1 0h1m2 0h1m7 0h1m7 0h1m10 0h2m2 0h1m1 0h2m1 0h1m4 0h1m1 0h1m2 0h1m1 0h1m6 0h1m1 0h1m1 0h1m5 0h1m5 0h1m3 0h1m2 0h1m11 0h1m2 0h3m2 0h1m1 0h1m5 0h1m16 0h2m6 0h1m8 0h2m-199 1h1m7 0h2m14 0h1m6 0h2m4 0h4m2 0h2m3 0h2m5 0h1m5 0h1m1 0h2m3 0h1m2 0h1m4 0h1m1 0h1m2 0h2m7 0h1m8 0h3m4 0h2m3 0h2m4 0h1m6 0h2m1 0h1m7 0h1m6 0h1m4 0h1m1 0h1m3 0h2m2 0h1m2 0h1m7 0h1m19 0h1m3 0h1m9 0h1m-216 1h1m12 0h2m4 0h1m1 0h1m3 0h1m6 0h1m9 0h1m3 0h1m4 0h1m3 0h1m3 0h2m1 0h1m2 0h1m4 0h2m1 0h2m1 0h2m1 0h1m14 0h3m3 0h1m4 0h1m1 0h1m4 0h1m2 0h2m3 0h1m4 0h1m1 0h1m5 0h1m4 0h1m4 0h1m5 0h1m4 0h1m1 0h2m1 0h2m10 0h1m4 0h1m6 0h2m3 0h2m7 0h1m1 0h2m1 0h1m1 0h3m5 0h1m-202 1h1m3 0h1m10 0h1m18 0h2m1 0h1m4 0h1m5 0h1m3 0h2m6 0h1m2 0h2m4 0h1m3 0h1m1 0h1m8 0h1m5 0h1m17 0h1m5 0h2m9 0h1m8 0h1m6 0h1m2 0h1m7 0h1m6 0h1m1 0h1m1 0h1m1 0h1m3 0h2m1 0h1m12 0h1m1 0h1m1 0h1m4 0h1m3 0h1m1 0h1m13 0h1m-233 1h1m14 0h1m1 0h1m3 0h2m1 0h1m1 0h2m5 0h1m1 0h1m6 0h2m2 0h2m1 0h1m1 0h1m1 0h1m1 0h1m1 0h1m1 0h1m2 0h1m6 0h1m2 0h1m1 0h1m1 0h2m1 0h1m1 0h2m1 0h1m5 0h2m2 0h1m11 0h1m3 0h2m8 0h1m2 0h1m5 0h1m5 0h1m4 0h1m2 0h1m3 0h1m7 0h1m18 0h1m14 0h3m5 0h1m2 0h1m11 0h1m3 0h1m5 0h1m1 0h1m-218 1h1m13 0h1m1 0h1m11 0h1m5 0h1m7 0h1m1 0h1m5 0h1m4 0h1m1 0h2m5 0h1m1 0h2m3 0h1m4 0h1m25 0h1m5 0h1m7 0h1m35 0h1m6 0h1m22 0h3m1 0h1m9 0h1m3 0h2m3 0h2m1 0h1m7 0h1m3 0h1m-238 1h1m16 0h1m8 0h2m3 0h1m5 0h1m3 0h2m1 0h1m2 0h2m9 0h1m5 0h1m2 0h1m6 0h2m7 0h1m10 0h1m10 0h1m12 0h1m12 0h1m44 0h1m31 0h1m1 0h1m6 0h1m1 0h1m5 0h1m5 0h1m1 0h1m-217 1h1m2 0h1m8 0h1m2 0h1m1 0h1m1 0h1m4 0h1m6 0h1m1 0h1m6 0h1m6 0h3m2 0h1m6 0h1m2 0h1m2 0h1m2 0h1m2 0h3m2 0h2m34 0h1m2 0h1m59 0h1m2 0h1m10 0h1m1 0h1m4 0h1m4 0h1m2 0h1m2 0h1m2 0h1m7 0h1m-231 1h1m6 0h1m5 0h1m12 0h1m3 0h2m1 0h1m7 0h3m3 0h1m4 0h2m10 0h1m2 0h2m7 0h2m8 0h1m10 0h1m3 0h1m92 0h1m3 0h1m2 0h1m7 0h1m6 0h1m6 0h1m4 0h1m-223 1h1m1 0h1m19 0h1m3 0h2m4 0h1m1 0h1m5 0h2m5 0h1m13 0h2m1 0h1m1 0h1m1 0h2m2 0h1m16 0h1m6 0h1m1 0h1m85 0h1m7 0h1m2 0h1m5 0h1m10 0h1m1 0h2m10 0h1m4 0h2m-229 1h1m1 0h2m4 0h2m1 0h1m3 0h1m8 0h1m7 0h3m14 0h1m2 0h1m1 0h1m3 0h1m4 0h1m2 0h2m3 0h1m4 0h1m32 0h1m89 0h1m4 0h3m1 0h1m3 0h1m2 0h1m1 0h1m1 0h1m4 0h1m2 0h1m-234 1h2m7 0h1m11 0h1m1 0h1m3 0h1m3 0h1m2 0h1m7 0h3m1 0h1m12 0h1m14 0h1m6 0h1m2 0h1m122 0h1m8 0h3m5 0h1m3 0h1m3 0h2m-237 1h1m9 0h1m1 0h1m6 0h1m7 0h1m1 0h1m3 0h2m6 0h1m1 0h1m16 0h1m4 0h1m9 0h1m2 0h1m29 0h1m104 0h1m2 0h1m2 0h2m6 0h1m2 0h1m6 0h1m-249 1h1m10 0h1m3 0h1m2 0h2m1 0h1m2 0h2m9 0h2m1 0h1m2 0h2m3 0h1m5 0h1m7 0h1m2 0h2m4 0h2m2 0h1m4 0h1m150 0h1m3 0h2m2 0h2m13 0h2m-249 1h1m10 0h1m4 0h1m2 0h2m1 0h1m4 0h1m11 0h2m1 0h2m4 0h1m3 0h1m2 0h1m5 0h1m1 0h1m7 0h1m18 0h1m129 0h3m14 0h1m1 0h2m2 0h2m1 0h1m-243 1h1m1 0h2m2 0h1m4 0h3m1 0h2m1 0h1m1 0h1m3 0h1m1 0h1m6 0h1m3 0h1m4 0h1m9 0h1m2 0h1m162 0h1m2 0h1m1 0h1m2 0h1m2 0h2m2 0h1m13 0h1m-260 1h4m10 0h2m6 0h1m2 0h2m3 0h1m1 0h1m7 0h1m1 0h1m2 0h1m3 0h1m1 0h1m1 0h2m5 0h1m1 0h1m4 0h1m10 0h1m151 0h1m6 0h1m4 0h1m5 0h1m3 0h1m2 0h1m2 0h1m-249 1h1m3 0h1m15 0h1m1 0h1m10 0h1m2 0h1m4 0h1m5 0h1m8 0h1m170 0h1m5 0h1m16 0h1m2 0h1m-259 1h1m16 0h1m1 0h1m5 0h1m1 0h1m2 0h1m35 0h1m168 0h1m3 0h1m2 0h1m10 0h1m-261 1h1m2 0h3m1 0h1m2 0h3m3 0h1m1 0h1m2 0h2m2 0h1m2 0h1m1 0h1m3 0h1m4 0h1m7 0h1m10 0h1m18 0h1m164 0h1m4 0h1m13 0h2m1 0h1m-261 1h1m2 0h1m7 0h2m4 0h1m11 0h1m2 0h1m208 0h3m2 0h2m2 0h1m2 0h1m-260 1h1m2 0h2m20 0h1m2 0h1m5 0h1m12 0h1m202 0h1m7 0h1m4 0h1m3 0h1m1 0h1m-270 1h1m6 0h2m14 0h1m20 0h2m211 0h1m3 0h3m3 0h1m-270 1h1m7 0h2m4 0h2m1 0h2m1 0h2m4 0h1m9 0h2m211 0h2m4 0h1m4 0h2m-258 1h1m1 0h1m6 0h1m1 0h1m8 0h1m2 0h1m2 0h1m221 0h2m1 0h1m4 0h2m2 0h1m4 0h1m-274 1h1m1 0h1m29 0h1m6 0h1m3 0h1m214 0h2m3 0h1m7 0h1m1 0h1m1 0h1m-279 1h1m12 0h1m1 0h1m2 0h1m1 0h2m16 0h1m220 0h2m5 0h1m4 0h2m6 0h2m-278 1h1m4 0h4m13 0h1m2 0h1m5 0h1m227 0h1m7 0h1m2 0h2m2 0h1m5 0h1m-282 1h1m3 0h1m4 0h1m1 0h2m1 0h1m7 0h2m16 0h1m224 0h1m1 0h1m4 0h3m-275 1h1m3 0h1m2 0h1m4 0h1m5 0h1m5 0h1m240 0h1m3 0h1m3 0h1m2 0h2m2 0h1m-265 1h2m1 0h1m238 0h1m7 0h1m1 0h1m1 0h1m3 0h1m1 0h3m-282 1h1m5 0h1m6 0h1m6 0h2m4 0h1m1 0h1m238 0h1m1 0h1m1 0h1m8 0h1m1 0h1m7 0h1m-292 1h1m1 0h1m7 0h1m4 0h1m1 0h1m3 0h1m1 0h2m240 0h1m1 0h1m10 0h3m-268 1h1m252 0h1m2 0h1m15 0h1m-284 1h1m6 0h1m2 0h1m1 0h1m1 0h2m1 0h1m3 0h1m251 0h1m13 0h1m1 0h1m-292 1h1m11 0h1m3 0h1m4 0h2m245 0h1m3 0h1m5 0h1m2 0h1m1 0h1m-283 1h1m14 0h1m2 0h2m250 0h1m2 0h1m1 0h2m3 0h1m1 0h1m2 0h1m-287 1h1m8 0h2m7 0h1m253 0h1m2 0h1m11 0h1m3 0h1m1 0h1m-294 1h1m3 0h1m6 0h1m3 0h1m7 0h1m248 0h1m5 0h1m4 0h1m1 0h1m1 0h1m2 0h2m-284 1h1m4 0h1m6 0h1m256 0h1m10 0h1m-289 1h1m1 0h2m11 0h2m1 0h1m1 0h1m256 0h1m3 0h2m2 0h1m9 0h1m-298 1h2m10 0h1m1 0h2m1 0h2m254 0h1m3 0h1m3 0h2m1 0h1m1 0h1m2 0h1m-288 1h2m3 0h1m1 0h2m1 0h1m7 0h1m270 0h1m2 0h2m-294 1h1m5 0h2m4 0h1m1 0h1m2 0h1m259 0h1m6 0h2m7 0h1m-299 1h1m6 0h1m3 0h1m3 0h1m2 0h1m270 0h1m10 0h1m-292 1h1m273 0h1m1 0h1m2 0h1m6 0h2m1 0h1m-292 1h1m1 0h1m1 0h1m2 0h2m1 0h1m267 0h1m2 0h2m3 0h1m1 0h1m2 0h1m3 0h2m-302 1h2m1 0h1m1 0h1m1 0h1m3 0h1m1 0h2m2 0h2m1 0h1m258 0h1m7 0h1m1 0h1m7 0h1m3 0h1m2 0h1m-302 1h1m3 0h2m4 0h1m1 0h1m267 0h2m1 0h1m4 0h1m1 0h1m1 0h1m1 0h1m2 0h1m-296 1h2m6 0h1m269 0h1m4 0h1m5 0h1m7 0h1m-296 1h1m2 0h1m2 0h2m272 0h1m9 0h1m1 0h1m-297 1h1m6 0h1m1 0h2m3 0h2m266 0h1m1 0h1m3 0h1m13 0h1m-305 1h1m10 0h1m3 0h1m265 0h2m3 0h1m1 0h1m8 0h1m4 0h1m-305 1h1m3 0h2m5 0h1m277 0h2m1 0h1m2 0h2m3 0h1m-302 1h1m7 0h1m3 0h1m2 0h1m275 0h1m1 0h1m1 0h2m1 0h1m-286 1h1m280 0h1m5 0h2m2 0h1m4 0h1m-310 1h1m12 0h1m1 0h1m3 0h1m270 0h1m9 0h1m2 0h1m7 0h1m-309 1h1m1 0h1m3 0h1m3 0h1m3 0h1m269 0h1m5 0h1m9 0h1m2 0h1m1 0h1m2 0h1m-311 1h1m7 0h1m6 0h1m268 0h1m7 0h1m2 0h1m10 0h1m-309 1h1m1 0h2m1 0h1m7 0h1m283 0h2m5 0h1m1 0h1m-307 1h1m1 0h1m4 0h1m7 0h2m2 0h1m-17 1h1m2 0h1m5 0h1m2 0h1m281 0h1m9 0h2m-309 1h1m2 0h2m1 0h2m4 0h2m5 0h1m278 0h1m1 0h1m10 0h2m3 0h1m-314 1h1m1 0h1m9 0h1m2 0h1m276 0h1m1 0h1m9 0h1m1 0h1m1 0h1m3 0h1m-311 1h1m6 0h1m3 0h1m284 0h1m6 0h1m5 0h1m-306 1h1m5 0h2m280 0h1m3 0h1m1 0h1m3 0h1m5 0h1m1 0h1m-312 1h1m6 0h1m5 0h1m275 0h1m3 0h1m2 0h1m4 0h1m1 0h2m5 0h1m-309 1h1m10 0h1m286 0h1m-299 1h1m1 0h1m6 0h2m282 0h1m3 0h1m1 0h1m1 0h1m6 0h3m-319 1h1m3 0h1m3 0h3m1 0h1m2 0h1m2 0h2m282 0h2m4 0h4m-308 1h1m14 0h1m1 0h1m279 0h1m7 0h2m1 0h1m2 0h1m3 0h4m-317 1h1m2 0h1m4 0h1m4 0h1m287 0h1m3 0h2m8 0h1m3 0h1m-323 1h2m10 0h1m3 0h2m289 0h1m1 0h1m4 0h1m-1 1h1m-314 1h1m6 0h3m289 0h1m8 0h2m4 0h1m-310 1h1m5 0h2m290 0h1m3 0h1m1 0h1m-311 1h4m11 0h1m289 0h1m3 0h1m3 0h1m4 0h1m2 0h1m-320 1h2m11 0h1m286 0h1m2 0h1m1 0h1m5 0h1m6 0h1m-320 1h1m1 0h1m6 0h1m4 0h1m1 0h1m290 0h1m2 0h2m8 0h1m-321 1h1m7 0h3m1 0h1m1 0h1m301 0h2m4 0h1m-317 1h1m7 0h1m285 0h1m6 0h3m2 0h1m-304 1h1m4 0h1m307 0h1m-319 1h2m8 0h1m312 0h1m-329 1h2m3 0h1m2 0h2m2 0h3m3 0h1m292 0h1m3 0h1m4 0h1m-321 1h1m11 0h2m295 0h1m4 0h2m3 0h2m-321 1h1m4 0h1m1 0h1m7 0h1m286 0h1m3 0h1m2 0h1m1 0h2m9 0h2m-316 1h1m1 0h1m4 0h2m293 0h2m-313 1h1m7 0h1m8 0h2m295 0h1m9 0h1m-321 1h1m9 0h1m291 0h1m4 0h1m1 0h1m1 0h1m1 0h1m3 0h2m-323 1h1m8 0h3m2 0h2m5 0h1m293 0h1m4 0h3m-306 1h1m2 0h1m285 0h1m2 0h1m1 0h1m3 0h2m5 0h1m-324 1h1m11 0h1m2 0h2m296 0h1m8 0h1m-321 1h1m7 0h1m308 0h1m1 0h1m-313 1h1m8 0h1m294 0h1m2 0h1m-306 1h1m1 0h1m1 0h2m293 0h1m1 0h1m1 0h1m1 0h1m3 0h1m-317 1h1m5 0h1m303 0h1m1 0h2m4 0h1m-318 1h1m2 0h1m3 0h1m3 0h2m290 0h1m18 0h1m-327 1h1m6 0h1m1 0h1m5 0h2m4 0h1m291 0h2m4 0h1m1 0h1m2 0h1m-319 1h1m7 0h1m296 0h1m2 0h3m1 0h1m2 0h1m1 0h1m-321 1h1m3 0h1m1 0h1m6 0h1m2 0h1m287 0h1m7 0h1m2 0h1m1 0h1m1 0h1m-318 1h1m1 0h1m2 0h1m2 0h2m296 0h1m2 0h1m3 0h1m-318 1h1m6 0h1m3 0h1m2 0h1m291 0h1m4 0h1m3 0h2m7 0h1m3 0h1m-324 1h1m1 0h1m297 0h1m10 0h1m1 0h2m-317 1h1m1 0h1m2 0h1m5 0h1m3 0h2m292 0h1m1 0h2m6 0h1m-317 1h1m4 0h3m298 0h1m8 0h1m4 0h1m-321 1h1m7 0h1m298 0h1m4 0h1m1 0h1m-317 1h1m305 0h2m1 0h1m5 0h1m2 0h2m-320 1h1m3 0h1m300 0h1m3 0h1m1 0h1m5 0h1m-319 1h1m1 0h1m8 0h2m4 0h1m302 0h1m-321 1h1m1 0h1m2 0h1m297 0h1m2 0h1m9 0h1m3 0h2m-322 1h3m2 0h1m3 0h1m2 0h2m293 0h1m4 0h1m10 0h1m-323 1h1m7 0h1m1 0h1m305 0h1m3 0h1m-317 1h1m3 0h1m2 0h1m300 0h1m2 0h2m-313 1h1m2 0h1m3 0h1m2 0h1m298 0h1m4 0h1m-320 1h2m1 0h4m1 0h1m4 0h1m301 0h1m3 0h2m-322 1h1m14 0h1m284 0h1m17 0h2m1 0h1m-319 1h1m3 0h1m3 0h1m4 0h1m1 0h1m290 0h3m9 0h1m-317 1h1m6 0h1m2 0h1m291 0h1m11 0h1m7 0h1m-326 1h1m1 0h1m2 0h1m2 0h2m2 0h1m298 0h1m1 0h1m4 0h2m-320 1h1m5 0h1m1 0h1m2 1h1m298 0h1m2 0h1m1 0h1m3 0h1m-322 1h2m9 0h2m300 0h2m7 0h1m3 0h1m-327 1h1m6 0h1m2 0h1m297 0h1m3 0h1m2 0h2m2 0h1m3 0h1m-321 1h1m12 0h1m293 0h1m3 0h1m1 0h1m2 0h1m1 0h1m2 0h1m-322 1h2m1 0h1m4 0h1m-8 1h1m5 0h1m1 0h2m298 0h1m2 0h1m1 0h1m1 0h2m4 0h1m-327 1h1m1 0h1m10 0h1m296 0h1m1 0h3m1 0h1m1 0h1m-309 1h1m1 0h1m300 0h1m3 0h1m-319 1h1m4 0h1m8 0h1m297 0h1m3 0h1m4 0h2m3 0h1m1 0h1m-324 1h1m5 0h1m6 0h1m289 0h1m7 0h1m3 0h1m2 0h1m-316 1h1m5 0h1m3 0h1m296 0h2m4 0h1m-319 1h1m7 0h2m4 0h1m298 0h1m1 0h1m1 0h1m2 0h1m1 0h1m-318 1h1m1 0h1m1 0h4m296 0h1m1 0h1m10 0h1m-323 1h1m7 0h1m2 0h3m295 0h2m-315 1h1m6 0h4m5 0h1m3 0h1m297 0h1m1 0h1m1 0h2m2 0h1m-325 1h3m2 0h1m5 0h1m1 0h1m2 0h1m295 0h1m7 0h1m-314 1h1m2 0h1m3 0h1m2 0h1m297 0h3m1 0h3m-9 1h2m7 0h1m-320 1h1m1 0h1m3 0h1m3 0h3m1 0h1m294 0h1m2 0h1m9 0h1m-320 1h1m305 0h1m9 0h2m1 0h1m-18 1h1m3 0h1m1 0h1m9 0h1m-324 1h1m4 0h1m1 0h1m2 0h1m3 0h1m296 0h1m3 0h1m3 0h1m-321 1h2m4 0h1m4 0h2m1 0h1m296 0h1m4 0h1m2 0h1m2 0h1m-315 1h1m1 0h1m307 0h1m1 0h2m1 0h1m-324 1h1m3 0h1m9 0h1m296 0h1m4 0h1m2 0h1m1 0h2m-314 1h2m301 0h1m3 0h1m4 0h2m4 0h1m-328 1h1m5 0h1m1 0h2m302 0h2m1 0h1m2 0h1m1 0h1m6 0h1m-326 1h5m6 0h2m298 0h1m-309 1h1m5 0h1m1 0h1m1 0h1m301 0h1m-316 1h1m2 0h1m2 0h1m2 0h1m1 0h1m294 0h1m5 0h1m1 0h1m1 0h2m5 0h1m-322 1h1m4 0h1m1 0h1m6 0h1m295 0h1m12 0h1m6 0h1m-332 1h1m5 0h1m1 0h1m11 0h1m287 0h1m5 0h1m4 0h1m-320 1h2m10 0h1m296 0h1m4 0h2m-313 1h1m3 0h1m1 0h3m289 0h1m10 0h1m4 0h1m2 0h1m-321 1h1m1 0h1m3 0h2m302 0h1m7 0h1m-319 1h1m1 0h3m7 0h1m289 0h1m8 0h1m3 0h1m3 0h1m-312 1h2m1 0h1m1 0h1m300 0h1m1 0h2m-317 1h3m8 0h1m2 0h1m291 0h1m2 0h2m6 0h1m1 0h1m-322 1h1m1 0h1m5 0h1m5 0h1m3 0h1m288 0h1m7 0h1m9 0h1m-321 1h1m314 0h1m-316 1h2m6 0h1m295 0h1m4 0h2m5 0h1m1 0h4m-322 1h2m295 0h1m2 0h1m5 0h2m2 0h1m13 0h1m-320 1h1m2 0h2m2 0h1m291 0h2m5 0h1m4 0h2m1 0h1m-319 1h6m2 0h2m290 0h1m16 0h1m-322 1h2m2 0h1m299 0h1m2 0h2m3 0h3m7 0h1m-331 1h1m7 0h1m1 0h1m8 0h4m293 0h2m4 0h1m-314 1h1m4 0h2m3 0h1m297 0h1m6 0h1m2 0h1m-318 1h1m1 0h1m7 0h4m288 0h1m1 0h1m4 0h1m1 0h1m3 0h1m-311 1h1m298 0h1m3 0h1m6 0h1m1 0h1m2 0h1m-317 1h1m3 0h1m297 0h1m1 0h2m3 0h1m3 0h2m1 0h1m-314 1h1m8 0h2m293 0h1m1 0h3m1 0h1m1 0h1m-319 1h1m7 0h2m297 0h1m3 0h1m9 0h2m1 0h2m-325 1h1m4 0h1m2 0h2m1 0h1m289 0h1m6 0h1m2 0h1m2 0h1m6 0h1m-317 1h1m1 0h1m5 0h1m287 0h1m3 0h1m1 0h1m9 0h2m-320 1h1m7 0h2m5 0h1m298 0h1m4 0h1m-317 1h1m299 0h1m2 0h1m2 0h1m-300 1h1m293 0h1m12 0h1m-317 1h1m7 0h1m2 0h1m290 0h1m6 0h1m2 0h1m8 0h1m-325 1h1m5 0h1m3 0h1m295 0h1m5 0h1m1 0h1m2 0h1m3 0h1m-322 1h1m2 0h1m6 0h1m2 0h2m2 0h1m284 0h1m3 0h1m1 0h2m2 0h1m12 0h1m-325 1h1m4 0h1m5 0h3m293 0h1m11 0h2m1 0h3m-326 1h1m2 0h1m4 0h1m5 0h1m292 0h1m3 0h1m2 0h1m5 0h1m-312 1h1m1 0h1m3 0h2m291 0h1m1 0h1m3 0h1m8 0h1m1 0h1m-323 1h2m5 0h1m4 0h3m293 0h1m3 0h1m3 0h1m-312 1h1m297 0h1m2 0h1m4 0h2m3 0h3m1 0h1m-317 1h1m5 0h1m2 0h1m3 0h1m288 0h1m2 0h2m1 0h1m2 0h5m2 0h1m-323 1h1m7 0h1m291 0h1m7 0h1m7 0h1m4 0h1m-315 1h1m4 0h1m5 0h1m280 0h1m9 0h1m3 0h2m4 0h1m-316 1h1m7 0h1m293 0h2m3 0h1m1 0h1m1 0h1m1 0h1m-320 1h1m5 0h2m6 0h2m1 0h1m294 0h2m7 0h1m-321 1h1m4 0h2m4 0h1m8 0h1m283 0h1m7 0h1m7 0h1m-318 1h1m5 0h1m1 0h1m2 0h1m1 0h1m1 0h1m296 0h1m4 0h2m3 0h1m-325 1h1m1 0h2m4 0h2m2 0h1m295 0h1m3 0h1m-311 1h1m3 0h1m5 0h1m2 0h2m7 0h1m280 0h1m2 0h1m2 0h1m2 0h1m2 0h2m4 0h1m-320 1h1m1 0h1m1 0h1m3 0h2m2 0h1m284 0h1m2 0h1m9 0h1m2 0h1m2 0h1m-317 1h1m296 0h2m4 0h1m6 0h2m2 0h1m-314 1h1m1 0h1m3 0h2m2 0h1m3 0h1m283 0h1m1 0h1m2 0h1m3 0h1m1 0h1m4 0h2m-309 1h1m3 0h1m2 0h1m4 0h1m279 0h1m8 0h1m-312 1h1m3 0h2m4 0h1m302 0h1m1 0h4m-312 1h1m7 0h2m283 0h1m2 0h1m3 0h1m2 0h2m4 0h1m2 0h1m-303 1h1m1 0h1m275 0h1m5 0h1m3 0h3m5 0h2m-313 1h1m2 0h2m2 0h1m6 0h2m3 0h1m275 0h1m5 0h3m3 0h1m8 0h1m-309 1h1m1 0h1m6 0h1m283 0h1m10 0h1m3 0h1m-310 1h1m2 0h2m3 0h1m1 0h1m289 0h1m3 0h2m-299 1h2m282 0h1m2 0h3m4 0h3m7 0h1m-310 1h4m1 0h1m8 0h1m276 0h1m9 0h2m2 0h1m-316 1h1m2 0h3m10 0h1m277 0h1m9 0h1m1 0h1m7 0h1m-295 1h1m282 0h2m1 0h1m1 0h3m3 0h1m-308 1h1m1 0h1m5 0h1m289 0h1m5 0h1m6 0h1m-312 1h1m8 0h1m3 0h1m1 0h1m276 0h1m-290 1h1m1 0h1m3 0h2m298 0h1m-312 1h3m4 0h1m1 0h1m4 0h1m4 0h1m279 0h5m4 0h1m-316 1h1m12 0h1m1 0h1m9 0h1m4 0h1m265 0h1m1 0h1m9 0h1m-302 1h3m5 0h2m4 0h1m274 0h1m4 0h1m3 0h1m1 0h2m-291 1h1m2 0h1m270 0h1m5 0h1m6 0h1m1 0h1m8 0h1m4 0h1m-313 1h1m3 0h1m3 0h2m3 0h2m276 0h1m1 0h1m2 0h1m7 0h1m-306 1h1m2 0h2m1 0h1m6 0h1m269 0h1m1 0h1m5 0h1m3 0h1m1 0h2m7 0h1m-307 1h1m15 0h1m273 0h2m3 0h1m-290 1h3m7 0h2m268 0h3m3 0h1m7 0h1m5 0h1m-304 1h2m1 0h1m1 0h2m277 0h1m1 0h1m2 0h1m5 0h1m6 0h2m3 0h1m-307 1h1m7 0h1m2 0h3m1 0h1m273 0h1m4 0h1m1 0h1m1 0h2m-304 1h1m4 0h1m2 0h3m1 0h2m2 0h2m275 0h1m2 0h3m1 0h1m2 0h1m5 0h1m-302 1h1m8 0h1m4 0h1m256 0h1m2 0h1m5 0h1m8 0h1m3 0h1m4 0h1m-310 1h1m2 0h1m5 0h1m6 0h1m2 0h1m265 0h1m17 0h1m1 0h1m1 0h2m-303 1h1m2 0h1m5 0h1m2 0h1m1 0h1m1 0h2m5 0h1m261 0h1m4 0h3m1 0h1m2 0h1m-295 1h1m4 0h2m2 0h2m2 0h1m1 0h1m3 0h1m254 0h2m1 0h1m5 0h1m3 0h2m1 0h1m1 0h1m-294 1h1m5 0h1m1 0h2m3 0h1m5 0h3m254 0h1m3 0h1m5 0h1m10 0h2m-296 1h1m2 0h1m3 0h2m1 0h1m3 0h1m250 0h1m4 0h1m4 0h1m8 0h2m-284 1h2m5 0h1m5 0h1m259 0h1m1 0h2m3 0h1m8 0h1m-295 1h1m2 0h1m4 0h2m2 0h1m3 0h1m2 0h1m255 0h1m1 0h1m1 0h1m2 0h1m4 0h2m-291 1h1m9 0h2m2 0h2m2 0h2m1 0h1m243 0h1m8 0h1m3 0h1m5 0h1m2 0h1m14 0h1m-297 1h1m1 0h2m8 0h2m243 0h1m4 0h1m7 0h1m1 0h1m3 0h1m9 0h1m6 0h1m-289 1h1m8 0h1m2 0h1m242 0h1m3 0h1m8 0h1m1 0h1m8 0h2m2 0h1m-292 1h1m19 0h1m249 0h2m10 0h2m5 0h1m8 0h1m-298 1h1m2 0h1m258 0h1m5 0h2m4 0h1m-274 1h1m5 0h1m3 0h1m1 0h2m3 0h1m1 0h1m236 0h1m4 0h2m2 0h2m3 0h1m1 0h1m7 0h1m-277 1h1m5 0h1m3 0h2m260 0h1m1 0h1m2 0h1m4 0h1m-287 1h1m2 0h1m1 0h1m2 0h1m2 0h1m5 0h2m234 0h2m1 0h1m8 0h2m2 0h1m6 0h1m7 0h1m2 0h1m3 0h1m-282 1h1m1 0h2m3 0h3m1 0h1m222 0h1m8 0h1m18 0h1m2 0h1m12 0h1m-289 1h2m1 0h2m1 0h2m4 0h2m3 0h1m240 0h1m5 0h1m4 0h1m5 0h1m4 0h1m2 0h1m-279 1h2m7 0h2m240 0h1m2 0h1m7 0h1m13 0h1m8 0h1m-286 1h2m5 0h1m2 0h3m9 0h1m206 0h1m24 0h1m2 0h2m1 0h1m3 0h1m6 0h1m6 0h1m-282 1h2m2 0h1m4 0h1m6 0h1m4 0h2m3 0h1m222 0h1m1 0h1m3 0h1m10 0h2m6 0h1m2 0h2m6 0h1m-281 1h1m1 0h1m5 0h1m2 0h1m7 0h1m214 0h1m3 0h1m13 0h1m2 0h1m4 0h1m1 0h2m5 0h1m-274 1h2m1 0h1m5 0h1m2 0h1m8 0h2m1 0h1m1 0h1m215 0h1m3 0h2m4 0h1m8 0h2m7 0h1m5 0h1m-268 1h1m6 0h1m203 0h1m18 0h1m3 0h1m3 0h1m1 0h1m7 0h1m3 0h1m1 0h1m2 0h2m4 0h1m-269 1h1m3 0h4m3 0h1m1 0h2m2 0h1m4 0h1m2 0h1m190 0h1m34 0h1m2 0h1m3 0h1m1 0h1m6 0h1m-261 1h2m2 0h1m8 0h1m197 0h1m6 0h1m12 0h1m13 0h1m4 0h2m-260 1h1m2 0h2m2 0h1m1 0h1m3 0h1m5 0h1m2 0h2m194 0h1m10 0h1m1 0h2m17 0h1m1 0h1m5 0h1m-259 1h1m6 0h1m5 0h1m2 0h2m1 0h1m1 0h1m6 0h2m178 0h1m13 0h2m3 0h1m5 0h1m2 0h1m7 0h1m1 0h1m4 0h1m1 0h1m1 0h3m4 0h1m-263 1h1m15 0h1m203 0h1m11 0h1m3 0h1m1 0h1m10 0h1m5 0h1m-252 1h1m2 0h2m1 0h1m7 0h2m3 0h1m4 0h2m6 0h1m176 0h4m4 0h2m11 0h1m1 0h1m6 0h1m-232 1h1m1 0h1m4 0h2m3 0h1m9 0h2m153 0h1m20 0h2m13 0h2m8 0h2m4 0h1m1 0h3m2 0h1m11 0h1m-242 1h1m4 0h1m6 0h1m2 0h1m4 0h2m147 0h1m16 0h1m1 0h1m4 0h1m2 0h1m12 0h1m4 0h1m6 0h1m9 0h2m4 0h1m-247 1h1m6 0h2m4 0h1m157 0h1m6 0h1m25 0h2m4 0h1m14 0h1m1 0h1m1 0h1m3 0h1m1 0h1m1 0h2m4 0h1m1 0h1m4 0h1m2 0h1m-252 1h2m7 0h1m8 0h1m3 0h2m7 0h1m4 0h1m139 0h1m10 0h1m6 0h1m5 0h2m4 0h1m4 0h1m1 0h1m1 0h1m1 0h1m3 0h1m5 0h1m3 0h2m1 0h1m4 0h1m5 0h1m8 0h1m-264 1h1m18 0h1m5 0h1m7 0h2m4 0h1m4 0h1m3 0h1m149 0h1m14 0h1m3 0h1m2 0h3m6 0h1m2 0h1m6 0h2m1 0h1m9 0h1m2 0h1m-251 1h1m2 0h2m8 0h1m6 0h1m2 0h2m167 0h1m9 0h1m3 0h1m2 0h4m2 0h1m5 0h1m1 0h2m7 0h1m2 0h1m1 0h1m-240 1h1m1 0h2m6 0h1m8 0h1m9 0h1m1 0h1m5 0h1m120 0h1m11 0h1m1 0h1m14 0h1m6 0h1m3 0h2m6 0h1m1 0h1m2 0h2m9 0h1m8 0h1m-228 1h1m4 0h1m1 0h1m3 0h1m2 0h2m2 0h1m5 0h1m2 0h2m1 0h1m4 0h1m4 0h1m11 0h1m127 0h1m1 0h1m1 0h1m2 0h2m4 0h1m2 0h1m11 0h1m4 0h1m7 0h1m5 0h2m1 0h1m-226 1h1m4 0h1m9 0h1m1 0h1m3 0h2m4 0h1m4 0h1m139 0h1m15 0h2m2 0h1m10 0h1m4 0h2m11 0h1m16 0h1m-236 1h1m2 0h2m13 0h1m5 0h1m135 0h2m5 0h1m5 0h1m13 0h2m1 0h1m1 0h1m2 0h1m2 0h1m2 0h1m1 0h2m4 0h1m3 0h1m-226 1h1m17 0h2m2 0h1m2 0h1m1 0h1m5 0h1m4 0h1m3 0h1m119 0h1m3 0h1m8 0h2m2 0h1m9 0h1m3 0h1m2 0h1m2 0h1m4 0h1m15 0h1m2 0h2m14 0h1m-239 1h1m6 0h2m6 0h1m3 0h1m5 0h1m7 0h1m6 0h1m8 0h1m9 0h1m5 0h1m100 0h1m1 0h1m1 0h1m12 0h1m2 0h1m10 0h1m1 0h1m10 0h1m1 0h1m1 0h1m8 0h1m2 0h2m-212 1h2m3 0h1m2 0h1m8 0h1m4 0h1m1 0h1m4 0h1m5 0h1m9 0h1m94 0h2m10 0h3m1 0h1m7 0h1m8 0h1m2 0h1m18 0h1m8 0h1m15 0h1m-224 1h1m7 0h1m7 0h2m4 0h2m1 0h1m9 0h1m1 0h1m4 0h1m7 0h1m90 0h1m5 0h3m3 0h2m3 0h2m3 0h2m2 0h1m3 0h1m2 0h1m1 0h2m8 0h1m-196 1h1m10 0h1m4 0h1m11 0h1m1 0h1m8 0h1m5 0h2m7 0h1m22 0h1m50 0h1m14 0h1m5 0h1m8 0h1m5 0h1m14 0h1m4 0h1m1 0h2m1 0h1m12 0h1m6 0h1m2 0h1m11 0h1m-213 1h1m6 0h1m6 0h2m12 0h1m2 0h2m1 0h2m6 0h1m13 0h1m74 0h1m9 0h1m1 0h1m6 0h1m1 0h1m1 0h1m10 0h1m3 0h1m2 0h1m4 0h1m5 0h1m1 0h2m10 0h1m6 0h1m2 0h1m-218 1h1m15 0h1m4 0h1m1 0h1m1 0h1m4 0h2m3 0h1m3 0h1m2 0h1m3 0h1m10 0h1m1 0h1m7 0h1m13 0h1m46 0h1m19 0h1m2 0h1m5 0h1m2 0h1m7 0h1m7 0h2m7 0h1m3 0h1m4 0h1m4 0h1m4 0h1m-193 1h2m9 0h2m10 0h2m2 0h1m1 0h2m2 0h1m4 0h1m18 0h1m14 0h1m18 0h1m29 0h1m7 0h2m4 0h1m11 0h2m2 0h1m2 0h1m11 0h1m3 0h1m9 0h2m1 0h1m3 0h1m1 0h1m-183 1h1m1 0h2m1 0h1m4 0h1m2 0h1m2 0h3m16 0h1m4 0h1m2 0h1m4 0h1m4 0h1m10 0h1m49 0h1m12 0h1m7 0h5m2 0h1m4 0h3m7 0h2m10 0h1m3 0h1m-168 1h1m41 0h1m4 0h1m2 0h1m2 0h1m13 0h1m8 0h2m2 0h1m7 0h1m14 0h1m9 0h1m2 0h1m6 0h1m3 0h1m7 0h1m2 0h1m15 0h1m1 0h1m1 0h1m1 0h1m3 0h1m2 0h2m4 0h1m-184 1h1m1 0h1m4 0h1m3 0h1m2 0h1m2 0h3m2 0h1m1 0h1m11 0h1m16 0h2m10 0h1m14 0h1m3 0h1m36 0h1m1 0h1m7 0h1m6 0h1m5 0h1m5 0h1m2 0h1m8 0h1m2 0h1m7 0h1m1 0h1m3 0h2m1 0h1m-175 1h3m1 0h1m5 0h1m7 0h1m4 0h1m1 0h1m5 0h1m6 0h1m15 0h1m1 0h1m1 0h1m3 0h1m2 0h2m4 0h1m1 0h1m5 0h2m15 0h1m5 0h1m1 0h2m5 0h2m3 0h1m1 0h3m2 0h1m3 0h1m3 0h1m1 0h2m4 0h1m10 0h1m9 0h1m-159 1h1m2 0h1m5 0h1m1 0h1m1 0h2m1 0h2m1 0h2m7 0h3m1 0h1m2 0h1m6 0h1m3 0h1m5 0h1m9 0h2m2 0h3m6 0h1m6 0h1m24 0h2m6 0h1m4 0h1m6 0h1m3 0h1m13 0h1m3 0h1m-144 1h1m2 0h1m1 0h1m12 0h3m9 0h1m11 0h1m2 0h1m4 0h1m1 0h1m2 0h1m22 0h1m11 0h1m1 0h1m3 0h1m12 0h2m1 0h2m4 0h1m4 0h1m9 0h1m2 0h1m2 0h1m8 0h1m-142 1h2m12 0h2m1 0h2m5 0h2m1 0h1m6 0h2m5 0h2m1 0h1m6 0h1m7 0h1m2 0h3m2 0h1m1 0h1m6 0h1m3 0h1m11 0h1m5 0h1m7 0h1m3 0h1m4 0h2m7 0h3m1 0h1m5 0h2m10 0h1m2 0h1m-166 1h1m15 0h1m2 0h1m2 0h1m4 0h1m8 0h1m2 0h1m1 0h1m7 0h1m2 0h5m6 0h1m16 0h1m2 0h2m2 0h1m3 0h1m7 0h1m2 0h1m1 0h1m9 0h1m1 0h1m2 0h1m2 0h1m2 0h1m6 0h1m1 0h1m7 0h1m1 0h4m-140 1h1m15 0h1m2 0h1m5 0h1m2 0h1m2 0h1m4 0h1m2 0h2m5 0h1m3 0h1m11 0h1m3 0h1m1 0h1m2 0h2m3 0h1m5 0h1m2 0h1m8 0h1m2 0h3m6 0h1m2 0h1m7 0h1m3 0h1m2 0h1m16 0h1m19 0h1m-153 1h1m7 0h1m7 0h1m8 0h2m6 0h1m11 0h1m1 0h1m3 0h1m9 0h3m10 0h1m13 0h2m11 0h1m2 0h1m1 0h2m7 0h1m1 0h1m22 0h1m-147 1h1m6 0h1m5 0h1m2 0h1m4 0h1m1 0h1m2 0h1m4 0h2m11 0h1m5 0h1m6 0h1m4 0h1m10 0h1m1 0h1m2 0h3m2 0h1m2 0h1m2 0h2m5 0h1m3 0h1m4 0h1m19 0h2m-127 1h2m3 0h1m17 0h1m2 0h1m7 0h1m11 0h2m4 0h1m3 0h1m4 0h1m21 0h1m5 0h1m11 0h1m4 0h1m1 0h2m3 0h1m1 0h1m3 0h1m5 0h1m2 0h1m9 0h1m-136 1h1m13 0h1m1 0h1m1 0h1m11 0h1m7 0h1m1 0h1m2 0h1m4 0h1m16 0h1m2 0h1m7 0h2m7 0h2m1 0h1m5 0h1m5 0h1m5 0h1m1 0h1m-97 1h1m8 0h3m6 0h1m10 0h1m10 0h1m2 0h1m8 0h1m17 0h1m7 0h1m4 0h1m6 0h1m10 0h1m1 0h1m14 0h1m-122 1h1m2 0h1m4 0h1m10 0h1m2 0h2m6 0h1m1 0h1m2 0h1m2 0h1m9 0h1m4 0h1m9 0h1m4 0h1m2 0h1m1 0h1m4 0h1m4 0h1m7 0h1m20 0h1m2 0h1m-112 1h1m3 0h1m6 0h1m3 0h1m2 0h1m5 0h1m10 0h2m5 0h1m6 0h1m2 0h1m3 0h1m2 0h1m6 0h1m17 0h1m4 0h1m9 0h1m-91 1h1m8 0h1m13 0h1m1 0h1m2 0h1m1 0h1m3 0h1m4 0h3m5 0h1m9 0h1m4 0h1m6 0h1m4 0h1m2 0h1m4 0h1m7 0h1m-84 1h1m9 0h3m7 0h1m1 0h2m2 0h1m4 0h1m3 0h1m10 0h1m6 0h1m3 0h1m1 0h1m8 0h2m4 0h1m-89 1h1m7 0h1m7 0h2m11 0h1m5 0h1m2 0h1m5 0h2m1 0h1m1 0h1m1 0h1m4 0h1m3 0h1m9 0h1m10 0h1m-86 1h1m21 0h1m4 0h1m2 0h1m2 0h2m9 0h2m26 0h1m2 0h3m4 0h2m7 0h1m3 0h1m-57 1h1m5 0h2m3 0h1m3 0h3m2 0h1m5 0h2m2 0h1m2 0h1m18 0h1m5 0h1m-38 1h1m20 0h1m-60 1h1m16 0h2m26 0h2m9 0h1m-31 1h1m3 0h1m1 0h1m21 0h1m-18 1h1"/><path stroke="#34f034" d="M0 .5m216 553h1m44 0h1m13 1h1m-69 1h1m37 0h1m17 0h1m2 0h1m11 0h1m-80 1h1m4 0h1m12 0h1m9 0h1m17 0h1m3 0h1m1 0h1m1 0h1m1 0h1m1 0h1m1 0h1m6 0h1m12 0h1m7 0h1m4 0h1m-85 1h1m7 0h1m13 0h1m4 0h1m5 0h3m6 0h1m4 0h1m9 0h1m6 0h1m-55 1h1m6 0h1m3 0h1m2 0h1m3 0h1m4 0h1m1 0h1m4 0h4m3 0h1m3 0h1m2 0h1m6 0h1m2 0h1m2 0h1m3 0h3m4 0h1m14 0h1m-95 1h1m4 0h1m1 0h1m2 0h1m14 0h2m1 0h3m3 0h1m1 0h2m2 0h2m1 0h1m1 0h1m4 0h1m8 0h2m4 0h1m1 0h2m2 0h2m14 0h2m-106 1h1m6 0h1m7 0h1m1 0h3m5 0h3m5 0h1m4 0h2m2 0h1m6 0h2m1 0h4m1 0h2m3 0h1m3 0h1m4 0h2m2 0h1m3 0h1m3 0h1m1 0h3m1 0h1m1 0h1m3 0h1m3 0h2m-155 1h1m51 0h1m2 0h1m5 0h1m3 0h1m7 0h2m3 0h2m2 0h2m5 0h1m2 0h1m2 0h1m4 0h1m3 0h1m2 0h1m3 0h1m1 0h1m2 0h2m5 0h5m2 0h1m1 0h1m8 0h1m1 0h3m1 0h3m3 0h1m11 0h2m-134 1h1m4 0h1m2 0h2m10 0h1m8 0h2m1 0h1m4 0h1m8 0h1m1 0h1m2 0h1m5 0h2m4 0h1m1 0h4m10 0h1m2 0h2m2 0h2m8 0h1m1 0h3m3 0h1m1 0h1m4 0h1m1 0h5m1 0h1m4 0h1m3 0h1m6 0h1m-135 1h3m1 0h1m3 0h1m14 0h3m1 0h1m5 0h1m7 0h1m1 0h2m1 0h1m2 0h1m2 0h2m3 0h1m8 0h3m1 0h1m2 0h1m1 0h1m1 0h1m3 0h1m1 0h1m4 0h1m3 0h1m3 0h2m3 0h1m2 0h1m2 0h4m6 0h1m1 0h1m1 0h5m2 0h1m3 0h1m2 0h1m2 0h1m1 0h1m-163 1h1m10 0h1m5 0h1m7 0h1m24 0h1m4 0h1m10 0h1m1 0h2m1 0h1m1 0h1m1 0h1m2 0h1m1 0h1m1 0h1m1 0h1m2 0h1m2 0h2m4 0h1m5 0h1m2 0h1m1 0h1m3 0h1m3 0h2m2 0h1m2 0h1m5 0h1m2 0h1m7 0h1m1 0h3m3 0h1m1 0h2m1 0h4m2 0h3m2 0h1m7 0h1m-169 1h2m2 0h1m4 0h1m21 0h1m1 0h1m1 0h1m4 0h1m2 0h1m6 0h1m12 0h1m1 0h2m3 0h2m3 0h1m10 0h1m5 0h1m2 0h1m6 0h1m2 0h1m9 0h1m1 0h2m3 0h2m5 0h3m1 0h1m2 0h1m2 0h1m2 0h2m2 0h1m4 0h2m1 0h1m1 0h1m2 0h1m-193 1h1m11 0h1m10 0h1m7 0h1m3 0h3m6 0h1m13 0h1m2 0h1m5 0h1m1 0h1m5 0h1m5 0h1m17 0h2m4 0h1m14 0h2m1 0h1m1 0h1m17 0h1m4 0h1m8 0h2m2 0h1m6 0h1m3 0h2m3 0h3m1 0h3m3 0h2m2 0h2m2 0h3m3 0h1m-195 1h1m12 0h1m4 0h2m1 0h1m1 0h1m2 0h1m5 0h1m6 0h1m5 0h1m5 0h1m2 0h1m9 0h2m1 0h2m16 0h1m4 0h1m2 0h1m6 0h1m4 0h1m5 0h2m34 0h1m1 0h1m4 0h2m1 0h1m4 0h1m1 0h1m2 0h3m3 0h1m2 0h2m5 0h1m1 0h1m6 0h1m-195 1h1m3 0h1m2 0h1m8 0h1m5 0h1m3 0h2m8 0h1m1 0h2m1 0h2m3 0h1m2 0h1m1 0h2m4 0h1m2 0h2m3 0h1m3 0h1m1 0h1m1 0h1m1 0h1m7 0h1m2 0h1m25 0h1m14 0h1m9 0h1m17 0h1m12 0h1m1 0h5m2 0h3m7 0h2m1 0h2m4 0h1m1 0h1m-197 1h1m6 0h1m4 0h1m1 0h1m4 0h1m9 0h1m1 0h1m3 0h2m1 0h2m5 0h1m7 0h1m6 0h1m1 0h1m11 0h1m1 0h1m3 0h1m2 0h1m66 0h1m2 0h1m3 0h1m12 0h1m8 0h2m1 0h1m2 0h2m1 0h3m1 0h1m1 0h2m-204 1h1m4 0h1m1 0h1m3 0h1m1 0h1m5 0h1m2 0h1m3 0h1m1 0h2m1 0h1m3 0h3m11 0h2m9 0h1m3 0h2m1 0h1m2 0h1m10 0h1m4 0h1m2 0h1m7 0h1m69 0h1m15 0h2m2 0h3m2 0h2m5 0h3m1 0h2m2 0h1m1 0h1m-223 1h1m8 0h2m3 0h1m16 0h1m5 0h1m18 0h2m6 0h3m3 0h1m1 0h1m6 0h1m1 0h2m18 0h1m20 0h1m69 0h1m2 0h1m1 0h1m2 0h3m1 0h1m2 0h2m3 0h4m5 0h1m1 0h1m-232 1h1m6 0h1m9 0h1m7 0h1m6 0h1m1 0h1m2 0h1m5 0h1m1 0h1m2 0h2m11 0h1m9 0h1m14 0h1m2 0h1m7 0h1m14 0h1m90 0h1m1 0h1m2 0h2m1 0h1m2 0h1m15 0h2m6 0h1m-235 1h2m3 0h1m4 0h1m4 0h1m1 0h2m1 0h1m3 0h1m5 0h1m1 0h1m1 0h1m4 0h1m3 0h3m3 0h1m5 0h1m4 0h2m6 0h1m1 0h1m2 0h1m6 0h1m116 0h1m3 0h1m3 0h1m2 0h2m5 0h3m1 0h1m2 0h1m4 0h1m-233 1h1m11 0h2m1 0h1m5 0h2m1 0h1m1 0h1m2 0h1m5 0h3m1 0h1m2 0h1m2 0h1m4 0h1m1 0h1m5 0h1m2 0h2m10 0h1m20 0h1m117 0h1m3 0h2m1 0h1m4 0h2m1 0h1m5 0h1m6 0h1m-252 1h1m8 0h1m6 0h1m2 0h2m1 0h1m2 0h2m7 0h1m5 0h1m3 0h1m7 0h1m4 0h1m1 0h3m1 0h1m4 0h2m12 0h1m147 0h1m1 0h1m1 0h2m1 0h1m1 0h1m1 0h1m1 0h1m6 0h1m-241 1h1m10 0h1m4 0h1m5 0h3m6 0h1m3 0h1m1 0h1m7 0h1m6 0h1m1 0h2m4 0h1m23 0h1m132 0h1m1 0h1m5 0h1m2 0h1m3 0h1m8 0h1m-250 1h1m2 0h1m4 0h1m4 0h1m2 0h1m1 0h1m4 0h2m1 0h3m2 0h3m2 0h1m5 0h1m2 0h1m2 0h1m1 0h1m4 0h1m4 0h1m5 0h2m18 0h1m8 0h1m131 0h1m7 0h1m5 0h3m1 0h1m5 0h1m-241 1h2m3 0h1m5 0h1m2 0h1m1 0h1m3 0h3m4 0h1m3 0h1m3 0h1m1 0h3m2 0h1m1 0h2m8 0h1m7 0h1m12 0h1m144 0h1m12 0h1m4 0h1m-247 1h1m1 0h1m3 0h2m6 0h1m10 0h1m1 0h1m2 0h3m4 0h3m5 0h1m4 0h1m1 0h1m5 0h1m1 0h2m165 0h1m3 0h3m2 0h1m5 0h1m3 0h1m2 0h1m-250 1h1m2 0h1m6 0h1m1 0h4m3 0h1m7 0h1m2 0h1m3 0h1m41 0h1m159 0h1m2 0h1m1 0h2m1 0h2m1 0h2m-252 1h1m3 0h2m2 0h2m2 0h1m1 0h1m2 0h1m2 0h1m3 0h2m1 0h1m3 0h1m11 0h1m195 0h5m2 0h2m1 0h1m2 0h2m-258 1h1m1 0h1m6 0h1m1 0h2m8 0h1m3 0h1m1 0h1m1 0h1m6 0h1m5 0h1m2 0h1m2 0h1m1 0h1m191 0h1m2 0h1m2 0h1m4 0h2m-251 1h1m5 0h2m6 0h3m7 0h2m9 0h1m208 0h2m2 0h1m1 0h1m-260 1h1m15 0h3m1 0h1m2 0h1m5 0h1m4 0h1m4 0h1m211 0h2m8 0h1m1 0h1m-264 1h5m4 0h1m3 0h2m1 0h1m4 0h2m2 0h2m3 0h1m1 0h1m4 0h1m17 0h1m195 0h2m2 0h1m2 0h1m2 0h1m5 0h1m-270 1h1m4 0h1m2 0h1m3 0h1m1 0h2m2 0h1m1 0h1m3 0h1m1 0h1m3 0h1m2 0h1m2 0h1m7 0h1m211 0h1m2 0h1m3 0h1m-263 1h1m4 0h1m2 0h1m4 0h1m2 0h2m1 0h3m5 0h2m1 0h1m217 0h1m3 0h1m3 0h1m4 0h2m3 0h1m-271 1h1m7 0h1m6 0h2m3 0h1m2 0h1m3 0h2m3 0h1m2 0h1m221 0h1m5 0h1m3 0h1m2 0h1m-271 1h1m4 0h1m3 0h1m3 0h1m1 0h2m3 0h1m2 0h1m6 0h1m229 0h1m8 0h2m1 0h1m-264 1h1m1 0h2m1 0h1m2 0h3m2 0h1m237 0h3m1 0h2m1 0h1m1 0h1m-264 1h1m1 0h2m1 0h1m1 0h2m1 0h1m11 0h1m4 0h1m226 0h1m1 0h1m2 0h3m3 0h1m2 0h2m-274 1h2m5 0h5m1 0h1m1 0h2m2 0h1m1 0h1m4 0h1m233 0h2m2 0h1m5 0h2m-272 1h1m3 0h2m1 0h1m5 0h2m1 0h3m3 0h3m232 0h3m8 0h1m3 0h1m1 0h1m-277 1h1m1 0h1m2 0h1m1 0h1m1 0h1m3 0h1m11 0h1m233 0h1m2 0h1m7 0h1m2 0h1m-274 1h1m1 0h1m2 0h2m1 0h3m2 0h2m6 0h1m237 0h2m3 0h1m3 0h1m1 0h3m-274 1h1m1 0h1m3 0h1m1 0h2m1 0h1m1 0h1m2 0h1m5 0h1m246 0h2m4 0h1m-274 1h3m2 0h1m4 0h1m252 0h2m3 0h3m-276 1h1m1 0h1m2 0h1m2 0h1m2 0h1m1 0h4m1 0h1m4 0h1m243 0h1m2 0h2m1 0h2m1 0h2m3 0h1m3 0h1m-283 1h1m1 0h3m1 0h2m3 0h1m2 0h1m1 0h1m252 0h2m1 0h1m1 0h2m1 0h1m2 0h1m-282 1h1m3 0h5m1 0h3m255 0h1m2 0h2m1 0h1m6 0h1m3 0h1m-284 1h1m4 0h1m1 0h1m5 0h1m256 0h1m9 0h1m1 0h1m-287 1h1m1 0h1m2 0h2m3 0h1m1 0h2m1 0h1m256 0h1m3 0h4m4 0h1m-285 1h2m2 0h3m2 0h1m1 0h3m1 0h1m2 0h1m254 0h1m2 0h1m1 0h2m5 0h1m-286 1h1m1 0h5m1 0h3m5 0h1m1 0h1m253 0h1m7 0h4m1 0h1m5 0h1m-289 1h1m3 0h2m262 0h2m5 0h2m2 0h1m5 0h1m2 0h1m-292 1h3m1 0h1m2 0h1m2 0h1m6 0h1m262 0h1m1 0h1m5 0h1m-291 1h1m3 0h2m4 0h1m1 0h1m1 0h1m258 0h2m2 0h1m1 0h1m2 0h2m1 0h5m-287 1h1m2 0h1m2 0h2m1 0h1m4 0h1m259 0h1m2 0h1m6 0h1m2 0h4m1 0h1m-292 1h1m1 0h1m1 0h3m1 0h1m4 0h1m261 0h1m2 0h2m2 0h5m4 0h1m-298 1h2m3 0h1m2 0h2m1 0h3m2 0h1m267 0h1m2 0h3m8 0h1m-296 1h1m2 0h1m1 0h1m1 0h1m5 0h3m263 0h1m1 0h1m9 0h2m-294 1h1m1 0h1m1 0h1m1 0h3m1 0h1m2 0h2m265 0h1m2 0h1m5 0h2m1 0h1m7 0h1m-298 1h1m5 0h1m269 0h1m3 0h1m1 0h1m4 0h1m1 0h1m1 0h1m1 0h1m-299 1h1m8 0h4m1 0h1m4 0h1m262 0h1m2 0h1m3 0h5m3 0h1m7 0h1m-298 1h2m2 0h1m2 0h2m268 0h1m4 0h1m4 0h2m-293 1h3m1 0h1m2 0h1m272 0h1m11 0h1m2 0h1m-300 1h1m1 0h1m1 0h2m1 0h2m1 0h2m276 0h1m1 0h1m2 0h1m1 0h3m1 0h1m-295 1h1m1 0h1m1 0h1m2 0h1m1 0h1m278 0h1m2 0h1m1 0h1m1 0h1m1 0h1m1 0h1m-304 1h3m3 0h2m2 0h2m3 0h1m275 0h1m5 0h2m2 0h1m-302 1h1m1 0h2m1 0h1m2 0h2m3 0h1m1 0h1m273 0h2m2 0h1m6 0h1m1 0h1m1 0h1m-307 1h1m1 0h1m1 0h2m1 0h1m3 0h1m1 0h1m1 0h1m278 0h1m1 0h1m7 0h1m-302 1h1m2 0h1m7 0h1m278 0h1m1 0h1m2 0h4m2 0h1m1 0h1m-300 1h1m1 0h1m1 0h2m3 0h1m276 0h1m5 0h2m4 0h1m5 0h1m-310 1h1m3 0h2m2 0h1m1 0h1m285 0h2m3 0h1m1 0h2m2 0h1m-306 1h1m1 0h3m1 0h2m281 0h1m4 0h6m1 0h1m1 0h1m-301 1h3m2 0h1m278 0h1m4 0h2m3 0h4m-299 1h2m1 0h1m4 0h1m279 0h1m10 0h1m2 0h1m-305 1h4m2 0h1m286 0h1m4 0h1m1 0h1m5 0h2m-308 1h2m1 0h1m292 0h2m1 0h2m-302 1h2m4 0h4m2 0h1m287 0h1m2 0h2m-305 1h1m1 0h1m1 0h2m3 0h1m286 0h1m1 0h2m4 0h2m4 0h1m-313 1h1m1 0h1m1 0h2m3 0h1m1 0h1m1 0h1m280 0h1m5 0h1m1 0h1m6 0h2m2 0h1m-304 1h1m290 0h1m1 0h1m1 0h2m1 0h3m3 0h1m-314 1h1m4 0h1m1 0h2m2 0h1m5 0h1m282 0h1m13 0h1m-315 1h5m1 0h1m1 0h3m288 0h1m1 0h1m5 0h2m1 0h1m-309 1h1m3 0h1m3 0h3m289 0h2m4 0h3m1 0h1m1 0h1m-316 1h2m1 0h3m1 0h3m1 0h1m1 0h1m281 0h1m6 0h1m1 0h1m1 0h1m1 0h2m1 0h1m3 0h1m-313 1h3m1 0h1m1 0h1m1 0h1m1 0h1m3 0h1m283 0h1m1 0h2m1 0h6m3 0h1m-312 1h2m299 0h2m-305 1h2m2 0h2m1 0h1m3 0h1m290 0h1m2 0h1m1 0h1m2 0h2m-312 1h1m3 0h1m2 0h4m1 0h1m284 0h1m8 0h1m1 0h1m4 0h1m-313 1h1m3 0h1m3 0h1m292 0h1m4 0h1m4 0h1m-315 1h1m5 0h1m306 0h1m1 0h2m-316 1h3m1 0h1m6 0h1m1 0h1m1 0h1m286 0h1m2 0h1m1 0h1m1 0h1m3 0h1m-311 1h1m2 0h2m1 0h1m3 0h1m290 0h1m3 0h2m1 0h1m2 0h1m-313 1h2m1 0h2m1 0h1m1 0h1m291 0h2m2 0h3m-304 1h1m2 0h1m2 0h1m294 0h4m3 0h1m-314 1h1m3 0h1m2 0h2m3 0h1m293 0h1m2 0h2m2 0h3m3 0h1m-320 1h3m1 0h3m1 0h1m296 0h1m1 0h1m13 0h1m-317 1h5m3 0h1m293 0h1m2 0h1m4 0h2m-319 1h1m4 0h2m3 0h2m301 0h2m1 0h5m-318 1h1m1 0h1m1 0h4m3 0h1m292 0h5m1 0h2m-314 1h1m1 0h1m3 0h1m2 0h2m1 0h1m292 0h1m3 0h1m3 0h1m1 0h1m1 0h1m2 0h1m-322 1h1m2 0h2m1 0h1m3 0h1m4 0h1m292 0h1m2 0h1m2 0h3m-313 1h1m1 0h6m2 0h1m293 0h1m3 0h1m4 0h2m-315 1h1m1 0h3m1 0h1m3 0h1m293 0h1m3 0h3m3 0h1m1 0h2m-321 1h1m1 0h1m4 0h3m4 0h2m289 0h1m4 0h1m10 0h2m-324 1h1m2 0h1m3 0h1m1 0h2m2 0h1m-14 1h1m2 0h4m2 0h1m295 0h1m2 0h1m1 0h1m3 0h2m2 0h1m1 0h1m-317 1h2m2 0h2m1 0h1m304 0h1m-317 1h1m3 0h1m2 0h1m305 0h1m6 0h1m-313 1h1m1 0h3m300 0h2m3 0h1m-314 1h1m1 0h5m1 0h2m296 0h1m5 0h1m2 0h1m-318 1h2m3 0h1m2 0h2m2 0h1m292 0h4m2 0h1m2 0h1m3 0h2m-321 1h1m7 0h1m2 0h1m296 0h1m3 0h1m-317 1h1m9 0h2m2 0h1m299 0h1m3 0h2m-318 1h1m8 0h1m2 0h2m294 0h1m7 0h1m2 0h2m4 0h1m-320 1h1m1 0h3m298 0h1m6 0h1m2 0h1m-311 1h1m305 0h3m3 0h2m-317 1h2m2 0h2m3 0h1m294 0h2m3 0h1m4 0h2m-317 1h1m1 0h4m1 0h1m301 0h1m1 0h1m3 0h1m-312 1h2m1 0h1m298 0h1m3 0h5m1 0h1m2 0h1m-322 1h1m3 0h2m1 0h1m299 0h2m1 0h1m1 0h4m1 0h1m4 0h1m-321 1h2m3 0h3m300 0h4m2 0h1m-315 1h2m1 0h3m309 0h1m3 0h1m1 0h1m-322 1h5m2 0h1m1 0h1m297 0h3m1 0h3m1 0h2m-314 1h3m2 0h1m295 0h1m3 0h1m3 0h1m3 0h1m1 0h2m-317 1h1m3 0h2m297 0h2m4 0h2m7 0h1m-316 1h3m294 0h1m4 0h1m2 0h1m2 0h2m-316 1h1m2 0h4m299 0h1m1 0h4m1 0h1m-312 1h1m1 0h3m297 0h1m3 0h4m1 0h4m3 0h1m-321 1h1m1 0h1m1 0h4m1 0h1m296 0h1m1 0h1m2 0h1m4 0h2m-314 1h2m304 0h1m1 0h3m4 0h1m-321 1h4m4 0h1m302 0h1m2 0h1m1 0h1m3 0h1m-320 1h1m1 0h5m3 0h1m292 0h1m-305 1h1m5 0h1m300 0h3m2 0h1m1 0h1m5 0h1m-319 1h1m8 0h1m302 0h1m2 0h2m-313 1h3m297 0h1m1 0h2m-313 1h1m6 0h3m302 0h1m1 0h1m1 0h1m1 0h1m4 0h1m-318 1h2m3 0h1m297 0h3m2 0h1m3 0h1m2 0h1m-319 1h3m1 0h1m7 0h1m298 0h1m1 0h1m2 0h1m1 0h3m-320 1h1m1 0h2m4 0h1m1 0h1m295 0h1m4 0h1m1 0h3m3 0h1m-320 1h8m296 0h1m3 0h1m2 0h1m2 0h1m-312 1h1m4 0h1m1 0h1m300 0h1m1 0h1m1 0h1m2 0h1m-318 1h1m1 0h3m3 0h1m297 0h1m3 0h2m3 0h2m-318 1h3m1 0h1m3 0h1m295 0h1m3 0h2m1 0h1m1 0h1m1 0h2m-319 1h4m3 0h1m304 0h2m1 0h1m4 0h1m-316 1h2m1 0h2m296 0h1m3 0h1m1 0h6m1 0h1m4 0h1m-319 1h3m1 0h1m297 0h1m5 0h1m-310 1h2m303 0h2m1 0h1m1 0h1m2 0h4m-316 1h1m1 0h1m1 0h1m1 0h1m292 0h1m3 0h1m1 0h1m3 0h1m-314 1h2m1 0h2m5 0h1m300 0h6m2 0h1m-319 1h3m1 0h2m4 0h1m294 0h1m1 0h1m2 0h1m1 0h1m2 0h3m-319 1h1m2 0h1m5 0h1m1 0h1m300 0h1m1 0h1m4 0h1m-320 1h1m6 0h1m3 0h2m297 0h1m2 0h2m3 0h1m3 0h1m-323 1h1m4 0h1m2 0h2m302 0h3m5 0h1m-319 1h4m299 0h1m3 0h2m7 0h1m3 0h1m-323 1h2m4 0h1m298 0h4m1 0h3m-313 1h1m1 0h2m3 0h1m300 0h2m3 0h1m1 0h1m2 0h1m-319 1h1m2 0h1m2 0h2m301 0h2m1 0h3m3 0h1m-317 1h1m2 0h1m1 0h2m1 0h1m295 0h1m5 0h1m-310 1h5m2 0h1m295 0h1m5 0h2m6 0h1m-319 1h2m7 0h1m295 0h3m1 0h1m1 0h3m-315 1h1m2 0h1m2 0h1m297 0h1m6 0h1m2 0h1m1 0h1m-315 1h1m3 0h3m300 0h1m1 0h2m2 0h2m1 0h1m-319 1h1m1 0h1m5 0h2m297 0h4m3 0h1m2 0h2m-317 1h1m1 0h2m2 0h1m295 0h1m4 0h1m7 0h1m-313 1h1m3 0h1m2 0h1m291 0h1m1 0h1m1 0h1m1 0h2m1 0h1m2 0h1m-321 1h1m3 0h1m5 0h2m300 0h4m-310 1h6m3 0h1m292 0h2m3 0h3m2 0h2m1 0h1m1 0h1m1 0h1m-325 1h1m4 0h1m1 0h1m2 0h1m296 0h1m1 0h1m1 0h1m3 0h1m3 0h1m1 0h1m-323 1h1m7 0h4m301 0h1m1 0h4m4 0h1m-313 1h1m297 0h1m1 0h1m1 0h1m3 0h1m1 0h1m2 0h1m-313 1h3m2 0h2m293 0h2m1 0h3m1 0h3m1 0h1m4 0h1m-317 1h1m5 0h1m294 0h1m4 0h1m3 0h1m-314 1h1m1 0h1m3 0h1m296 0h1m2 0h2m2 0h3m3 0h1m-319 1h3m1 0h1m1 0h2m304 0h4m4 0h1m-11 1h1m2 0h3m-312 1h2m1 0h1m299 0h1m4 0h1m1 0h3m-314 1h5m301 0h2m1 0h1m2 0h2m1 0h1m-320 1h1m2 0h1m4 0h1m1 0h2m293 0h1m2 0h2m1 0h3m1 0h2m1 0h2m1 0h1m1 0h1m-320 1h2m1 0h3m4 0h1m293 0h1m1 0h1m1 0h3m2 0h3m-322 1h1m7 0h1m1 0h3m298 0h1m1 0h3m2 0h1m2 0h1m-319 1h1m1 0h1m3 0h1m1 0h1m300 0h3m1 0h1m1 0h1m2 0h1m-321 1h1m5 0h1m2 0h2m1 0h2m291 0h1m5 0h1m5 0h1m-313 1h2m2 0h1m300 0h2m9 0h1m-318 1h3m3 0h1m2 0h1m298 0h1m2 0h1m4 0h1m-317 1h2m3 0h1m302 0h1m1 0h4m1 0h1m-15 1h4m3 0h1m1 0h2m2 0h3m-315 1h2m7 0h1m293 0h2m3 0h8m-318 1h1m1 0h2m8 0h1m3 0h1m286 0h1m5 0h5m2 0h1m-319 1h1m5 0h1m1 0h1m4 0h3m286 0h1m5 0h2m2 0h1m1 0h1m2 0h2m-313 1h1m2 0h2m1 0h1m1 0h1m298 0h2m1 0h1m4 0h1m-319 1h1m3 0h1m6 0h1m294 0h1m1 0h2m1 0h1m1 0h3m3 0h1m-323 1h1m4 0h3m7 0h1m284 0h1m9 0h1m1 0h1m1 0h1m1 0h1m-310 1h1m1 0h1m1 0h1m294 0h2m2 0h2m2 0h2m1 0h1m1 0h1m-321 1h1m5 0h2m4 0h2m2 0h1m293 0h2m2 0h1m1 0h2m2 0h1m-311 1h2m1 0h1m292 0h1m1 0h1m2 0h2m4 0h1m2 0h1m-316 1h2m1 0h2m2 0h3m294 0h3m3 0h1m1 0h1m-314 1h1m3 0h1m7 0h1m305 0h1m-320 1h1m2 0h2m5 0h1m297 0h4m-304 1h1m11 0h1m288 0h1m1 0h1m2 0h1m-315 1h1m3 0h1m2 0h1m1 0h1m298 0h1m2 0h1m3 0h1m-310 1h1m6 0h1m288 0h1m3 0h2m3 0h1m2 0h1m-310 1h1m1 0h2m290 0h1m8 0h1m2 0h2m1 0h1m1 0h1m-313 1h2m2 0h1m1 0h1m295 0h2m1 0h2m3 0h1m-309 1h1m2 0h1m3 0h1m290 0h3m1 0h2m4 0h4m-318 1h1m6 0h2m1 0h1m2 0h1m289 0h1m1 0h1m-300 1h1m6 0h2m290 0h2m1 0h1m3 0h1m1 0h1m-303 1h2m1 0h1m291 0h1m1 0h4m2 0h1m2 0h1m-312 1h1m8 0h1m3 0h1m284 0h2m1 0h3m3 0h1m-308 1h4m1 0h2m292 0h1m1 0h1m1 0h2m3 0h1m1 0h1m-306 1h5m284 0h3m1 0h1m2 0h2m1 0h3m-303 1h4m3 0h2m289 0h1m3 0h2m-305 1h1m1 0h2m3 0h1m285 0h2m4 0h2m1 0h2m-309 1h1m5 0h1m1 0h1m293 0h3m5 0h1m-308 1h1m1 0h1m4 0h1m1 0h1m3 0h2m280 0h1m2 0h3m2 0h1m2 0h1m2 0h1m-313 1h2m1 0h2m5 0h1m3 0h1m280 0h1m1 0h1m3 0h2m1 0h1m1 0h1m-305 1h4m1 0h4m6 0h1m284 0h1m6 0h3m2 0h1m-313 1h2m293 0h1m2 0h1m1 0h1m1 0h1m1 0h1m-299 1h1m2 0h2m1 0h1m292 0h1m2 0h1m-311 1h1m3 0h2m1 0h1m1 0h3m285 0h1m6 0h1m3 0h1m5 0h1m-314 1h1m8 0h1m2 0h1m289 0h5m2 0h1m-310 1h1m3 0h1m1 0h5m285 0h1m2 0h3m1 0h1m-299 1h1m4 0h2m280 0h1m1 0h1m1 0h1m1 0h1m7 0h1m-295 1h1m280 0h1m1 0h1m1 0h2m6 0h1m-302 1h1m1 0h1m1 0h1m1 0h2m2 0h1m3 0h1m274 0h1m1 0h1m2 0h1m5 0h2m2 0h1m-305 1h4m4 0h1m1 0h1m281 0h2m12 0h1m-304 1h1m5 0h1m2 0h1m273 0h1m6 0h1m2 0h1m1 0h1m2 0h1m-297 1h1m281 0h2m2 0h1m2 0h1m1 0h3m-302 1h1m5 0h1m3 0h2m1 0h1m3 0h1m276 0h2m1 0h1m2 0h3m1 0h1m1 0h1m-301 1h2m1 0h2m1 0h1m281 0h2m1 0h2m2 0h2m1 0h1m-300 1h1m9 0h1m276 0h1m1 0h3m6 0h1m-298 1h1m1 0h1m3 0h2m277 0h2m3 0h2m2 0h1m2 0h2m-302 1h1m2 0h1m3 0h3m280 0h1m2 0h2m2 0h1m-294 1h2m3 0h1m277 0h1m1 0h1m2 0h1m7 0h1m-300 1h1m3 0h1m3 0h1m1 0h2m1 0h1m4 0h1m263 0h1m1 0h1m2 0h1m4 0h2m1 0h1m1 0h1m-297 1h1m2 0h1m2 0h1m275 0h1m1 0h1m1 0h3m1 0h1m2 0h2m-281 1h1m2 0h2m256 0h1m7 0h1m1 0h1m2 0h1m5 0h1m2 0h1m1 0h1m-296 1h1m4 0h1m8 0h1m256 0h1m10 0h2m5 0h1m1 0h1m-294 1h2m2 0h1m4 0h1m1 0h1m262 0h1m5 0h1m1 0h2m9 0h2m-291 1h1m1 0h1m1 0h1m4 0h1m266 0h1m1 0h1m1 0h1m6 0h1m1 0h1m1 0h1m-286 1h1m3 0h1m257 0h2m4 0h1m2 0h1m1 0h1m3 0h2m-293 1h1m6 0h2m4 0h2m3 0h1m262 0h1m1 0h1m4 0h2m-290 1h1m13 0h1m2 0h1m5 0h1m244 0h1m5 0h1m11 0h1m2 0h1m1 0h5m-290 1h1m5 0h4m1 0h2m3 0h1m255 0h1m2 0h2m1 0h1m4 0h1m-273 1h1m1 0h1m6 0h1m247 0h1m8 0h3m2 0h1m4 0h1m-285 1h3m1 0h1m2 0h1m1 0h1m250 0h1m8 0h1m1 0h1m1 0h1m1 0h2m2 0h2m-280 1h1m3 0h1m1 0h5m244 0h1m6 0h1m2 0h4m3 0h4m5 0h2m-285 1h1m4 0h1m10 0h1m1 0h1m242 0h2m2 0h3m1 0h1m1 0h3m1 0h3m1 0h1m4 0h1m1 0h1m-286 1h1m13 0h1m245 0h1m1 0h2m2 0h3m2 0h1m5 0h1m1 0h1m-277 1h2m1 0h1m4 0h1m1 0h1m242 0h1m4 0h1m5 0h1m2 0h3m-261 1h1m235 0h1m7 0h1m1 0h1m3 0h1m2 0h1m1 0h2m1 0h2m1 0h3m3 0h1m-275 1h2m1 0h1m4 0h1m6 0h1m233 0h1m4 0h1m2 0h2m1 0h1m1 0h2m1 0h1m3 0h1m3 0h1m-279 1h1m4 0h3m5 0h1m241 0h1m3 0h2m2 0h1m2 0h2m3 0h1m2 0h2m-268 1h1m6 0h2m4 0h1m224 0h2m3 0h1m5 0h2m2 0h1m5 0h1m2 0h1m1 0h1m5 0h1m-267 1h3m1 0h1m230 0h1m4 0h2m2 0h2m1 0h3m5 0h1m-267 1h1m3 0h1m2 0h2m6 0h4m231 0h1m5 0h1m7 0h1m2 0h2m-266 1h1m6 0h1m1 0h1m3 0h3m231 0h1m1 0h4m1 0h3m4 0h1m2 0h1m-267 1h1m14 0h1m210 0h1m3 0h1m3 0h1m3 0h1m3 0h1m1 0h1m3 0h3m1 0h2m2 0h2m2 0h1m1 0h1m4 0h1m-256 1h1m8 0h2m206 0h1m5 0h2m1 0h2m3 0h1m3 0h1m2 0h2m2 0h2m1 0h1m3 0h1m3 0h1m-254 1h1m3 0h1m209 0h1m6 0h4m5 0h1m1 0h2m2 0h2m1 0h3m1 0h1m1 0h1m4 0h1m1 0h1m7 0h1m-266 1h1m3 0h1m4 0h2m3 0h1m204 0h2m3 0h1m5 0h3m6 0h1m3 0h1m5 0h2m6 0h1m1 0h1m-256 1h1m1 0h1m1 0h2m2 0h1m1 0h1m4 0h1m1 0h1m198 0h1m3 0h1m1 0h1m1 0h1m2 0h2m2 0h1m3 0h1m1 0h1m1 0h1m2 0h1m1 0h1m-243 1h4m3 0h1m10 0h1m190 0h1m4 0h1m4 0h1m7 0h1m1 0h2m5 0h1m1 0h1m2 0h2m6 0h1m-253 1h1m2 0h1m3 0h1m7 0h1m175 0h1m29 0h1m1 0h2m1 0h1m2 0h1m1 0h2m4 0h1m2 0h3m4 0h1m-251 1h2m2 0h1m6 0h1m5 0h1m4 0h1m191 0h1m8 0h1m1 0h1m2 0h1m11 0h1m3 0h1m1 0h1m-238 1h1m1 0h1m5 0h1m6 0h1m5 0h1m184 0h1m1 0h1m1 0h3m3 0h2m2 0h1m1 0h2m3 0h1m1 0h1m13 0h1m-252 1h1m4 0h1m14 0h1m9 0h1m180 0h2m4 0h1m2 0h1m1 0h2m2 0h2m1 0h1m-221 1h3m1 0h1m1 0h1m1 0h1m4 0h1m166 0h1m3 0h1m10 0h1m7 0h2m1 0h1m5 0h1m18 0h1m-238 1h1m4 0h1m4 0h2m3 0h1m4 0h3m166 0h1m4 0h1m10 0h1m3 0h1m6 0h1m1 0h1m5 0h1m11 0h1m-232 1h6m3 0h2m1 0h1m5 0h1m162 0h1m6 0h1m2 0h1m4 0h3m2 0h1m5 0h1m1 0h2m-211 1h1m1 0h1m1 0h1m1 0h1m4 0h1m2 0h1m2 0h1m17 0h1m134 0h1m3 0h1m4 0h1m3 0h1m10 0h3m3 0h1m3 0h1m1 0h2m1 0h1m1 0h2m1 0h1m3 0h1m4 0h1m4 0h1m-224 1h1m6 0h1m3 0h2m3 0h1m7 0h1m154 0h1m2 0h1m1 0h1m3 0h2m1 0h2m2 0h3m3 0h1m6 0h3m4 0h1m7 0h1m8 0h1m-229 1h2m1 0h3m3 0h2m4 0h1m5 0h1m142 0h1m10 0h2m5 0h1m3 0h1m3 0h2m3 0h1m2 0h1m5 0h1m9 0h1m-224 1h1m3 0h1m6 0h3m2 0h1m7 0h2m5 0h1m1 0h1m141 0h1m2 0h1m1 0h1m2 0h2m1 0h1m1 0h2m10 0h1m7 0h1m2 0h1m5 0h1m3 0h1m-201 1h2m18 0h1m116 0h1m17 0h1m5 0h1m2 0h2m1 0h1m4 0h1m3 0h1m3 0h1m1 0h1m-202 1h2m9 0h1m10 0h1m6 0h1m4 0h1m2 0h1m119 0h1m8 0h1m10 0h2m2 0h1m1 0h3m6 0h1m4 0h1m3 0h1m6 0h1m1 0h1m-203 1h1m3 0h1m3 0h1m1 0h1m3 0h1m2 0h1m10 0h2m106 0h1m5 0h1m14 0h1m3 0h1m1 0h1m5 0h1m3 0h1m1 0h2m1 0h1m5 0h1m2 0h1m3 0h1m5 0h1m1 0h1m-194 1h1m2 0h1m3 0h4m12 0h1m121 0h2m3 0h1m6 0h1m12 0h1m1 0h1m1 0h1m1 0h1m3 0h1m5 0h1m1 0h1m-199 1h1m4 0h1m1 0h1m2 0h1m4 0h2m4 0h2m5 0h1m1 0h1m2 0h1m6 0h1m102 0h1m1 0h1m5 0h1m4 0h1m4 0h1m1 0h1m2 0h2m2 0h1m1 0h2m4 0h1m2 0h1m3 0h1m4 0h2m1 0h1m-181 1h1m4 0h1m1 0h1m4 0h1m2 0h1m10 0h1m63 0h1m44 0h1m1 0h2m7 0h1m1 0h1m3 0h2m9 0h1m5 0h2m16 0h1m2 0h1m-197 1h1m8 0h1m2 0h3m2 0h1m1 0h1m1 0h1m7 0h2m3 0h1m2 0h1m3 0h1m82 0h1m15 0h1m2 0h2m2 0h2m5 0h1m35 0h2m-203 1h1m15 0h1m4 0h2m3 0h2m1 0h2m3 0h1m5 0h1m3 0h1m8 0h1m2 0h1m84 0h1m2 0h1m2 0h2m4 0h1m4 0h1m10 0h1m3 0h1m6 0h3m11 0h1m-184 1h1m2 0h1m1 0h1m12 0h1m5 0h1m2 0h1m3 0h1m3 0h1m1 0h1m4 0h1m34 0h1m49 0h1m29 0h4m2 0h1m-164 1h1m7 0h2m2 0h1m2 0h3m3 0h1m2 0h1m5 0h3m5 0h1m7 0h1m23 0h1m12 0h1m34 0h1m3 0h1m9 0h1m5 0h1m4 0h2m6 0h1m2 0h1m2 0h1m4 0h1m6 0h1m2 0h2m-161 1h1m9 0h1m1 0h1m3 0h1m1 0h1m5 0h1m6 0h1m58 0h1m2 0h1m7 0h1m9 0h2m4 0h1m3 0h1m2 0h1m1 0h1m7 0h2m6 0h1m2 0h1m8 0h1m-153 1h1m1 0h1m3 0h2m7 0h1m3 0h2m6 0h3m3 0h3m16 0h1m9 0h1m27 0h1m3 0h1m4 0h2m9 0h1m10 0h1m3 0h1m7 0h4m5 0h1m1 0h3m16 0h1m-171 1h1m3 0h1m7 0h1m1 0h1m10 0h1m1 0h1m7 0h1m9 0h1m3 0h2m5 0h1m5 0h1m4 0h1m6 0h1m11 0h1m6 0h1m10 0h2m1 0h1m10 0h1m9 0h1m1 0h1m4 0h4m4 0h1m2 0h1m7 0h1m12 0h1m-173 1h1m11 0h1m14 0h1m9 0h1m8 0h1m4 0h1m1 0h1m18 0h1m5 0h2m7 0h1m7 0h1m5 0h2m5 0h1m7 0h3m5 0h1m7 0h1m1 0h1m5 0h2m3 0h1m10 0h1m-140 1h1m1 0h1m2 0h1m1 0h1m1 0h3m11 0h1m1 0h1m5 0h1m1 0h1m1 0h1m12 0h1m8 0h1m16 0h1m1 0h1m4 0h1m2 0h1m11 0h1m2 0h1m3 0h1m4 0h1m2 0h1m8 0h3m1 0h1m15 0h1m-151 1h1m19 0h2m4 0h1m1 0h1m1 0h2m7 0h1m2 0h2m15 0h1m1 0h2m1 0h2m2 0h3m7 0h1m3 0h1m14 0h1m5 0h1m3 0h2m1 0h1m3 0h2m17 0h2m2 0h1m15 0h1m-137 1h1m10 0h1m2 0h1m5 0h1m1 0h2m2 0h1m2 0h1m9 0h1m3 0h1m1 0h1m2 0h1m2 0h2m14 0h1m9 0h1m1 0h3m6 0h1m2 0h1m3 0h1m4 0h1m3 0h1m3 0h1m1 0h2m-118 1h1m5 0h1m2 0h1m13 0h1m6 0h1m2 0h1m1 0h1m5 0h1m1 0h1m1 0h1m1 0h1m3 0h1m7 0h3m1 0h1m3 0h1m2 0h3m1 0h2m3 0h1m6 0h1m1 0h1m1 0h1m6 0h1m2 0h1m2 0h1m1 0h2m4 0h1m4 0h2m1 0h1m4 0h1m4 0h1m-103 1h1m3 0h1m4 0h1m1 0h1m3 0h3m1 0h1m2 0h2m5 0h2m4 0h1m4 0h1m3 0h1m10 0h1m1 0h2m2 0h1m3 0h1m1 0h1m1 0h1m1 0h1m2 0h1m1 0h1m5 0h2m1 0h2m1 0h3m11 0h1m-120 1h1m5 0h1m1 0h1m2 0h1m5 0h1m4 0h3m1 0h1m1 0h1m2 0h2m5 0h1m5 0h2m1 0h1m2 0h1m4 0h2m1 0h2m6 0h2m9 0h1m1 0h2m1 0h3m1 0h2m9 0h1m-95 1h1m5 0h1m5 0h1m3 0h1m7 0h1m1 0h1m4 0h4m5 0h3m1 0h3m3 0h1m3 0h1m1 0h1m1 0h1m2 0h2m3 0h1m9 0h1m1 0h1m1 0h1m1 0h2m6 0h1m9 0h2m6 0h2m-104 1h1m7 0h1m4 0h1m9 0h1m2 0h2m1 0h1m2 0h1m2 0h1m1 0h1m1 0h1m1 0h2m3 0h1m1 0h1m1 0h4m4 0h2m4 0h2m2 0h1m3 0h1m6 0h2m5 0h1m3 0h1m6 0h1m4 0h1m-118 1h1m14 0h1m5 0h2m9 0h1m3 0h1m5 0h1m2 0h1m2 0h2m1 0h1m2 0h2m4 0h2m2 0h1m10 0h1m3 0h1m2 0h1m6 0h2m1 0h2m16 0h1m-101 1h1m8 0h1m10 0h1m3 0h1m7 0h1m3 0h1m1 0h1m3 0h1m3 0h1m2 0h1m2 0h3m5 0h1m9 0h2m1 0h4m5 0h1m1 0h1m-63 1h1m1 0h1m2 0h2m10 0h1m1 0h1m21 0h1m2 0h1m1 0h1m2 0h2m3 0h1m10 0h1m-69 1h1m1 0h1m25 0h3m2 0h1m1 0h1m2 0h2m1 0h1m3 0h1m4 0h1m1 0h1m3 0h1m1 0h1m1 0h1m11 0h1m-73 1h3m15 0h1m4 0h1m8 0h1m2 0h2m8 0h3m1 0h2m3 0h1m6 0h2m6 0h1m-71 1h1m21 0h1m4 0h1m5 0h1m7 0h1m8 0h1m1 0h1m-56 1h1m14 0h1m7 0h1m1 0h1m3 0h1m12 0h1m2 0h1m9 0h1m8 0h1m7 0h1m-76 1h1m33 0h1m6 0h1m7 0h1m-15 1h1m14 0h1m-29 1h1m19 0h1m25 0h1m-40 2h1"/><path stroke="#80ec30" d="M0 .5m269 557h1m-32 1h1m14 0h1m7 0h1m2 1h1m11 0h1m8 0h1m-29 1h1m25 0h1m-71 1h1m3 0h1m2 0h1m13 0h1m36 0h1m-26 1h1m19 0h1m3 0h1m5 0h1m-112 1h1m66 0h1m35 0h1m15 0h1m15 0h1m-105 1h1m55 0h1m13 0h1m27 0h1m-96 1h1m6 0h2m57 0h1m25 0h1m-122 1h1m94 0h1m27 0h1m-95 1h1m20 0h1m97 0h1m-190 1h1m46 0h1m115 0h1m13 0h1m2 0h1m-98 1h1m-87 1h1m41 0h1m150 0h1m-177 1h1m7 0h1m4 0h1m30 0h1m-54 1h1m8 0h1m169 0h1m1 0h1m-2 1h1m5 0h1m-4 1h1m5 0h1m-207 1h1m7 0h1m34 0h1m165 0h1m-215 1h1m11 0h1m199 0h2m-205 1h1m2 0h1m8 0h1m186 1h1m4 0h1m2 0h1m-229 1h1m12 0h1m210 0h1m-216 2h1m15 0h1m205 0h1m-235 1h1m3 0h2m231 0h1m-245 1h1m5 0h1m237 1h1m1 1h1m-246 1h2m234 0h1m7 0h1m-6 1h1m9 1h1m-263 1h1m6 1h1m1 0h1m5 0h1m2 0h1m243 0h1m5 0h1m-17 1h1m5 0h1m-260 2h1m11 0h1m-10 1h1m258 0h1m2 2h1m1 1h1m-267 1h1m6 0h1m-2 2h1m251 0h1m9 0h2m-270 1h1m267 0h1m-271 2h1m2 2h2m273 0h1m3 1h1m-5 2h1m-284 1h1m283 1h1m0 1h1m3 1h1m-291 1h1m2 0h2m-4 1h2m-5 1h3m286 0h2m-286 1h1m282 0h2m-2 1h1m1 0h1m-293 1h1m3 0h1m2 1h1m285 0h1m-291 1h1m1 0h2m-7 1h1m2 0h1m1 0h1m-4 1h1m4 0h1m283 0h1m-289 1h1m295 0h1m-289 1h1m285 0h1m3 1h1m-302 1h1m7 0h1m-4 1h1m3 0h1m284 0h1m5 0h1m-302 1h1m6 0h1m291 0h1m-300 1h1m299 0h1m2 0h1m2 0h1m-301 1h1m288 0h1m-297 1h1m8 0h1m-2 1h1m-3 1h1m-1 2h1m1 0h1m-3 2h1m-1 1h1m3 0h1m-10 1h1m10 1h1m296 1h1m-306 1h1m7 0h1m-8 1h1m302 0h1m-303 1h1m-2 2h1m304 0h1m2 0h1m-312 1h1m1 2h1m306 0h1m-308 1h1m6 0h1m-9 1h1m3 0h1m303 0h1m-309 1h1m6 0h1m-6 1h1m305 0h1m-302 1h1m-7 2h1m-1 1h2m-3 1h1m309 0h2m0 1h1m-311 2h1m307 0h1m3 0h1m-4 3h1m-310 1h2m1 0h1m305 0h1m-302 1h1m-5 1h1m306 1h1m-313 4h1m-3 2h1m311 1h1m-1 3h1m4 0h1m-9 2h1m-305 2h1m311 3h1m-316 2h1m309 0h1m-310 2h1m3 1h1m-4 1h1m311 0h1m-6 1h1m3 1h1m-2 1h1m-306 1h1m298 0h1m9 2h1m-7 2h1m-305 3h1m307 1h1m0 1h1m-311 1h2m-3 1h1m307 1h1m2 0h1m-314 1h1m308 3h1m-311 2h1m5 0h1m307 2h1m-2 1h1m-307 1h1m302 0h1m5 0h1m-5 1h1m-7 1h1m6 1h1m1 1h1m-6 1h1m-3 2h1m-304 1h1m307 0h1m-2 1h1m-4 1h1m1 0h1m0 1h1m1 1h1m-6 1h1m-303 3h1m307 1h1m-5 2h1m1 0h1m-306 1h1m-3 1h1m309 1h1m-315 1h1m5 0h1m1 0h1m300 0h1m9 0h1m-14 1h1m-297 1h1m-7 2h1m307 1h1m-2 3h1m1 2h1m0 1h1m-304 1h1m-4 2h1m307 1h1m-304 2h1m295 3h1m-301 1h1m303 0h1m-299 1h1m292 1h1m-3 1h1m8 2h1m-10 1h1m4 0h1m2 0h1m-6 2h1m1 0h1m-1 1h1m1 0h1m-299 1h1m294 0h1m-3 1h1m0 2h1m-6 1h1m1 0h2m-1 2h1m2 1h1m-295 1h1m9 0h1m284 2h1m-293 2h1m3 1h1m273 2h1m10 0h1m-11 2h1m5 0h1m3 0h1m-283 2h1m270 0h1m6 0h1m-6 1h1m-4 1h1m1 0h1m-8 3h1m1 0h1m1 0h1m-5 1h1m10 0h1m-11 1h1m8 0h1m-19 1h1m10 0h1m-3 1h1m-269 2h1m254 0h1m10 0h1m5 1h1m-18 1h1m6 0h1m-9 1h1m-1 1h1m9 0h1m-4 1h1m-15 1h1m3 0h1m14 0h1m-22 2h2m12 0h1m-251 1h1m239 0h1m-6 1h1m-6 1h1m-2 1h1m6 0h1m-4 2h1m3 0h1m-11 1h1m9 1h1m-235 1h1m222 0h1m-210 3h1m190 0h1m-189 2h1m164 1h1m-175 1h1m180 0h1m-166 1h1m5 0h1m173 0h1m-9 1h1m-14 1h1m-161 1h2m170 0h1m-164 2h1m-6 1h1m149 0h1m4 1h1m-130 1h1m-7 1h1m117 1h1m-105 1h1m107 0h1m-127 1h1m115 0h1m-98 1h1m11 0h1m7 0h1m59 0h1m-10 1h1m12 0h1m1 0h1m13 0h1m-104 1h1m69 0h1m10 0h1m8 1h1m-67 1h1m27 0h1m19 0h1m12 0h1m-72 1h1m63 0h1m-70 1h1m4 0h1m14 0h1m26 0h1m9 0h1m-44 1h1m-22 2h1m7 0h1m27 2h1m16 0h1m-33 1h1m28 0h1m-23 1h1m36 2h1"/><path stroke="#d0c828" d="M0 .5m326 582h1m-237 7h1m261 23h1m-282 12h1m0 14h1m302 1h1m-303 6h1m-3 2h1m308 27h1m-306 17h1m-4 17h1m306 42h1m2 7h1m-4 5h1m2 12h1m-9 11h1m-258 29h1"/></g>
<ellipse cx="223.2" cy="703.4" rx="160.4" ry="157.2" fill="none" stroke="#f01010" stroke-width="3" stroke-linecap="round" stroke-dasharray="5.2 5.5 0.01 5.5"/>
<g stroke="#f01010" stroke-width="1.8" fill="none"><line x1="224" y1="702" x2="380" y2="702"/><line x1="224" y1="702" x2="337" y2="605.5"/><path d="M255.4 675.4 A41 41 0 0 1 264.5 697"/><line x1="291" y1="569.5" x2="297.5" y2="559.5"/></g>
<g fill="#f01010"><path d="M386 702 L377.5 698.2 L377.5 705.8z"/><path d="M343 600.5 L333.6 603.4 L338.4 609z"/><path d="M264.7 702.5 L261 694.5 L268.2 694.8z"/><path d="M300.5 554.5 L293.2 560.5 L301 564.5z"/><path d="M288.1 575.9 L287.5 566.5 L295.3 570.5z"/></g>
<text x="279.8" y="597.8" font-size="18.5" text-anchor="middle">&#916;r</text>
<text x="315.5" y="641.8" font-size="21.5" text-anchor="middle">r</text>
<text x="273" y="691.3" font-size="20.5" text-anchor="middle">&#952;</text>
<text x="69.5" y="555.5" font-size="13" text-anchor="middle" style="stroke-width:0.12px">(c)</text>
<g stroke="#1a1a1a" stroke-width="1.3" fill="none"><rect x="48.8" y="531.2" width="352.4" height="342.8"/><line x1="48.8" y1="874" x2="48.8" y2="868.5"/><line x1="48.8" y1="531.2" x2="48.8" y2="536.7"/><line x1="48.8" y1="874" x2="54.3" y2="874"/><line x1="401.2" y1="874" x2="395.7" y2="874"/><line x1="66.4" y1="874" x2="66.4" y2="871"/><line x1="66.4" y1="531.2" x2="66.4" y2="534.2"/><line x1="48.8" y1="856.9" x2="51.8" y2="856.9"/><line x1="401.2" y1="856.9" x2="398.2" y2="856.9"/><line x1="84" y1="874" x2="84" y2="868.5"/><line x1="84" y1="531.2" x2="84" y2="536.7"/><line x1="48.8" y1="839.7" x2="54.3" y2="839.7"/><line x1="401.2" y1="839.7" x2="395.7" y2="839.7"/><line x1="101.7" y1="874" x2="101.7" y2="871"/><line x1="101.7" y1="531.2" x2="101.7" y2="534.2"/><line x1="48.8" y1="822.6" x2="51.8" y2="822.6"/><line x1="401.2" y1="822.6" x2="398.2" y2="822.6"/><line x1="119.3" y1="874" x2="119.3" y2="868.5"/><line x1="119.3" y1="531.2" x2="119.3" y2="536.7"/><line x1="48.8" y1="805.4" x2="54.3" y2="805.4"/><line x1="401.2" y1="805.4" x2="395.7" y2="805.4"/><line x1="136.9" y1="874" x2="136.9" y2="871"/><line x1="136.9" y1="531.2" x2="136.9" y2="534.2"/><line x1="48.8" y1="788.3" x2="51.8" y2="788.3"/><line x1="401.2" y1="788.3" x2="398.2" y2="788.3"/><line x1="154.5" y1="874" x2="154.5" y2="868.5"/><line x1="154.5" y1="531.2" x2="154.5" y2="536.7"/><line x1="48.8" y1="771.2" x2="54.3" y2="771.2"/><line x1="401.2" y1="771.2" x2="395.7" y2="771.2"/><line x1="172.1" y1="874" x2="172.1" y2="871"/><line x1="172.1" y1="531.2" x2="172.1" y2="534.2"/><line x1="48.8" y1="754" x2="51.8" y2="754"/><line x1="401.2" y1="754" x2="398.2" y2="754"/><line x1="189.8" y1="874" x2="189.8" y2="868.5"/><line x1="189.8" y1="531.2" x2="189.8" y2="536.7"/><line x1="48.8" y1="736.9" x2="54.3" y2="736.9"/><line x1="401.2" y1="736.9" x2="395.7" y2="736.9"/><line x1="207.4" y1="874" x2="207.4" y2="871"/><line x1="207.4" y1="531.2" x2="207.4" y2="534.2"/><line x1="48.8" y1="719.7" x2="51.8" y2="719.7"/><line x1="401.2" y1="719.7" x2="398.2" y2="719.7"/><line x1="225" y1="874" x2="225" y2="868.5"/><line x1="225" y1="531.2" x2="225" y2="536.7"/><line x1="48.8" y1="702.6" x2="54.3" y2="702.6"/><line x1="401.2" y1="702.6" x2="395.7" y2="702.6"/><line x1="242.6" y1="874" x2="242.6" y2="871"/><line x1="242.6" y1="531.2" x2="242.6" y2="534.2"/><line x1="48.8" y1="685.5" x2="51.8" y2="685.5"/><line x1="401.2" y1="685.5" x2="398.2" y2="685.5"/><line x1="260.2" y1="874" x2="260.2" y2="868.5"/><line x1="260.2" y1="531.2" x2="260.2" y2="536.7"/><line x1="48.8" y1="668.3" x2="54.3" y2="668.3"/><line x1="401.2" y1="668.3" x2="395.7" y2="668.3"/><line x1="277.9" y1="874" x2="277.9" y2="871"/><line x1="277.9" y1="531.2" x2="277.9" y2="534.2"/><line x1="48.8" y1="651.2" x2="51.8" y2="651.2"/><line x1="401.2" y1="651.2" x2="398.2" y2="651.2"/><line x1="295.5" y1="874" x2="295.5" y2="868.5"/><line x1="295.5" y1="531.2" x2="295.5" y2="536.7"/><line x1="48.8" y1="634" x2="54.3" y2="634"/><line x1="401.2" y1="634" x2="395.7" y2="634"/><line x1="313.1" y1="874" x2="313.1" y2="871"/><line x1="313.1" y1="531.2" x2="313.1" y2="534.2"/><line x1="48.8" y1="616.9" x2="51.8" y2="616.9"/><line x1="401.2" y1="616.9" x2="398.2" y2="616.9"/><line x1="330.7" y1="874" x2="330.7" y2="868.5"/><line x1="330.7" y1="531.2" x2="330.7" y2="536.7"/><line x1="48.8" y1="599.8" x2="54.3" y2="599.8"/><line x1="401.2" y1="599.8" x2="395.7" y2="599.8"/><line x1="348.3" y1="874" x2="348.3" y2="871"/><line x1="348.3" y1="531.2" x2="348.3" y2="534.2"/><line x1="48.8" y1="582.6" x2="51.8" y2="582.6"/><line x1="401.2" y1="582.6" x2="398.2" y2="582.6"/><line x1="366" y1="874" x2="366" y2="868.5"/><line x1="366" y1="531.2" x2="366" y2="536.7"/><line x1="48.8" y1="565.5" x2="54.3" y2="565.5"/><line x1="401.2" y1="565.5" x2="395.7" y2="565.5"/><line x1="383.6" y1="874" x2="383.6" y2="871"/><line x1="383.6" y1="531.2" x2="383.6" y2="534.2"/><line x1="48.8" y1="548.3" x2="51.8" y2="548.3"/><line x1="401.2" y1="548.3" x2="398.2" y2="548.3"/><line x1="401.2" y1="874" x2="401.2" y2="868.5"/><line x1="401.2" y1="531.2" x2="401.2" y2="536.7"/><line x1="48.8" y1="531.2" x2="54.3" y2="531.2"/><line x1="401.2" y1="531.2" x2="395.7" y2="531.2"/></g>
<text x="42.3" y="879" font-size="14.6" text-anchor="end" style="stroke-width:0.12px">-1,0</text>
<text x="48.8" y="893" font-size="14.6" text-anchor="middle" style="stroke-width:0.12px">-1,0</text>
<text x="42.3" y="844.7" font-size="14.6" text-anchor="end" style="stroke-width:0.12px">-0,8</text>
<text x="84" y="893" font-size="14.6" text-anchor="middle" style="stroke-width:0.12px">-0,8</text>
<text x="42.3" y="810.4" font-size="14.6" text-anchor="end" style="stroke-width:0.12px">-0,6</text>
<text x="119.3" y="893" font-size="14.6" text-anchor="middle" style="stroke-width:0.12px">-0,6</text>
<text x="42.3" y="776.2" font-size="14.6" text-anchor="end" style="stroke-width:0.12px">-0,4</text>
<text x="154.5" y="893" font-size="14.6" text-anchor="middle" style="stroke-width:0.12px">-0,4</text>
<text x="42.3" y="741.9" font-size="14.6" text-anchor="end" style="stroke-width:0.12px">-0,2</text>
<text x="189.8" y="893" font-size="14.6" text-anchor="middle" style="stroke-width:0.12px">-0,2</text>
<text x="42.3" y="707.6" font-size="14.6" text-anchor="end" style="stroke-width:0.12px">0,0</text>
<text x="225" y="893" font-size="14.6" text-anchor="middle" style="stroke-width:0.12px">0,0</text>
<text x="42.3" y="673.3" font-size="14.6" text-anchor="end" style="stroke-width:0.12px">0,2</text>
<text x="260.2" y="893" font-size="14.6" text-anchor="middle" style="stroke-width:0.12px">0,2</text>
<text x="42.3" y="639" font-size="14.6" text-anchor="end" style="stroke-width:0.12px">0,4</text>
<text x="295.5" y="893" font-size="14.6" text-anchor="middle" style="stroke-width:0.12px">0,4</text>
<text x="42.3" y="604.8" font-size="14.6" text-anchor="end" style="stroke-width:0.12px">0,6</text>
<text x="330.7" y="893" font-size="14.6" text-anchor="middle" style="stroke-width:0.12px">0,6</text>
<text x="42.3" y="570.5" font-size="14.6" text-anchor="end" style="stroke-width:0.12px">0,8</text>
<text x="366" y="893" font-size="14.6" text-anchor="middle" style="stroke-width:0.12px">0,8</text>
<text x="42.3" y="536.2" font-size="14.6" text-anchor="end" style="stroke-width:0.12px">1,0</text>
<text x="401.2" y="893" font-size="14.6" text-anchor="middle" style="stroke-width:0.12px">1,0</text>
<text x="222.8" y="910.3" font-size="15" style="stroke-width:0.12px">A<tspan font-size="10.5" dx="1.6" dy="5">low</tspan></text>
<text transform="translate(12.6 709) rotate(-90)" font-size="15" style="stroke-width:0.12px">A<tspan font-size="10.5" dx="0.6" dy="5.3">high</tspan></text>
</svg></body></html>
